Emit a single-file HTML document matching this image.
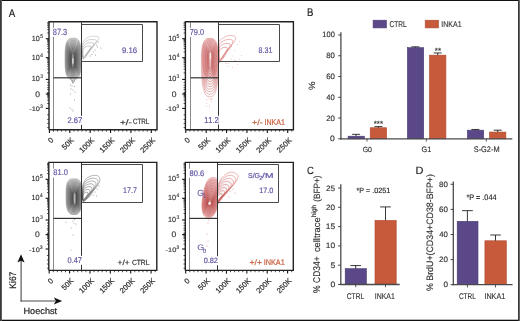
<!DOCTYPE html>
<html><head><meta charset="utf-8"><style>
html,body{margin:0;padding:0;background:#fff;width:520px;height:321px;overflow:hidden}
svg{display:block;will-change:transform}
</style></head><body>
<svg width="520" height="321" viewBox="0 0 520 321" font-family='"Liberation Sans", sans-serif' text-rendering="geometricPrecision" style="font-kerning:none"><defs><clipPath id="cTL"><rect x="49" y="22" width="32.5" height="108"/></clipPath><clipPath id="cTR"><rect x="185.4" y="22" width="32.599999999999994" height="108"/></clipPath><clipPath id="cBL"><rect x="48.8" y="162.5" width="32.60000000000001" height="107.5"/></clipPath><clipPath id="cBR"><rect x="185.3" y="162.5" width="32.69999999999999" height="107.5"/></clipPath><clipPath id="fTL"><rect x="81.5" y="22" width="75.5" height="108"/></clipPath><clipPath id="fTR"><rect x="218" y="22" width="76" height="108"/></clipPath><clipPath id="fBL"><rect x="81.4" y="162.5" width="75.6" height="107.5"/></clipPath><clipPath id="fBR"><rect x="218" y="162.5" width="76" height="107.5"/></clipPath></defs><rect x="0.00" y="0.00" width="520.00" height="321.00" fill="#fff" stroke="none" stroke-width="0"/><line x1="47.20" y1="32.98" x2="49.00" y2="32.98" stroke="#222" stroke-width="0.8"/><line x1="47.20" y1="29.63" x2="49.00" y2="29.63" stroke="#222" stroke-width="0.8"/><line x1="47.20" y1="27.26" x2="49.00" y2="27.26" stroke="#222" stroke-width="0.8"/><line x1="47.20" y1="25.42" x2="49.00" y2="25.42" stroke="#222" stroke-width="0.8"/><line x1="47.20" y1="23.92" x2="49.00" y2="23.92" stroke="#222" stroke-width="0.8"/><line x1="47.20" y1="22.64" x2="49.00" y2="22.64" stroke="#222" stroke-width="0.8"/><line x1="47.20" y1="51.98" x2="49.00" y2="51.98" stroke="#222" stroke-width="0.8"/><line x1="47.20" y1="48.63" x2="49.00" y2="48.63" stroke="#222" stroke-width="0.8"/><line x1="47.20" y1="46.26" x2="49.00" y2="46.26" stroke="#222" stroke-width="0.8"/><line x1="47.20" y1="44.42" x2="49.00" y2="44.42" stroke="#222" stroke-width="0.8"/><line x1="47.20" y1="42.92" x2="49.00" y2="42.92" stroke="#222" stroke-width="0.8"/><line x1="47.20" y1="41.64" x2="49.00" y2="41.64" stroke="#222" stroke-width="0.8"/><line x1="47.20" y1="40.54" x2="49.00" y2="40.54" stroke="#222" stroke-width="0.8"/><line x1="47.20" y1="39.57" x2="49.00" y2="39.57" stroke="#222" stroke-width="0.8"/><line x1="47.20" y1="72.87" x2="49.00" y2="72.87" stroke="#222" stroke-width="0.8"/><line x1="47.20" y1="69.05" x2="49.00" y2="69.05" stroke="#222" stroke-width="0.8"/><line x1="47.20" y1="66.34" x2="49.00" y2="66.34" stroke="#222" stroke-width="0.8"/><line x1="47.20" y1="64.23" x2="49.00" y2="64.23" stroke="#222" stroke-width="0.8"/><line x1="47.20" y1="62.51" x2="49.00" y2="62.51" stroke="#222" stroke-width="0.8"/><line x1="47.20" y1="61.06" x2="49.00" y2="61.06" stroke="#222" stroke-width="0.8"/><line x1="47.20" y1="59.80" x2="49.00" y2="59.80" stroke="#222" stroke-width="0.8"/><line x1="47.20" y1="58.69" x2="49.00" y2="58.69" stroke="#222" stroke-width="0.8"/><line x1="47.20" y1="82.40" x2="49.00" y2="82.40" stroke="#222" stroke-width="0.8"/><line x1="47.20" y1="85.20" x2="49.00" y2="85.20" stroke="#222" stroke-width="0.8"/><line x1="47.20" y1="87.70" x2="49.00" y2="87.70" stroke="#222" stroke-width="0.8"/><line x1="47.20" y1="89.60" x2="49.00" y2="89.60" stroke="#222" stroke-width="0.8"/><line x1="47.20" y1="92.50" x2="49.00" y2="92.50" stroke="#222" stroke-width="0.8"/><line x1="47.20" y1="93.50" x2="49.00" y2="93.50" stroke="#222" stroke-width="0.8"/><line x1="47.20" y1="94.50" x2="49.00" y2="94.50" stroke="#222" stroke-width="0.8"/><line x1="47.20" y1="95.50" x2="49.00" y2="95.50" stroke="#222" stroke-width="0.8"/><line x1="47.20" y1="96.60" x2="49.00" y2="96.60" stroke="#222" stroke-width="0.8"/><line x1="47.20" y1="98.00" x2="49.00" y2="98.00" stroke="#222" stroke-width="0.8"/><line x1="47.20" y1="100.20" x2="49.00" y2="100.20" stroke="#222" stroke-width="0.8"/><line x1="47.20" y1="103.50" x2="49.00" y2="103.50" stroke="#222" stroke-width="0.8"/><line x1="47.20" y1="114.90" x2="49.00" y2="114.90" stroke="#222" stroke-width="0.8"/><line x1="47.20" y1="119.40" x2="49.00" y2="119.40" stroke="#222" stroke-width="0.8"/><line x1="47.20" y1="123.40" x2="49.00" y2="123.40" stroke="#222" stroke-width="0.8"/><line x1="47.20" y1="127.60" x2="49.00" y2="127.60" stroke="#222" stroke-width="0.8"/><line x1="45.80" y1="38.70" x2="49.00" y2="38.70" stroke="#111" stroke-width="1.1"/><line x1="45.80" y1="57.70" x2="49.00" y2="57.70" stroke="#111" stroke-width="1.1"/><line x1="45.80" y1="79.40" x2="49.00" y2="79.40" stroke="#111" stroke-width="1.1"/><line x1="45.80" y1="94.00" x2="49.00" y2="94.00" stroke="#111" stroke-width="1.1"/><line x1="45.80" y1="108.40" x2="49.00" y2="108.40" stroke="#111" stroke-width="1.1"/><line x1="53.48" y1="129.80" x2="53.48" y2="131.60" stroke="#222" stroke-width="0.8"/><line x1="57.55" y1="129.80" x2="57.55" y2="131.60" stroke="#222" stroke-width="0.8"/><line x1="61.63" y1="129.80" x2="61.63" y2="131.60" stroke="#222" stroke-width="0.8"/><line x1="65.70" y1="129.80" x2="65.70" y2="131.60" stroke="#222" stroke-width="0.8"/><line x1="73.86" y1="129.80" x2="73.86" y2="131.60" stroke="#222" stroke-width="0.8"/><line x1="77.93" y1="129.80" x2="77.93" y2="131.60" stroke="#222" stroke-width="0.8"/><line x1="82.01" y1="129.80" x2="82.01" y2="131.60" stroke="#222" stroke-width="0.8"/><line x1="86.08" y1="129.80" x2="86.08" y2="131.60" stroke="#222" stroke-width="0.8"/><line x1="94.24" y1="129.80" x2="94.24" y2="131.60" stroke="#222" stroke-width="0.8"/><line x1="98.31" y1="129.80" x2="98.31" y2="131.60" stroke="#222" stroke-width="0.8"/><line x1="102.39" y1="129.80" x2="102.39" y2="131.60" stroke="#222" stroke-width="0.8"/><line x1="106.46" y1="129.80" x2="106.46" y2="131.60" stroke="#222" stroke-width="0.8"/><line x1="114.62" y1="129.80" x2="114.62" y2="131.60" stroke="#222" stroke-width="0.8"/><line x1="118.69" y1="129.80" x2="118.69" y2="131.60" stroke="#222" stroke-width="0.8"/><line x1="122.77" y1="129.80" x2="122.77" y2="131.60" stroke="#222" stroke-width="0.8"/><line x1="126.84" y1="129.80" x2="126.84" y2="131.60" stroke="#222" stroke-width="0.8"/><line x1="135.00" y1="129.80" x2="135.00" y2="131.60" stroke="#222" stroke-width="0.8"/><line x1="139.07" y1="129.80" x2="139.07" y2="131.60" stroke="#222" stroke-width="0.8"/><line x1="143.15" y1="129.80" x2="143.15" y2="131.60" stroke="#222" stroke-width="0.8"/><line x1="147.22" y1="129.80" x2="147.22" y2="131.60" stroke="#222" stroke-width="0.8"/><line x1="155.38" y1="129.80" x2="155.38" y2="131.60" stroke="#222" stroke-width="0.8"/><line x1="49.40" y1="129.80" x2="49.40" y2="133.00" stroke="#111" stroke-width="1.1"/><line x1="69.78" y1="129.80" x2="69.78" y2="133.00" stroke="#111" stroke-width="1.1"/><line x1="90.16" y1="129.80" x2="90.16" y2="133.00" stroke="#111" stroke-width="1.1"/><line x1="110.54" y1="129.80" x2="110.54" y2="133.00" stroke="#111" stroke-width="1.1"/><line x1="130.92" y1="129.80" x2="130.92" y2="133.00" stroke="#111" stroke-width="1.1"/><line x1="151.30" y1="129.80" x2="151.30" y2="133.00" stroke="#111" stroke-width="1.1"/><path d="M81.10,58.80 C81.10,60.71 81.09,63.05 81.06,64.51 C81.03,65.97 80.99,66.65 80.93,67.57 C80.87,68.48 80.80,69.25 80.71,69.99 C80.63,70.74 80.53,71.40 80.41,72.03 C80.30,72.66 80.17,73.23 80.02,73.76 C79.88,74.29 79.72,74.78 79.54,75.23 C79.37,75.68 79.18,76.08 78.97,76.45 C78.76,76.82 78.53,77.15 78.29,77.45 C78.04,77.74 77.78,78.00 77.49,78.22 C77.20,78.43 76.90,78.62 76.54,78.76 C76.18,78.91 75.91,79.02 75.34,79.09 C74.77,79.16 73.85,79.20 73.10,79.20 C72.35,79.20 71.43,79.16 70.86,79.09 C70.29,79.02 70.02,78.91 69.66,78.76 C69.30,78.62 69.00,78.43 68.71,78.22 C68.42,78.00 68.16,77.74 67.91,77.45 C67.67,77.15 67.44,76.82 67.23,76.45 C67.02,76.08 66.83,75.68 66.66,75.23 C66.48,74.78 66.32,74.29 66.18,73.76 C66.03,73.23 65.90,72.66 65.79,72.03 C65.67,71.40 65.57,70.74 65.49,69.99 C65.40,69.25 65.33,68.48 65.27,67.57 C65.21,66.65 65.17,65.97 65.14,64.51 C65.11,63.05 65.10,60.71 65.10,58.80 C65.10,56.89 65.11,54.51 65.14,53.03 C65.17,51.55 65.21,50.87 65.27,49.95 C65.33,49.03 65.40,48.25 65.49,47.50 C65.57,46.75 65.67,46.08 65.79,45.44 C65.90,44.81 66.03,44.23 66.18,43.69 C66.32,43.16 66.48,42.67 66.66,42.21 C66.83,41.76 67.02,41.35 67.23,40.97 C67.44,40.60 67.67,40.27 67.91,39.97 C68.16,39.67 68.42,39.42 68.71,39.19 C69.00,38.97 69.30,38.79 69.66,38.64 C70.02,38.49 70.29,38.38 70.86,38.31 C71.43,38.24 72.35,38.20 73.10,38.20 C73.85,38.20 74.77,38.24 75.34,38.31 C75.91,38.38 76.18,38.49 76.54,38.64 C76.90,38.79 77.20,38.97 77.49,39.19 C77.78,39.42 78.04,39.67 78.29,39.97 C78.53,40.27 78.76,40.60 78.97,40.97 C79.18,41.35 79.37,41.76 79.54,42.21 C79.72,42.67 79.88,43.16 80.02,43.69 C80.17,44.23 80.30,44.81 80.41,45.44 C80.53,46.08 80.63,46.75 80.71,47.50 C80.80,48.25 80.87,49.03 80.93,49.95 C80.99,50.87 81.03,51.55 81.06,53.03 C81.09,54.51 81.10,56.89 81.10,58.80Z" fill="#5e5e5e" fill-opacity="0.055" stroke="#5e5e5e" stroke-width="0.45" stroke-opacity="0.9" clip-path="url(#cTL)"/><path d="M80.58,58.91 C80.58,60.73 80.56,62.95 80.54,64.34 C80.51,65.73 80.47,66.37 80.42,67.24 C80.36,68.10 80.30,68.84 80.22,69.54 C80.14,70.25 80.04,70.88 79.93,71.48 C79.83,72.07 79.70,72.61 79.57,73.12 C79.43,73.63 79.28,74.09 79.12,74.52 C78.95,74.94 78.77,75.33 78.58,75.68 C78.38,76.03 78.17,76.34 77.94,76.62 C77.71,76.90 77.47,77.15 77.19,77.35 C76.92,77.56 76.64,77.74 76.30,77.87 C75.97,78.01 75.72,78.12 75.18,78.19 C74.64,78.26 73.78,78.29 73.08,78.29 C72.38,78.29 71.52,78.26 70.98,78.19 C70.44,78.12 70.20,78.01 69.86,77.87 C69.52,77.74 69.24,77.56 68.97,77.35 C68.69,77.15 68.45,76.90 68.22,76.62 C67.99,76.34 67.78,76.03 67.58,75.68 C67.39,75.33 67.21,74.94 67.04,74.52 C66.88,74.09 66.73,73.63 66.59,73.12 C66.46,72.61 66.34,72.07 66.23,71.48 C66.12,70.88 66.03,70.25 65.95,69.54 C65.87,68.84 65.80,68.10 65.74,67.24 C65.69,66.37 65.65,65.73 65.62,64.34 C65.60,62.95 65.58,60.73 65.58,58.91 C65.58,57.09 65.60,54.83 65.62,53.43 C65.65,52.03 65.69,51.38 65.74,50.50 C65.80,49.63 65.87,48.89 65.95,48.17 C66.03,47.46 66.12,46.82 66.23,46.22 C66.34,45.62 66.46,45.07 66.59,44.56 C66.73,44.05 66.88,43.58 67.04,43.15 C67.21,42.72 67.39,42.33 67.58,41.98 C67.78,41.62 67.99,41.30 68.22,41.02 C68.45,40.74 68.69,40.50 68.97,40.28 C69.24,40.07 69.52,39.90 69.86,39.76 C70.20,39.62 70.44,39.51 70.98,39.44 C71.52,39.37 72.38,39.34 73.08,39.34 C73.78,39.34 74.64,39.37 75.18,39.44 C75.72,39.51 75.97,39.62 76.30,39.76 C76.64,39.90 76.92,40.07 77.19,40.28 C77.47,40.50 77.71,40.74 77.94,41.02 C78.17,41.30 78.38,41.62 78.58,41.98 C78.77,42.33 78.95,42.72 79.12,43.15 C79.28,43.58 79.43,44.05 79.57,44.56 C79.70,45.07 79.83,45.62 79.93,46.22 C80.04,46.82 80.14,47.46 80.22,48.17 C80.30,48.89 80.36,49.63 80.42,50.50 C80.47,51.38 80.51,52.03 80.54,53.43 C80.56,54.83 80.58,57.09 80.58,58.91Z" fill="#595959" fill-opacity="0.055" stroke="#595959" stroke-width="0.45" stroke-opacity="0.9" clip-path="url(#cTL)"/><path d="M80.06,59.02 C80.06,60.74 80.04,62.85 80.02,64.16 C79.99,65.48 79.96,66.09 79.91,66.91 C79.86,67.73 79.79,68.42 79.72,69.09 C79.64,69.76 79.56,70.36 79.46,70.92 C79.35,71.49 79.24,72.00 79.11,72.48 C78.99,72.96 78.85,73.40 78.69,73.80 C78.54,74.21 78.37,74.57 78.19,74.91 C78.01,75.24 77.81,75.54 77.60,75.80 C77.38,76.07 77.15,76.30 76.90,76.49 C76.64,76.69 76.38,76.86 76.07,76.99 C75.75,77.12 75.52,77.22 75.02,77.28 C74.52,77.35 73.72,77.38 73.06,77.38 C72.41,77.38 71.60,77.35 71.10,77.28 C70.60,77.22 70.37,77.12 70.06,76.99 C69.74,76.86 69.48,76.69 69.23,76.49 C68.97,76.30 68.74,76.07 68.53,75.80 C68.31,75.54 68.12,75.24 67.93,74.91 C67.75,74.57 67.58,74.21 67.43,73.80 C67.28,73.40 67.14,72.96 67.01,72.48 C66.88,72.00 66.77,71.49 66.67,70.92 C66.57,70.36 66.48,69.76 66.41,69.09 C66.33,68.42 66.27,67.73 66.22,66.91 C66.17,66.09 66.13,65.48 66.11,64.16 C66.08,62.85 66.07,60.74 66.07,59.02 C66.07,57.30 66.08,55.15 66.11,53.83 C66.13,52.50 66.17,51.88 66.22,51.05 C66.27,50.22 66.33,49.52 66.41,48.85 C66.48,48.17 66.57,47.57 66.67,47.00 C66.77,46.43 66.88,45.91 67.01,45.42 C67.14,44.94 67.28,44.50 67.43,44.09 C67.58,43.68 67.75,43.31 67.93,42.98 C68.12,42.64 68.31,42.34 68.53,42.07 C68.74,41.81 68.97,41.57 69.23,41.38 C69.48,41.18 69.74,41.01 70.06,40.88 C70.37,40.74 70.60,40.65 71.10,40.58 C71.60,40.51 72.41,40.48 73.06,40.48 C73.72,40.48 74.52,40.51 75.02,40.58 C75.52,40.65 75.75,40.74 76.07,40.88 C76.38,41.01 76.64,41.18 76.90,41.38 C77.15,41.57 77.38,41.81 77.60,42.07 C77.81,42.34 78.01,42.64 78.19,42.98 C78.37,43.31 78.54,43.68 78.69,44.09 C78.85,44.50 78.99,44.94 79.11,45.42 C79.24,45.91 79.35,46.43 79.46,47.00 C79.56,47.57 79.64,48.17 79.72,48.85 C79.79,49.52 79.86,50.22 79.91,51.05 C79.96,51.88 79.99,52.50 80.02,53.83 C80.04,55.15 80.06,57.30 80.06,59.02Z" fill="#545454" fill-opacity="0.055" stroke="#545454" stroke-width="0.45" stroke-opacity="0.9" clip-path="url(#cTL)"/><path d="M79.53,59.13 C79.53,60.76 79.52,62.75 79.50,63.99 C79.48,65.23 79.44,65.80 79.40,66.58 C79.35,67.36 79.29,68.01 79.22,68.64 C79.15,69.28 79.07,69.84 78.98,70.37 C78.88,70.91 78.78,71.39 78.66,71.85 C78.54,72.30 78.41,72.71 78.27,73.09 C78.13,73.47 77.97,73.82 77.80,74.13 C77.63,74.45 77.45,74.73 77.25,74.98 C77.05,75.23 76.84,75.45 76.60,75.63 C76.37,75.82 76.12,75.97 75.83,76.10 C75.54,76.22 75.33,76.32 74.86,76.38 C74.40,76.44 73.65,76.47 73.04,76.47 C72.44,76.47 71.69,76.44 71.23,76.38 C70.76,76.32 70.54,76.22 70.25,76.10 C69.96,75.97 69.72,75.82 69.48,75.63 C69.25,75.45 69.03,75.23 68.83,74.98 C68.63,74.73 68.45,74.45 68.28,74.13 C68.11,73.82 67.96,73.47 67.82,73.09 C67.67,72.71 67.54,72.30 67.43,71.85 C67.31,71.39 67.20,70.91 67.11,70.37 C67.02,69.84 66.94,69.28 66.87,68.64 C66.80,68.01 66.74,67.36 66.69,66.58 C66.64,65.80 66.61,65.23 66.59,63.99 C66.56,62.75 66.55,60.76 66.55,59.13 C66.55,57.50 66.56,55.48 66.59,54.23 C66.61,52.97 66.64,52.39 66.69,51.61 C66.74,50.82 66.80,50.16 66.87,49.52 C66.94,48.89 67.02,48.32 67.11,47.78 C67.20,47.24 67.31,46.75 67.43,46.29 C67.54,45.83 67.67,45.42 67.82,45.03 C67.96,44.64 68.11,44.30 68.28,43.98 C68.45,43.66 68.63,43.38 68.83,43.13 C69.03,42.87 69.25,42.65 69.48,42.47 C69.72,42.28 69.96,42.12 70.25,42.00 C70.54,41.87 70.76,41.78 71.23,41.71 C71.69,41.65 72.44,41.62 73.04,41.62 C73.65,41.62 74.40,41.65 74.86,41.71 C75.33,41.78 75.54,41.87 75.83,42.00 C76.12,42.12 76.37,42.28 76.60,42.47 C76.84,42.65 77.05,42.87 77.25,43.13 C77.45,43.38 77.63,43.66 77.80,43.98 C77.97,44.30 78.13,44.64 78.27,45.03 C78.41,45.42 78.54,45.83 78.66,46.29 C78.78,46.75 78.88,47.24 78.98,47.78 C79.07,48.32 79.15,48.89 79.22,49.52 C79.29,50.16 79.35,50.82 79.40,51.61 C79.44,52.39 79.48,52.97 79.50,54.23 C79.52,55.48 79.53,57.50 79.53,59.13Z" fill="#4f4f4f" fill-opacity="0.055" stroke="#4f4f4f" stroke-width="0.45" stroke-opacity="0.9" clip-path="url(#cTL)"/><path d="M79.01,59.24 C79.01,60.77 79.00,62.64 78.98,63.81 C78.96,64.98 78.93,65.52 78.88,66.25 C78.84,66.98 78.79,67.60 78.72,68.19 C78.66,68.79 78.58,69.32 78.50,69.82 C78.41,70.32 78.32,70.78 78.21,71.21 C78.10,71.63 77.98,72.02 77.85,72.38 C77.72,72.74 77.57,73.07 77.42,73.36 C77.26,73.66 77.09,73.92 76.91,74.16 C76.72,74.39 76.53,74.60 76.31,74.77 C76.09,74.95 75.87,75.09 75.60,75.21 C75.33,75.33 75.13,75.41 74.70,75.47 C74.27,75.53 73.58,75.56 73.02,75.56 C72.47,75.56 71.78,75.53 71.35,75.47 C70.92,75.41 70.72,75.33 70.45,75.21 C70.18,75.09 69.96,74.95 69.74,74.77 C69.52,74.60 69.33,74.39 69.14,74.16 C68.96,73.92 68.79,73.66 68.63,73.36 C68.48,73.07 68.33,72.74 68.20,72.38 C68.07,72.02 67.95,71.63 67.84,71.21 C67.73,70.78 67.64,70.32 67.55,69.82 C67.46,69.32 67.39,68.79 67.33,68.19 C67.26,67.60 67.21,66.98 67.16,66.25 C67.12,65.52 67.09,64.98 67.07,63.81 C67.05,62.64 67.04,60.77 67.04,59.24 C67.04,57.71 67.05,55.80 67.07,54.62 C67.09,53.44 67.12,52.90 67.16,52.16 C67.21,51.42 67.26,50.80 67.33,50.20 C67.39,49.60 67.46,49.06 67.55,48.55 C67.64,48.05 67.73,47.59 67.84,47.16 C67.95,46.72 68.07,46.33 68.20,45.97 C68.33,45.61 68.48,45.28 68.63,44.98 C68.79,44.68 68.96,44.41 69.14,44.18 C69.33,43.94 69.52,43.73 69.74,43.56 C69.96,43.38 70.18,43.23 70.45,43.11 C70.72,43.00 70.92,42.91 71.35,42.85 C71.78,42.79 72.47,42.76 73.02,42.76 C73.58,42.76 74.27,42.79 74.70,42.85 C75.13,42.91 75.33,43.00 75.60,43.11 C75.87,43.23 76.09,43.38 76.31,43.56 C76.53,43.73 76.72,43.94 76.91,44.18 C77.09,44.41 77.26,44.68 77.42,44.98 C77.57,45.28 77.72,45.61 77.85,45.97 C77.98,46.33 78.10,46.72 78.21,47.16 C78.32,47.59 78.41,48.05 78.50,48.55 C78.58,49.06 78.66,49.60 78.72,50.20 C78.79,50.80 78.84,51.42 78.88,52.16 C78.93,52.90 78.96,53.44 78.98,54.62 C79.00,55.80 79.01,57.71 79.01,59.24Z" fill="#4a4a4a" fill-opacity="0.055" stroke="#4a4a4a" stroke-width="0.45" stroke-opacity="0.9" clip-path="url(#cTL)"/><path d="M78.49,59.35 C78.49,60.79 78.48,62.54 78.46,63.64 C78.44,64.73 78.41,65.24 78.37,65.92 C78.33,66.61 78.29,67.19 78.23,67.74 C78.17,68.30 78.10,68.80 78.02,69.27 C77.94,69.74 77.85,70.17 77.75,70.57 C77.65,70.97 77.54,71.33 77.42,71.67 C77.30,72.01 77.17,72.31 77.03,72.59 C76.88,72.87 76.73,73.11 76.56,73.33 C76.39,73.55 76.22,73.75 76.02,73.91 C75.82,74.08 75.61,74.21 75.36,74.32 C75.12,74.43 74.94,74.51 74.54,74.57 C74.15,74.62 73.52,74.65 73.01,74.65 C72.49,74.65 71.86,74.62 71.47,74.57 C71.08,74.51 70.89,74.43 70.65,74.32 C70.40,74.21 70.20,74.08 70.00,73.91 C69.80,73.75 69.62,73.55 69.45,73.33 C69.28,73.11 69.13,72.87 68.98,72.59 C68.84,72.31 68.71,72.01 68.59,71.67 C68.47,71.33 68.36,70.97 68.26,70.57 C68.16,70.17 68.07,69.74 67.99,69.27 C67.91,68.80 67.84,68.30 67.78,67.74 C67.73,67.19 67.68,66.61 67.64,65.92 C67.60,65.24 67.57,64.73 67.55,63.64 C67.53,62.54 67.52,60.79 67.52,59.35 C67.52,57.91 67.53,56.13 67.55,55.02 C67.57,53.92 67.60,53.40 67.64,52.71 C67.68,52.02 67.73,51.44 67.78,50.87 C67.84,50.31 67.91,49.81 67.99,49.33 C68.07,48.86 68.16,48.42 68.26,48.02 C68.36,47.62 68.47,47.25 68.59,46.91 C68.71,46.57 68.84,46.26 68.98,45.98 C69.13,45.70 69.28,45.45 69.45,45.23 C69.62,45.01 69.80,44.81 70.00,44.65 C70.20,44.48 70.40,44.34 70.65,44.23 C70.89,44.12 71.08,44.04 71.47,43.98 C71.86,43.93 72.49,43.90 73.01,43.90 C73.52,43.90 74.15,43.93 74.54,43.98 C74.94,44.04 75.12,44.12 75.36,44.23 C75.61,44.34 75.82,44.48 76.02,44.65 C76.22,44.81 76.39,45.01 76.56,45.23 C76.73,45.45 76.88,45.70 77.03,45.98 C77.17,46.26 77.30,46.57 77.42,46.91 C77.54,47.25 77.65,47.62 77.75,48.02 C77.85,48.42 77.94,48.86 78.02,49.33 C78.10,49.81 78.17,50.31 78.23,50.87 C78.29,51.44 78.33,52.02 78.37,52.71 C78.41,53.40 78.44,53.92 78.46,55.02 C78.48,56.13 78.49,57.91 78.49,59.35Z" fill="#454545" fill-opacity="0.055" stroke="#454545" stroke-width="0.45" stroke-opacity="0.9" clip-path="url(#cTL)"/><path d="M77.97,59.46 C77.97,60.80 77.96,62.44 77.94,63.46 C77.93,64.48 77.90,64.96 77.86,65.60 C77.83,66.23 77.78,66.77 77.73,67.29 C77.68,67.82 77.61,68.28 77.54,68.72 C77.47,69.16 77.39,69.56 77.30,69.93 C77.21,70.30 77.11,70.64 77.00,70.96 C76.89,71.27 76.77,71.56 76.64,71.82 C76.51,72.08 76.37,72.31 76.22,72.51 C76.06,72.72 75.90,72.90 75.72,73.05 C75.54,73.20 75.35,73.33 75.13,73.43 C74.90,73.54 74.74,73.61 74.38,73.66 C74.03,73.71 73.45,73.74 72.99,73.74 C72.52,73.74 71.95,73.71 71.59,73.66 C71.23,73.61 71.07,73.54 70.85,73.43 C70.62,73.33 70.43,73.20 70.25,73.05 C70.07,72.90 69.91,72.72 69.76,72.51 C69.60,72.31 69.46,72.08 69.33,71.82 C69.20,71.56 69.08,71.27 68.97,70.96 C68.86,70.64 68.77,70.30 68.68,69.93 C68.58,69.56 68.50,69.16 68.43,68.72 C68.36,68.28 68.30,67.82 68.24,67.29 C68.19,66.77 68.15,66.23 68.11,65.60 C68.08,64.96 68.05,64.48 68.03,63.46 C68.01,62.44 68.00,60.80 68.00,59.46 C68.00,58.12 68.01,56.45 68.03,55.42 C68.05,54.39 68.08,53.91 68.11,53.26 C68.15,52.62 68.19,52.07 68.24,51.55 C68.30,51.02 68.36,50.55 68.43,50.11 C68.50,49.67 68.58,49.26 68.68,48.89 C68.77,48.51 68.86,48.17 68.97,47.85 C69.08,47.53 69.20,47.24 69.33,46.98 C69.46,46.72 69.60,46.49 69.76,46.28 C69.91,46.07 70.07,45.89 70.25,45.74 C70.43,45.58 70.62,45.45 70.85,45.35 C71.07,45.25 71.23,45.17 71.59,45.12 C71.95,45.07 72.52,45.04 72.99,45.04 C73.45,45.04 74.03,45.07 74.38,45.12 C74.74,45.17 74.90,45.25 75.13,45.35 C75.35,45.45 75.54,45.58 75.72,45.74 C75.90,45.89 76.06,46.07 76.22,46.28 C76.37,46.49 76.51,46.72 76.64,46.98 C76.77,47.24 76.89,47.53 77.00,47.85 C77.11,48.17 77.21,48.51 77.30,48.89 C77.39,49.26 77.47,49.67 77.54,50.11 C77.61,50.55 77.68,51.02 77.73,51.55 C77.78,52.07 77.83,52.62 77.86,53.26 C77.90,53.91 77.93,54.39 77.94,55.42 C77.96,56.45 77.97,58.12 77.97,59.46Z" fill="#404040" fill-opacity="0.055" stroke="#404040" stroke-width="0.45" stroke-opacity="0.9" clip-path="url(#cTL)"/><path d="M77.45,59.57 C77.45,60.81 77.44,62.33 77.42,63.28 C77.41,64.23 77.38,64.67 77.35,65.27 C77.32,65.86 77.28,66.36 77.23,66.84 C77.18,67.33 77.13,67.76 77.06,68.17 C77.00,68.58 76.93,68.95 76.84,69.29 C76.76,69.64 76.67,69.96 76.58,70.25 C76.48,70.54 76.37,70.80 76.25,71.04 C76.14,71.28 76.01,71.50 75.87,71.69 C75.74,71.88 75.59,72.05 75.43,72.19 C75.26,72.33 75.09,72.45 74.89,72.55 C74.69,72.64 74.54,72.71 74.22,72.76 C73.90,72.81 73.39,72.83 72.97,72.83 C72.55,72.83 72.03,72.81 71.71,72.76 C71.39,72.71 71.24,72.64 71.04,72.55 C70.84,72.45 70.67,72.33 70.51,72.19 C70.35,72.05 70.20,71.88 70.06,71.69 C69.93,71.50 69.80,71.28 69.68,71.04 C69.57,70.80 69.46,70.54 69.36,70.25 C69.26,69.96 69.17,69.64 69.09,69.29 C69.01,68.95 68.94,68.58 68.87,68.17 C68.81,67.76 68.75,67.33 68.70,66.84 C68.66,66.36 68.62,65.86 68.58,65.27 C68.55,64.67 68.53,64.23 68.51,63.28 C68.50,62.33 68.49,60.81 68.49,59.57 C68.49,58.33 68.50,56.78 68.51,55.82 C68.53,54.86 68.55,54.42 68.58,53.82 C68.62,53.22 68.66,52.71 68.70,52.22 C68.75,51.74 68.81,51.30 68.87,50.89 C68.94,50.48 69.01,50.10 69.09,49.75 C69.17,49.40 69.26,49.08 69.36,48.79 C69.46,48.49 69.57,48.23 69.68,47.98 C69.80,47.74 69.93,47.52 70.06,47.33 C70.20,47.14 70.35,46.97 70.51,46.83 C70.67,46.68 70.84,46.56 71.04,46.47 C71.24,46.37 71.39,46.30 71.71,46.25 C72.03,46.20 72.55,46.18 72.97,46.18 C73.39,46.18 73.90,46.20 74.22,46.25 C74.54,46.30 74.69,46.37 74.89,46.47 C75.09,46.56 75.26,46.68 75.43,46.83 C75.59,46.97 75.74,47.14 75.87,47.33 C76.01,47.52 76.14,47.74 76.25,47.98 C76.37,48.23 76.48,48.49 76.58,48.79 C76.67,49.08 76.76,49.40 76.84,49.75 C76.93,50.10 77.00,50.48 77.06,50.89 C77.13,51.30 77.18,51.74 77.23,52.22 C77.28,52.71 77.32,53.22 77.35,53.82 C77.38,54.42 77.41,54.86 77.42,55.82 C77.44,56.78 77.45,58.33 77.45,59.57Z" fill="#3b3b3b" fill-opacity="0.055" stroke="#3b3b3b" stroke-width="0.45" stroke-opacity="0.9" clip-path="url(#cTL)"/><path d="M76.93,59.68 C76.93,60.83 76.92,62.23 76.90,63.11 C76.89,63.98 76.87,64.39 76.84,64.94 C76.81,65.49 76.78,65.95 76.73,66.40 C76.69,66.84 76.64,67.24 76.58,67.62 C76.53,67.99 76.46,68.34 76.39,68.66 C76.32,68.98 76.24,69.27 76.15,69.54 C76.06,69.81 75.97,70.05 75.87,70.27 C75.76,70.49 75.65,70.69 75.53,70.87 C75.41,71.04 75.28,71.20 75.13,71.33 C74.99,71.46 74.84,71.57 74.66,71.66 C74.48,71.75 74.35,71.81 74.06,71.85 C73.78,71.90 73.32,71.92 72.95,71.92 C72.58,71.92 72.12,71.90 71.84,71.85 C71.55,71.81 71.42,71.75 71.24,71.66 C71.06,71.57 70.91,71.46 70.77,71.33 C70.62,71.20 70.49,71.04 70.37,70.87 C70.25,70.69 70.14,70.49 70.03,70.27 C69.93,70.05 69.83,69.81 69.75,69.54 C69.66,69.27 69.58,68.98 69.51,68.66 C69.44,68.34 69.37,67.99 69.31,67.62 C69.26,67.24 69.21,66.84 69.16,66.40 C69.12,65.95 69.09,65.49 69.06,64.94 C69.03,64.39 69.01,63.98 68.99,63.11 C68.98,62.23 68.97,60.83 68.97,59.68 C68.97,58.53 68.98,57.10 68.99,56.22 C69.01,55.33 69.03,54.92 69.06,54.37 C69.09,53.82 69.12,53.35 69.16,52.90 C69.21,52.45 69.26,52.05 69.31,51.67 C69.37,51.29 69.44,50.94 69.51,50.62 C69.58,50.29 69.66,50.00 69.75,49.73 C69.83,49.46 69.93,49.21 70.03,48.98 C70.14,48.76 70.25,48.56 70.37,48.38 C70.49,48.20 70.62,48.05 70.77,47.92 C70.91,47.78 71.06,47.67 71.24,47.58 C71.42,47.50 71.55,47.43 71.84,47.39 C72.12,47.34 72.58,47.32 72.95,47.32 C73.32,47.32 73.78,47.34 74.06,47.39 C74.35,47.43 74.48,47.50 74.66,47.58 C74.84,47.67 74.99,47.78 75.13,47.92 C75.28,48.05 75.41,48.20 75.53,48.38 C75.65,48.56 75.76,48.76 75.87,48.98 C75.97,49.21 76.06,49.46 76.15,49.73 C76.24,50.00 76.32,50.29 76.39,50.62 C76.46,50.94 76.53,51.29 76.58,51.67 C76.64,52.05 76.69,52.45 76.73,52.90 C76.78,53.35 76.81,53.82 76.84,54.37 C76.87,54.92 76.89,55.33 76.90,56.22 C76.92,57.10 76.93,58.53 76.93,59.68Z" fill="#363636" fill-opacity="0.055" stroke="#363636" stroke-width="0.45" stroke-opacity="0.9" clip-path="url(#cTL)"/><path d="M76.40,59.79 C76.40,60.84 76.40,62.13 76.39,62.93 C76.37,63.74 76.35,64.11 76.33,64.61 C76.31,65.11 76.27,65.54 76.24,65.95 C76.20,66.35 76.16,66.72 76.11,67.07 C76.06,67.41 76.00,67.72 75.94,68.02 C75.87,68.31 75.80,68.58 75.73,68.82 C75.65,69.07 75.57,69.30 75.48,69.50 C75.39,69.70 75.29,69.88 75.18,70.05 C75.08,70.21 74.96,70.35 74.84,70.47 C74.71,70.59 74.58,70.69 74.42,70.77 C74.27,70.85 74.15,70.91 73.90,70.95 C73.65,70.99 73.25,71.01 72.93,71.01 C72.61,71.01 72.21,70.99 71.96,70.95 C71.71,70.91 71.59,70.85 71.44,70.77 C71.28,70.69 71.15,70.59 71.02,70.47 C70.90,70.35 70.78,70.21 70.68,70.05 C70.57,69.88 70.47,69.70 70.38,69.50 C70.29,69.30 70.21,69.07 70.13,68.82 C70.06,68.58 69.99,68.31 69.92,68.02 C69.86,67.72 69.80,67.41 69.75,67.07 C69.70,66.72 69.66,66.35 69.62,65.95 C69.59,65.54 69.56,65.11 69.53,64.61 C69.51,64.11 69.49,63.74 69.47,62.93 C69.46,62.13 69.46,60.84 69.46,59.79 C69.46,58.74 69.46,57.43 69.47,56.62 C69.49,55.81 69.51,55.43 69.53,54.92 C69.56,54.41 69.59,53.99 69.62,53.57 C69.66,53.16 69.70,52.79 69.75,52.44 C69.80,52.09 69.86,51.78 69.92,51.48 C69.99,51.19 70.06,50.92 70.13,50.67 C70.21,50.42 70.29,50.19 70.38,49.99 C70.47,49.78 70.57,49.60 70.68,49.43 C70.78,49.27 70.90,49.13 71.02,49.01 C71.15,48.89 71.28,48.78 71.44,48.70 C71.59,48.62 71.71,48.56 71.96,48.52 C72.21,48.48 72.61,48.46 72.93,48.46 C73.25,48.46 73.65,48.48 73.90,48.52 C74.15,48.56 74.27,48.62 74.42,48.70 C74.58,48.78 74.71,48.89 74.84,49.01 C74.96,49.13 75.08,49.27 75.18,49.43 C75.29,49.60 75.39,49.78 75.48,49.99 C75.57,50.19 75.65,50.42 75.73,50.67 C75.80,50.92 75.87,51.19 75.94,51.48 C76.00,51.78 76.06,52.09 76.11,52.44 C76.16,52.79 76.20,53.16 76.24,53.57 C76.27,53.99 76.31,54.41 76.33,54.92 C76.35,55.43 76.37,55.81 76.39,56.62 C76.40,57.43 76.40,58.74 76.40,59.79Z" fill="#313131" fill-opacity="0.055" stroke="#313131" stroke-width="0.45" stroke-opacity="0.9" clip-path="url(#cTL)"/><path d="M75.88,59.90 C75.88,60.86 75.88,62.03 75.87,62.76 C75.86,63.49 75.84,63.83 75.82,64.28 C75.80,64.74 75.77,65.12 75.74,65.50 C75.71,65.87 75.67,66.20 75.63,66.51 C75.58,66.83 75.54,67.11 75.48,67.38 C75.43,67.65 75.37,67.89 75.30,68.11 C75.24,68.34 75.17,68.54 75.09,68.73 C75.01,68.91 74.93,69.08 74.84,69.22 C74.75,69.37 74.65,69.50 74.54,69.61 C74.43,69.72 74.32,69.81 74.19,69.88 C74.06,69.95 73.96,70.01 73.74,70.05 C73.53,70.08 73.19,70.10 72.91,70.10 C72.63,70.10 72.29,70.08 72.08,70.05 C71.87,70.01 71.77,69.95 71.63,69.88 C71.50,69.81 71.39,69.72 71.28,69.61 C71.17,69.50 71.08,69.37 70.98,69.22 C70.89,69.08 70.81,68.91 70.73,68.73 C70.65,68.54 70.58,68.34 70.52,68.11 C70.45,67.89 70.39,67.65 70.34,67.38 C70.29,67.11 70.24,66.83 70.20,66.51 C70.15,66.20 70.12,65.87 70.08,65.50 C70.05,65.12 70.02,64.74 70.00,64.28 C69.98,63.83 69.97,63.49 69.96,62.76 C69.95,62.03 69.94,60.86 69.94,59.90 C69.94,58.94 69.95,57.75 69.96,57.01 C69.97,56.28 69.98,55.94 70.00,55.47 C70.02,55.01 70.05,54.62 70.08,54.25 C70.12,53.87 70.15,53.54 70.20,53.22 C70.24,52.90 70.29,52.62 70.34,52.35 C70.39,52.08 70.45,51.83 70.52,51.61 C70.58,51.38 70.65,51.17 70.73,50.99 C70.81,50.80 70.89,50.63 70.98,50.49 C71.08,50.34 71.17,50.21 71.28,50.10 C71.39,49.99 71.50,49.89 71.63,49.82 C71.77,49.75 71.87,49.69 72.08,49.66 C72.29,49.62 72.63,49.60 72.91,49.60 C73.19,49.60 73.53,49.62 73.74,49.66 C73.96,49.69 74.06,49.75 74.19,49.82 C74.32,49.89 74.43,49.99 74.54,50.10 C74.65,50.21 74.75,50.34 74.84,50.49 C74.93,50.63 75.01,50.80 75.09,50.99 C75.17,51.17 75.24,51.38 75.30,51.61 C75.37,51.83 75.43,52.08 75.48,52.35 C75.54,52.62 75.58,52.90 75.63,53.22 C75.67,53.54 75.71,53.87 75.74,54.25 C75.77,54.62 75.80,55.01 75.82,55.47 C75.84,55.94 75.86,56.28 75.87,57.01 C75.88,57.75 75.88,58.94 75.88,59.90Z" fill="#2c2c2c" fill-opacity="0.055" stroke="#2c2c2c" stroke-width="0.45" stroke-opacity="0.9" clip-path="url(#cTL)"/><path d="M75.36,60.01 C75.36,60.87 75.36,61.92 75.35,62.58 C75.34,63.24 75.33,63.54 75.31,63.95 C75.29,64.37 75.27,64.71 75.24,65.05 C75.22,65.38 75.18,65.68 75.15,65.96 C75.11,66.25 75.07,66.50 75.03,66.74 C74.98,66.98 74.93,67.20 74.88,67.40 C74.83,67.60 74.77,67.79 74.70,67.95 C74.64,68.12 74.57,68.27 74.49,68.40 C74.42,68.53 74.34,68.65 74.25,68.75 C74.16,68.85 74.06,68.93 73.95,68.99 C73.84,69.06 73.76,69.11 73.58,69.14 C73.41,69.17 73.12,69.19 72.89,69.19 C72.66,69.19 72.38,69.17 72.20,69.14 C72.02,69.11 71.94,69.06 71.83,68.99 C71.72,68.93 71.63,68.85 71.54,68.75 C71.45,68.65 71.37,68.53 71.29,68.40 C71.22,68.27 71.15,68.12 71.08,67.95 C71.02,67.79 70.96,67.60 70.90,67.40 C70.85,67.20 70.80,66.98 70.76,66.74 C70.71,66.50 70.67,66.25 70.64,65.96 C70.60,65.68 70.57,65.38 70.54,65.05 C70.52,64.71 70.49,64.37 70.48,63.95 C70.46,63.54 70.45,63.24 70.44,62.58 C70.43,61.92 70.42,60.87 70.42,60.01 C70.42,59.15 70.43,58.08 70.44,57.41 C70.45,56.75 70.46,56.44 70.48,56.03 C70.49,55.61 70.52,55.26 70.54,54.92 C70.57,54.59 70.60,54.28 70.64,54.00 C70.67,53.71 70.71,53.45 70.76,53.21 C70.80,52.97 70.85,52.75 70.90,52.55 C70.96,52.34 71.02,52.16 71.08,51.99 C71.15,51.82 71.22,51.67 71.29,51.54 C71.37,51.40 71.45,51.29 71.54,51.19 C71.63,51.09 71.72,51.01 71.83,50.94 C71.94,50.87 72.02,50.82 72.20,50.79 C72.38,50.76 72.66,50.74 72.89,50.74 C73.12,50.74 73.41,50.76 73.58,50.79 C73.76,50.82 73.84,50.87 73.95,50.94 C74.06,51.01 74.16,51.09 74.25,51.19 C74.34,51.29 74.42,51.40 74.49,51.54 C74.57,51.67 74.64,51.82 74.70,51.99 C74.77,52.16 74.83,52.34 74.88,52.55 C74.93,52.75 74.98,52.97 75.03,53.21 C75.07,53.45 75.11,53.71 75.15,54.00 C75.18,54.28 75.22,54.59 75.24,54.92 C75.27,55.26 75.29,55.61 75.31,56.03 C75.33,56.44 75.34,56.75 75.35,57.41 C75.36,58.08 75.36,59.15 75.36,60.01Z" fill="#272727" fill-opacity="0.055" stroke="#272727" stroke-width="0.45" stroke-opacity="0.9" clip-path="url(#cTL)"/><path d="M74.84,60.12 C74.84,60.89 74.84,61.82 74.83,62.41 C74.82,62.99 74.81,63.26 74.80,63.63 C74.78,63.99 74.77,64.30 74.74,64.60 C74.72,64.89 74.70,65.16 74.67,65.41 C74.64,65.66 74.61,65.89 74.57,66.10 C74.54,66.32 74.50,66.51 74.46,66.69 C74.41,66.87 74.37,67.03 74.32,67.18 C74.26,67.33 74.21,67.46 74.15,67.58 C74.09,67.70 74.02,67.80 73.95,67.89 C73.88,67.97 73.81,68.05 73.72,68.11 C73.63,68.16 73.57,68.21 73.42,68.24 C73.28,68.27 73.06,68.28 72.87,68.28 C72.69,68.28 72.46,68.27 72.32,68.24 C72.18,68.21 72.12,68.16 72.03,68.11 C71.94,68.05 71.87,67.97 71.80,67.89 C71.72,67.80 71.66,67.70 71.60,67.58 C71.54,67.46 71.48,67.33 71.43,67.18 C71.38,67.03 71.33,66.87 71.29,66.69 C71.25,66.51 71.21,66.32 71.17,66.10 C71.14,65.89 71.11,65.66 71.08,65.41 C71.05,65.16 71.02,64.89 71.00,64.60 C70.98,64.30 70.96,63.99 70.95,63.63 C70.94,63.26 70.93,62.99 70.92,62.41 C70.91,61.82 70.91,60.89 70.91,60.12 C70.91,59.35 70.91,58.40 70.92,57.81 C70.93,57.22 70.94,56.95 70.95,56.58 C70.96,56.21 70.98,55.90 71.00,55.60 C71.02,55.30 71.05,55.03 71.08,54.78 C71.11,54.52 71.14,54.29 71.17,54.08 C71.21,53.86 71.25,53.67 71.29,53.48 C71.33,53.30 71.38,53.14 71.43,52.99 C71.48,52.84 71.54,52.71 71.60,52.59 C71.66,52.47 71.72,52.37 71.80,52.28 C71.87,52.19 71.94,52.12 72.03,52.06 C72.12,52.00 72.18,51.95 72.32,51.92 C72.46,51.89 72.69,51.88 72.87,51.88 C73.06,51.88 73.28,51.89 73.42,51.92 C73.57,51.95 73.63,52.00 73.72,52.06 C73.81,52.12 73.88,52.19 73.95,52.28 C74.02,52.37 74.09,52.47 74.15,52.59 C74.21,52.71 74.26,52.84 74.32,52.99 C74.37,53.14 74.41,53.30 74.46,53.48 C74.50,53.67 74.54,53.86 74.57,54.08 C74.61,54.29 74.64,54.52 74.67,54.78 C74.70,55.03 74.72,55.30 74.74,55.60 C74.77,55.90 74.78,56.21 74.80,56.58 C74.81,56.95 74.82,57.22 74.83,57.81 C74.84,58.40 74.84,59.35 74.84,60.12Z" fill="#222222" fill-opacity="0.055" stroke="#222222" stroke-width="0.45" stroke-opacity="0.9" clip-path="url(#cTL)"/><path d="M74.32,60.23 C74.32,60.90 74.32,61.72 74.31,62.23 C74.30,62.74 74.30,62.98 74.29,63.30 C74.28,63.62 74.26,63.89 74.25,64.15 C74.23,64.41 74.21,64.64 74.19,64.86 C74.17,65.08 74.15,65.28 74.12,65.47 C74.09,65.65 74.06,65.82 74.03,65.98 C74.00,66.14 73.97,66.28 73.93,66.41 C73.89,66.54 73.85,66.65 73.80,66.76 C73.76,66.86 73.71,66.95 73.66,67.03 C73.60,67.10 73.55,67.17 73.48,67.22 C73.42,67.27 73.37,67.31 73.26,67.33 C73.16,67.36 72.99,67.37 72.85,67.37 C72.72,67.37 72.55,67.36 72.45,67.33 C72.34,67.31 72.29,67.27 72.23,67.22 C72.16,67.17 72.11,67.10 72.05,67.03 C72.00,66.95 71.95,66.86 71.91,66.76 C71.86,66.65 71.82,66.54 71.78,66.41 C71.74,66.28 71.71,66.14 71.68,65.98 C71.64,65.82 71.62,65.65 71.59,65.47 C71.56,65.28 71.54,65.08 71.52,64.86 C71.50,64.64 71.48,64.41 71.46,64.15 C71.45,63.89 71.43,63.62 71.42,63.30 C71.41,62.98 71.41,62.74 71.40,62.23 C71.39,61.72 71.39,60.90 71.39,60.23 C71.39,59.56 71.39,58.73 71.40,58.21 C71.41,57.69 71.41,57.45 71.42,57.13 C71.43,56.81 71.45,56.54 71.46,56.27 C71.48,56.01 71.50,55.78 71.52,55.55 C71.54,55.33 71.56,55.13 71.59,54.94 C71.62,54.75 71.64,54.58 71.68,54.42 C71.71,54.27 71.74,54.12 71.78,53.99 C71.82,53.86 71.86,53.74 71.91,53.64 C71.95,53.54 72.00,53.45 72.05,53.37 C72.11,53.29 72.16,53.23 72.23,53.17 C72.29,53.12 72.34,53.08 72.45,53.06 C72.55,53.03 72.72,53.02 72.85,53.02 C72.99,53.02 73.16,53.03 73.26,53.06 C73.37,53.08 73.42,53.12 73.48,53.17 C73.55,53.23 73.60,53.29 73.66,53.37 C73.71,53.45 73.76,53.54 73.80,53.64 C73.85,53.74 73.89,53.86 73.93,53.99 C73.97,54.12 74.00,54.27 74.03,54.42 C74.06,54.58 74.09,54.75 74.12,54.94 C74.15,55.13 74.17,55.33 74.19,55.55 C74.21,55.78 74.23,56.01 74.25,56.27 C74.26,56.54 74.28,56.81 74.29,57.13 C74.30,57.45 74.30,57.69 74.31,58.21 C74.32,58.73 74.32,59.56 74.32,60.23Z" fill="#1e1e1e" fill-opacity="0.055" stroke="#1e1e1e" stroke-width="0.45" stroke-opacity="0.9" clip-path="url(#cTL)"/><ellipse cx="72.9" cy="61" rx="0.8" ry="3.2" fill="#fff" opacity="0.7"/><path d="M70.5,79 L73,83.5 L75.5,79 M71.5,79.5 L73,82 L74.5,79.5" fill="none" stroke="#777" stroke-width="0.45"/><path d="M82.30,58.50 C81.68,56.42 81.35,47.53 82.30,44.00 C83.25,40.47 85.80,38.58 88.00,37.30 C90.20,36.02 93.67,36.10 95.50,36.30 C97.33,36.50 99.58,36.55 99.00,38.50 C98.42,40.45 94.17,45.00 92.00,48.00 C89.83,51.00 87.62,54.75 86.00,56.50 C84.38,58.25 82.92,60.58 82.30,58.50Z" fill="#9a9a9a" fill-opacity="0.0" stroke="#9a9a9a" stroke-width="0.42" stroke-opacity="0.95" clip-path="url(#fTL)"/><path d="M82.60,57.89 C82.09,56.17 81.81,48.84 82.60,45.92 C83.38,43.01 85.48,41.46 87.30,40.40 C89.11,39.34 91.97,39.41 93.49,39.57 C95.00,39.74 96.86,39.78 96.38,41.39 C95.89,43.00 92.39,46.75 90.60,49.23 C88.81,51.70 86.98,54.79 85.65,56.24 C84.32,57.68 83.11,59.61 82.60,57.89Z" fill="#8f8f8f" fill-opacity="0.0" stroke="#8f8f8f" stroke-width="0.42" stroke-opacity="0.95" clip-path="url(#fTL)"/><path d="M82.89,57.27 C82.49,55.92 82.28,50.15 82.89,47.85 C83.51,45.55 85.17,44.33 86.60,43.49 C88.03,42.66 90.28,42.71 91.47,42.84 C92.67,42.98 94.13,43.01 93.75,44.28 C93.37,45.54 90.61,48.50 89.20,50.45 C87.79,52.40 86.35,54.84 85.30,55.98 C84.25,57.11 83.30,58.63 82.89,57.27Z" fill="#848484" fill-opacity="0.0" stroke="#848484" stroke-width="0.42" stroke-opacity="0.95" clip-path="url(#fTL)"/><path d="M83.19,56.66 C82.90,55.67 82.74,51.45 83.19,49.77 C83.64,48.10 84.86,47.20 85.90,46.59 C86.95,45.98 88.59,46.02 89.46,46.12 C90.33,46.21 91.40,46.24 91.12,47.16 C90.85,48.09 88.83,50.25 87.80,51.67 C86.77,53.10 85.72,54.88 84.95,55.71 C84.18,56.54 83.49,57.65 83.19,56.66Z" fill="#7a7a7a" fill-opacity="0.0" stroke="#7a7a7a" stroke-width="0.42" stroke-opacity="0.95" clip-path="url(#fTL)"/><circle cx="72.50" cy="80.50" r="0.5" fill="#888" opacity="1"/><circle cx="74.00" cy="81.00" r="0.5" fill="#888" opacity="1"/><circle cx="73.00" cy="82.50" r="0.5" fill="#888" opacity="1"/><circle cx="70.50" cy="85.00" r="0.5" fill="#888" opacity="1"/><circle cx="72.00" cy="86.00" r="0.5" fill="#888" opacity="1"/><circle cx="74.50" cy="86.50" r="0.5" fill="#888" opacity="1"/><circle cx="71.00" cy="89.00" r="0.5" fill="#888" opacity="1"/><circle cx="73.00" cy="90.00" r="0.5" fill="#888" opacity="1"/><circle cx="75.00" cy="92.00" r="0.5" fill="#888" opacity="1"/><circle cx="70.50" cy="94.00" r="0.5" fill="#888" opacity="1"/><circle cx="74.50" cy="100.00" r="0.5" fill="#888" opacity="1"/><circle cx="70.00" cy="108.00" r="0.5" fill="#888" opacity="1"/><circle cx="72.00" cy="109.50" r="0.5" fill="#888" opacity="1"/><circle cx="73.00" cy="111.00" r="0.5" fill="#888" opacity="1"/><circle cx="96.50" cy="45.00" r="0.5" fill="#888" opacity="1"/><circle cx="97.50" cy="47.00" r="0.5" fill="#888" opacity="1"/><circle cx="95.00" cy="50.00" r="0.5" fill="#888" opacity="1"/><circle cx="93.50" cy="52.00" r="0.5" fill="#888" opacity="1"/><circle cx="92.00" cy="54.50" r="0.5" fill="#888" opacity="1"/><circle cx="90.00" cy="56.00" r="0.5" fill="#888" opacity="1"/><circle cx="98.00" cy="42.00" r="0.5" fill="#888" opacity="1"/><circle cx="95.50" cy="55.00" r="0.5" fill="#888" opacity="1"/><circle cx="101.00" cy="48.00" r="0.5" fill="#888" opacity="1"/><line x1="53.50" y1="22.40" x2="53.50" y2="129.80" stroke="#8a8a8a" stroke-width="1.0"/><line x1="81.50" y1="22.40" x2="81.50" y2="129.80" stroke="#333" stroke-width="1.0"/><line x1="53.50" y1="77.80" x2="81.50" y2="77.80" stroke="#333" stroke-width="1.2"/><path d="M81.50,24.50 H142.50 V61.50 H81.50" fill="none" stroke="#4a4a4a" stroke-width="1.0"/><path d="M49.00,129.80 V21.80 H157.00 V129.80 H49.00" fill="none" stroke="#222" stroke-width="1.4"/><rect x="52.50" y="27.80" width="15.50" height="9.00" fill="#fff" stroke="none" stroke-width="0"/><rect x="66.80" y="115.80" width="15.80" height="9.00" fill="#fff" stroke="none" stroke-width="0"/><text x="31.75" y="40.53" font-size="7.45" fill="#333" stroke="#333" stroke-width="0.15" textLength="8.03" lengthAdjust="spacingAndGlyphs" >10</text><text x="40.20" y="37.55" font-size="5.52" fill="#333" stroke="#333" stroke-width="0.15" textLength="2.82" lengthAdjust="spacingAndGlyphs" >5</text><text x="31.75" y="59.53" font-size="7.45" fill="#333" stroke="#333" stroke-width="0.15" textLength="8.03" lengthAdjust="spacingAndGlyphs" >10</text><text x="40.29" y="56.60" font-size="5.52" fill="#333" stroke="#333" stroke-width="0.15" textLength="2.65" lengthAdjust="spacingAndGlyphs" >4</text><text x="31.75" y="81.23" font-size="7.45" fill="#333" stroke="#333" stroke-width="0.15" textLength="8.03" lengthAdjust="spacingAndGlyphs" >10</text><text x="40.21" y="78.25" font-size="5.44" fill="#333" stroke="#333" stroke-width="0.15" textLength="2.82" lengthAdjust="spacingAndGlyphs" >3</text><text x="35.26" y="96.72" font-size="8.02" fill="#333" stroke="#333" stroke-width="0.15" textLength="4.77" lengthAdjust="spacingAndGlyphs" >0</text><text x="29.27" y="110.94" font-size="6.59" fill="#333" stroke="#333" stroke-width="0.15" textLength="10.72" lengthAdjust="spacingAndGlyphs" >-10</text><text x="40.22" y="108.25" font-size="4.87" fill="#333" stroke="#333" stroke-width="0.15" textLength="2.58" lengthAdjust="spacingAndGlyphs" >3</text><text x="54.00" y="140.60" font-size="7.6" fill="#2a2a2a" stroke="#2a2a2a" stroke-width="0.18" text-anchor="end" transform="rotate(-45 54.00 140.60)">0</text><text x="74.38" y="140.60" font-size="7.6" fill="#2a2a2a" stroke="#2a2a2a" stroke-width="0.18" text-anchor="end" transform="rotate(-45 74.38 140.60)">50K</text><text x="94.76" y="140.60" font-size="7.6" fill="#2a2a2a" stroke="#2a2a2a" stroke-width="0.18" text-anchor="end" transform="rotate(-45 94.76 140.60)">100K</text><text x="115.14" y="140.60" font-size="7.6" fill="#2a2a2a" stroke="#2a2a2a" stroke-width="0.18" text-anchor="end" transform="rotate(-45 115.14 140.60)">150K</text><text x="135.52" y="140.60" font-size="7.6" fill="#2a2a2a" stroke="#2a2a2a" stroke-width="0.18" text-anchor="end" transform="rotate(-45 135.52 140.60)">200K</text><text x="155.90" y="140.60" font-size="7.6" fill="#2a2a2a" stroke="#2a2a2a" stroke-width="0.18" text-anchor="end" transform="rotate(-45 155.90 140.60)">250K</text><text x="52.80" y="35.21" font-size="8.97" fill="#625aa4" stroke="#625aa4" stroke-width="0.2" textLength="14.41" lengthAdjust="spacingAndGlyphs" >87.3</text><text x="121.95" y="52.72" font-size="7.96" fill="#625aa4" stroke="#625aa4" stroke-width="0.2" textLength="15.17" lengthAdjust="spacingAndGlyphs" >9.16</text><text x="67.49" y="122.72" font-size="8.25" fill="#625aa4" stroke="#625aa4" stroke-width="0.2" textLength="14.77" lengthAdjust="spacingAndGlyphs" >2.67</text><text x="120.04" y="124.62" font-size="7.81" fill="#333" stroke="#333" stroke-width="0.2" textLength="11.78" lengthAdjust="spacingAndGlyphs" >+/-</text><text x="132.90" y="124.33" font-size="7.68" fill="#333" stroke="#333" stroke-width="0.2" textLength="16.39" lengthAdjust="spacingAndGlyphs" >CTRL</text><line x1="183.60" y1="32.98" x2="185.40" y2="32.98" stroke="#222" stroke-width="0.8"/><line x1="183.60" y1="29.63" x2="185.40" y2="29.63" stroke="#222" stroke-width="0.8"/><line x1="183.60" y1="27.26" x2="185.40" y2="27.26" stroke="#222" stroke-width="0.8"/><line x1="183.60" y1="25.42" x2="185.40" y2="25.42" stroke="#222" stroke-width="0.8"/><line x1="183.60" y1="23.92" x2="185.40" y2="23.92" stroke="#222" stroke-width="0.8"/><line x1="183.60" y1="22.64" x2="185.40" y2="22.64" stroke="#222" stroke-width="0.8"/><line x1="183.60" y1="51.98" x2="185.40" y2="51.98" stroke="#222" stroke-width="0.8"/><line x1="183.60" y1="48.63" x2="185.40" y2="48.63" stroke="#222" stroke-width="0.8"/><line x1="183.60" y1="46.26" x2="185.40" y2="46.26" stroke="#222" stroke-width="0.8"/><line x1="183.60" y1="44.42" x2="185.40" y2="44.42" stroke="#222" stroke-width="0.8"/><line x1="183.60" y1="42.92" x2="185.40" y2="42.92" stroke="#222" stroke-width="0.8"/><line x1="183.60" y1="41.64" x2="185.40" y2="41.64" stroke="#222" stroke-width="0.8"/><line x1="183.60" y1="40.54" x2="185.40" y2="40.54" stroke="#222" stroke-width="0.8"/><line x1="183.60" y1="39.57" x2="185.40" y2="39.57" stroke="#222" stroke-width="0.8"/><line x1="183.60" y1="72.87" x2="185.40" y2="72.87" stroke="#222" stroke-width="0.8"/><line x1="183.60" y1="69.05" x2="185.40" y2="69.05" stroke="#222" stroke-width="0.8"/><line x1="183.60" y1="66.34" x2="185.40" y2="66.34" stroke="#222" stroke-width="0.8"/><line x1="183.60" y1="64.23" x2="185.40" y2="64.23" stroke="#222" stroke-width="0.8"/><line x1="183.60" y1="62.51" x2="185.40" y2="62.51" stroke="#222" stroke-width="0.8"/><line x1="183.60" y1="61.06" x2="185.40" y2="61.06" stroke="#222" stroke-width="0.8"/><line x1="183.60" y1="59.80" x2="185.40" y2="59.80" stroke="#222" stroke-width="0.8"/><line x1="183.60" y1="58.69" x2="185.40" y2="58.69" stroke="#222" stroke-width="0.8"/><line x1="183.60" y1="82.40" x2="185.40" y2="82.40" stroke="#222" stroke-width="0.8"/><line x1="183.60" y1="85.20" x2="185.40" y2="85.20" stroke="#222" stroke-width="0.8"/><line x1="183.60" y1="87.70" x2="185.40" y2="87.70" stroke="#222" stroke-width="0.8"/><line x1="183.60" y1="89.60" x2="185.40" y2="89.60" stroke="#222" stroke-width="0.8"/><line x1="183.60" y1="92.50" x2="185.40" y2="92.50" stroke="#222" stroke-width="0.8"/><line x1="183.60" y1="93.50" x2="185.40" y2="93.50" stroke="#222" stroke-width="0.8"/><line x1="183.60" y1="94.50" x2="185.40" y2="94.50" stroke="#222" stroke-width="0.8"/><line x1="183.60" y1="95.50" x2="185.40" y2="95.50" stroke="#222" stroke-width="0.8"/><line x1="183.60" y1="96.60" x2="185.40" y2="96.60" stroke="#222" stroke-width="0.8"/><line x1="183.60" y1="98.00" x2="185.40" y2="98.00" stroke="#222" stroke-width="0.8"/><line x1="183.60" y1="100.20" x2="185.40" y2="100.20" stroke="#222" stroke-width="0.8"/><line x1="183.60" y1="103.50" x2="185.40" y2="103.50" stroke="#222" stroke-width="0.8"/><line x1="183.60" y1="114.90" x2="185.40" y2="114.90" stroke="#222" stroke-width="0.8"/><line x1="183.60" y1="119.40" x2="185.40" y2="119.40" stroke="#222" stroke-width="0.8"/><line x1="183.60" y1="123.40" x2="185.40" y2="123.40" stroke="#222" stroke-width="0.8"/><line x1="183.60" y1="127.60" x2="185.40" y2="127.60" stroke="#222" stroke-width="0.8"/><line x1="182.20" y1="38.70" x2="185.40" y2="38.70" stroke="#111" stroke-width="1.1"/><line x1="182.20" y1="57.70" x2="185.40" y2="57.70" stroke="#111" stroke-width="1.1"/><line x1="182.20" y1="79.40" x2="185.40" y2="79.40" stroke="#111" stroke-width="1.1"/><line x1="182.20" y1="94.00" x2="185.40" y2="94.00" stroke="#111" stroke-width="1.1"/><line x1="182.20" y1="108.40" x2="185.40" y2="108.40" stroke="#111" stroke-width="1.1"/><line x1="189.88" y1="129.80" x2="189.88" y2="131.60" stroke="#222" stroke-width="0.8"/><line x1="193.95" y1="129.80" x2="193.95" y2="131.60" stroke="#222" stroke-width="0.8"/><line x1="198.03" y1="129.80" x2="198.03" y2="131.60" stroke="#222" stroke-width="0.8"/><line x1="202.10" y1="129.80" x2="202.10" y2="131.60" stroke="#222" stroke-width="0.8"/><line x1="210.26" y1="129.80" x2="210.26" y2="131.60" stroke="#222" stroke-width="0.8"/><line x1="214.33" y1="129.80" x2="214.33" y2="131.60" stroke="#222" stroke-width="0.8"/><line x1="218.41" y1="129.80" x2="218.41" y2="131.60" stroke="#222" stroke-width="0.8"/><line x1="222.48" y1="129.80" x2="222.48" y2="131.60" stroke="#222" stroke-width="0.8"/><line x1="230.64" y1="129.80" x2="230.64" y2="131.60" stroke="#222" stroke-width="0.8"/><line x1="234.71" y1="129.80" x2="234.71" y2="131.60" stroke="#222" stroke-width="0.8"/><line x1="238.79" y1="129.80" x2="238.79" y2="131.60" stroke="#222" stroke-width="0.8"/><line x1="242.86" y1="129.80" x2="242.86" y2="131.60" stroke="#222" stroke-width="0.8"/><line x1="251.02" y1="129.80" x2="251.02" y2="131.60" stroke="#222" stroke-width="0.8"/><line x1="255.09" y1="129.80" x2="255.09" y2="131.60" stroke="#222" stroke-width="0.8"/><line x1="259.17" y1="129.80" x2="259.17" y2="131.60" stroke="#222" stroke-width="0.8"/><line x1="263.24" y1="129.80" x2="263.24" y2="131.60" stroke="#222" stroke-width="0.8"/><line x1="271.40" y1="129.80" x2="271.40" y2="131.60" stroke="#222" stroke-width="0.8"/><line x1="275.47" y1="129.80" x2="275.47" y2="131.60" stroke="#222" stroke-width="0.8"/><line x1="279.55" y1="129.80" x2="279.55" y2="131.60" stroke="#222" stroke-width="0.8"/><line x1="283.62" y1="129.80" x2="283.62" y2="131.60" stroke="#222" stroke-width="0.8"/><line x1="291.78" y1="129.80" x2="291.78" y2="131.60" stroke="#222" stroke-width="0.8"/><line x1="185.80" y1="129.80" x2="185.80" y2="133.00" stroke="#111" stroke-width="1.1"/><line x1="206.18" y1="129.80" x2="206.18" y2="133.00" stroke="#111" stroke-width="1.1"/><line x1="226.56" y1="129.80" x2="226.56" y2="133.00" stroke="#111" stroke-width="1.1"/><line x1="246.94" y1="129.80" x2="246.94" y2="133.00" stroke="#111" stroke-width="1.1"/><line x1="267.32" y1="129.80" x2="267.32" y2="133.00" stroke="#111" stroke-width="1.1"/><line x1="287.70" y1="129.80" x2="287.70" y2="133.00" stroke="#111" stroke-width="1.1"/><path d="M218.20,58.00 C218.20,59.45 218.18,60.92 218.15,62.07 C218.11,63.22 218.06,64.02 217.98,64.89 C217.91,65.77 217.82,66.56 217.72,67.31 C217.61,68.07 217.48,68.78 217.34,69.44 C217.20,70.11 217.04,70.73 216.86,71.31 C216.69,71.89 216.49,72.44 216.28,72.94 C216.07,73.44 215.84,73.90 215.60,74.32 C215.35,74.74 215.09,75.12 214.81,75.46 C214.53,75.80 214.24,76.09 213.92,76.35 C213.60,76.60 213.27,76.82 212.90,76.99 C212.53,77.16 212.20,77.29 211.71,77.37 C211.23,77.46 210.57,77.50 210.00,77.50 C209.43,77.50 208.77,77.46 208.29,77.37 C207.80,77.29 207.47,77.16 207.10,76.99 C206.73,76.82 206.40,76.60 206.08,76.35 C205.76,76.09 205.47,75.80 205.19,75.46 C204.91,75.12 204.65,74.74 204.40,74.32 C204.16,73.90 203.93,73.44 203.72,72.94 C203.51,72.44 203.31,71.89 203.14,71.31 C202.96,70.73 202.80,70.11 202.66,69.44 C202.52,68.78 202.39,68.07 202.28,67.31 C202.18,66.56 202.09,65.77 202.02,64.89 C201.94,64.02 201.89,63.22 201.85,62.07 C201.82,60.92 201.80,59.45 201.80,58.00 C201.80,56.55 201.82,54.63 201.85,53.38 C201.88,52.12 201.93,51.35 202.00,50.46 C202.07,49.57 202.15,48.78 202.25,48.03 C202.35,47.28 202.47,46.59 202.60,45.93 C202.73,45.28 202.88,44.68 203.05,44.11 C203.22,43.55 203.40,43.02 203.60,42.54 C203.80,42.06 204.01,41.62 204.25,41.22 C204.48,40.82 204.73,40.45 205.00,40.13 C205.27,39.81 205.56,39.53 205.87,39.29 C206.18,39.05 206.51,38.85 206.88,38.68 C207.25,38.52 207.56,38.40 208.08,38.32 C208.61,38.24 209.36,38.20 210.00,38.20 C210.64,38.20 211.39,38.24 211.92,38.32 C212.44,38.40 212.75,38.52 213.12,38.68 C213.49,38.85 213.82,39.05 214.13,39.29 C214.44,39.53 214.73,39.81 215.00,40.13 C215.27,40.45 215.52,40.82 215.75,41.22 C215.99,41.62 216.20,42.06 216.40,42.54 C216.60,43.02 216.78,43.55 216.95,44.11 C217.12,44.68 217.27,45.28 217.40,45.93 C217.53,46.59 217.65,47.28 217.75,48.03 C217.85,48.78 217.93,49.57 218.00,50.46 C218.07,51.35 218.12,52.12 218.15,53.38 C218.18,54.63 218.20,56.55 218.20,58.00Z" fill="#e49393" opacity="0.4" clip-path="url(#cTR)"/><path d="M218.40,58.50 C218.40,60.74 218.38,65.01 218.35,67.44 C218.31,69.88 218.26,71.36 218.19,73.09 C218.12,74.81 218.04,76.33 217.93,77.79 C217.83,79.25 217.71,80.58 217.57,81.84 C217.43,83.11 217.28,84.27 217.10,85.37 C216.93,86.46 216.74,87.47 216.54,88.40 C216.33,89.33 216.11,90.19 215.86,90.96 C215.62,91.74 215.36,92.44 215.08,93.06 C214.80,93.68 214.50,94.23 214.18,94.69 C213.86,95.16 213.52,95.55 213.14,95.86 C212.75,96.18 212.42,96.41 211.89,96.57 C211.35,96.72 210.56,96.80 209.90,96.80 C209.24,96.80 208.45,96.72 207.91,96.57 C207.38,96.41 207.05,96.18 206.66,95.86 C206.28,95.55 205.94,95.16 205.62,94.69 C205.30,94.23 205.00,93.68 204.72,93.06 C204.44,92.44 204.18,91.74 203.94,90.96 C203.69,90.19 203.47,89.33 203.26,88.40 C203.06,87.47 202.87,86.46 202.70,85.37 C202.52,84.27 202.37,83.11 202.23,81.84 C202.09,80.58 201.97,79.25 201.87,77.79 C201.76,76.33 201.68,74.81 201.61,73.09 C201.54,71.36 201.49,69.88 201.45,67.44 C201.42,65.01 201.40,60.74 201.40,58.50 C201.40,56.26 201.42,55.27 201.45,54.03 C201.49,52.79 201.54,51.99 201.62,51.08 C201.69,50.17 201.78,49.36 201.88,48.58 C201.99,47.81 202.12,47.09 202.26,46.41 C202.40,45.73 202.56,45.10 202.74,44.51 C202.92,43.92 203.11,43.38 203.32,42.87 C203.54,42.37 203.77,41.91 204.01,41.48 C204.26,41.06 204.53,40.68 204.81,40.34 C205.10,40.00 205.40,39.71 205.73,39.45 C206.05,39.20 206.39,38.98 206.78,38.81 C207.16,38.64 207.50,38.51 208.02,38.43 C208.54,38.34 209.27,38.30 209.90,38.30 C210.53,38.30 211.26,38.34 211.78,38.43 C212.30,38.51 212.64,38.64 213.02,38.81 C213.41,38.98 213.75,39.20 214.07,39.45 C214.40,39.71 214.70,40.00 214.99,40.34 C215.27,40.68 215.54,41.06 215.79,41.48 C216.03,41.91 216.26,42.37 216.48,42.87 C216.69,43.38 216.88,43.92 217.06,44.51 C217.24,45.10 217.40,45.73 217.54,46.41 C217.68,47.09 217.81,47.81 217.92,48.58 C218.02,49.36 218.11,50.17 218.18,51.08 C218.26,51.99 218.31,52.79 218.35,54.03 C218.38,55.27 218.40,56.26 218.40,58.50Z" fill="#d46c6c" fill-opacity="0.012" stroke="#d46c6c" stroke-width="0.45" stroke-opacity="0.95" clip-path="url(#cTR)"/><path d="M217.79,58.37 C217.79,60.47 217.78,64.47 217.74,66.75 C217.71,69.03 217.66,70.42 217.60,72.03 C217.54,73.65 217.46,75.07 217.36,76.44 C217.26,77.80 217.15,79.06 217.02,80.24 C216.90,81.42 216.75,82.52 216.59,83.54 C216.43,84.56 216.26,85.51 216.07,86.38 C215.88,87.25 215.67,88.05 215.45,88.78 C215.22,89.51 214.98,90.16 214.72,90.74 C214.46,91.33 214.19,91.84 213.89,92.28 C213.59,92.71 213.28,93.08 212.92,93.37 C212.57,93.66 212.27,93.88 211.77,94.03 C211.27,94.17 210.54,94.25 209.93,94.25 C209.32,94.25 208.59,94.17 208.09,94.03 C207.59,93.88 207.29,93.66 206.94,93.37 C206.58,93.08 206.27,92.71 205.97,92.28 C205.67,91.84 205.40,91.33 205.14,90.74 C204.88,90.16 204.64,89.51 204.41,88.78 C204.19,88.05 203.98,87.25 203.79,86.38 C203.60,85.51 203.43,84.56 203.27,83.54 C203.11,82.52 202.96,81.42 202.84,80.24 C202.71,79.06 202.60,77.80 202.50,76.44 C202.40,75.07 202.32,73.65 202.26,72.03 C202.20,70.42 202.15,69.03 202.12,66.75 C202.08,64.47 202.07,60.47 202.07,58.37 C202.07,56.28 202.08,55.35 202.12,54.19 C202.15,53.03 202.20,52.27 202.27,51.42 C202.33,50.57 202.42,49.81 202.52,49.09 C202.61,48.36 202.73,47.69 202.86,47.05 C202.99,46.42 203.14,45.83 203.31,45.27 C203.47,44.72 203.65,44.21 203.85,43.74 C204.04,43.26 204.26,42.83 204.49,42.43 C204.72,42.04 204.96,41.68 205.22,41.36 C205.49,41.05 205.77,40.77 206.07,40.53 C206.37,40.29 206.69,40.09 207.04,39.93 C207.39,39.77 207.71,39.65 208.19,39.57 C208.67,39.49 209.35,39.45 209.93,39.45 C210.51,39.45 211.19,39.49 211.67,39.57 C212.15,39.65 212.47,39.77 212.82,39.93 C213.17,40.09 213.49,40.29 213.79,40.53 C214.09,40.77 214.37,41.05 214.64,41.36 C214.90,41.68 215.14,42.04 215.37,42.43 C215.60,42.83 215.82,43.26 216.01,43.74 C216.21,44.21 216.39,44.72 216.55,45.27 C216.72,45.83 216.87,46.42 217.00,47.05 C217.13,47.69 217.25,48.36 217.34,49.09 C217.44,49.81 217.53,50.57 217.59,51.42 C217.66,52.27 217.71,53.03 217.74,54.19 C217.78,55.35 217.79,56.28 217.79,58.37Z" fill="#d06565" fill-opacity="0.012" stroke="#d06565" stroke-width="0.45" stroke-opacity="0.95" clip-path="url(#cTR)"/><path d="M217.19,58.25 C217.19,60.20 217.17,63.94 217.14,66.06 C217.11,68.18 217.07,69.48 217.01,70.98 C216.95,72.49 216.88,73.81 216.79,75.09 C216.70,76.36 216.60,77.53 216.48,78.63 C216.36,79.74 216.23,80.76 216.08,81.71 C215.94,82.67 215.78,83.55 215.60,84.36 C215.42,85.17 215.23,85.92 215.03,86.60 C214.82,87.28 214.60,87.89 214.36,88.43 C214.13,88.97 213.87,89.45 213.60,89.86 C213.32,90.26 213.04,90.60 212.71,90.88 C212.39,91.15 212.11,91.35 211.65,91.49 C211.19,91.63 210.52,91.70 209.96,91.70 C209.40,91.70 208.73,91.63 208.27,91.49 C207.81,91.35 207.53,91.15 207.21,90.88 C206.88,90.60 206.60,90.26 206.32,89.86 C206.05,89.45 205.79,88.97 205.56,88.43 C205.32,87.89 205.10,87.28 204.89,86.60 C204.69,85.92 204.50,85.17 204.32,84.36 C204.14,83.55 203.98,82.67 203.84,81.71 C203.69,80.76 203.56,79.74 203.44,78.63 C203.32,77.53 203.22,76.36 203.13,75.09 C203.04,73.81 202.97,72.49 202.91,70.98 C202.85,69.48 202.81,68.18 202.78,66.06 C202.75,63.94 202.73,60.20 202.74,58.25 C202.74,56.29 202.75,55.42 202.78,54.34 C202.81,53.26 202.86,52.56 202.92,51.76 C202.98,50.97 203.06,50.27 203.15,49.59 C203.24,48.91 203.34,48.28 203.47,47.69 C203.59,47.10 203.72,46.55 203.87,46.03 C204.02,45.52 204.19,45.04 204.37,44.60 C204.55,44.16 204.75,43.75 204.96,43.39 C205.17,43.02 205.39,42.68 205.64,42.39 C205.88,42.09 206.14,41.83 206.41,41.61 C206.69,41.39 206.98,41.20 207.31,41.05 C207.63,40.90 207.92,40.79 208.36,40.72 C208.80,40.64 209.43,40.61 209.96,40.61 C210.49,40.61 211.12,40.64 211.56,40.72 C212.00,40.79 212.29,40.90 212.61,41.05 C212.94,41.20 213.23,41.39 213.51,41.61 C213.78,41.83 214.04,42.09 214.28,42.39 C214.53,42.68 214.75,43.02 214.96,43.39 C215.17,43.75 215.37,44.16 215.55,44.60 C215.73,45.04 215.90,45.52 216.05,46.03 C216.20,46.55 216.33,47.10 216.45,47.69 C216.58,48.28 216.68,48.91 216.77,49.59 C216.86,50.27 216.94,50.97 217.00,51.76 C217.06,52.56 217.11,53.26 217.14,54.34 C217.17,55.42 217.18,56.29 217.19,58.25Z" fill="#cc5f5f" fill-opacity="0.012" stroke="#cc5f5f" stroke-width="0.45" stroke-opacity="0.95" clip-path="url(#cTR)"/><path d="M216.58,58.12 C216.58,59.93 216.56,63.40 216.54,65.37 C216.51,67.33 216.47,68.54 216.42,69.93 C216.36,71.33 216.30,72.56 216.22,73.74 C216.13,74.92 216.04,76.01 215.93,77.03 C215.83,78.05 215.71,79.00 215.57,79.88 C215.44,80.77 215.29,81.58 215.13,82.34 C214.97,83.10 214.80,83.79 214.61,84.42 C214.42,85.04 214.22,85.61 214.01,86.11 C213.79,86.62 213.56,87.06 213.31,87.44 C213.06,87.82 212.80,88.13 212.50,88.38 C212.20,88.64 211.95,88.83 211.53,88.95 C211.11,89.08 210.50,89.14 209.99,89.14 C209.48,89.14 208.87,89.08 208.45,88.95 C208.03,88.83 207.78,88.64 207.48,88.38 C207.18,88.13 206.92,87.82 206.67,87.44 C206.42,87.06 206.19,86.62 205.97,86.11 C205.76,85.61 205.56,85.04 205.37,84.42 C205.18,83.79 205.01,83.10 204.85,82.34 C204.69,81.58 204.54,80.77 204.41,79.88 C204.27,79.00 204.15,78.05 204.05,77.03 C203.94,76.01 203.85,74.92 203.76,73.74 C203.68,72.56 203.62,71.33 203.56,69.93 C203.51,68.54 203.47,67.33 203.44,65.37 C203.42,63.40 203.40,59.93 203.40,58.12 C203.40,56.31 203.42,55.50 203.44,54.50 C203.47,53.50 203.51,52.84 203.57,52.11 C203.63,51.37 203.69,50.72 203.78,50.09 C203.86,49.46 203.96,48.88 204.07,48.33 C204.18,47.78 204.30,47.27 204.44,46.79 C204.58,46.31 204.73,45.87 204.89,45.46 C205.06,45.05 205.24,44.68 205.43,44.34 C205.62,43.99 205.83,43.69 206.05,43.41 C206.27,43.14 206.50,42.90 206.76,42.69 C207.01,42.48 207.27,42.31 207.57,42.17 C207.87,42.03 208.13,41.93 208.53,41.86 C208.94,41.79 209.50,41.76 209.99,41.76 C210.48,41.76 211.04,41.79 211.45,41.86 C211.85,41.93 212.11,42.03 212.41,42.17 C212.71,42.31 212.97,42.48 213.22,42.69 C213.48,42.90 213.71,43.14 213.93,43.41 C214.15,43.69 214.36,43.99 214.55,44.34 C214.74,44.68 214.92,45.05 215.09,45.46 C215.25,45.87 215.40,46.31 215.54,46.79 C215.68,47.27 215.80,47.78 215.91,48.33 C216.02,48.88 216.12,49.46 216.20,50.09 C216.29,50.72 216.35,51.37 216.41,52.11 C216.47,52.84 216.51,53.50 216.54,54.50 C216.56,55.50 216.58,56.31 216.58,58.12Z" fill="#c85858" fill-opacity="0.012" stroke="#c85858" stroke-width="0.45" stroke-opacity="0.95" clip-path="url(#cTR)"/><path d="M215.97,57.99 C215.97,59.66 215.96,62.86 215.93,64.67 C215.91,66.49 215.87,67.60 215.82,68.88 C215.78,70.17 215.72,71.30 215.64,72.39 C215.57,73.48 215.49,74.48 215.39,75.42 C215.29,76.37 215.18,77.24 215.06,78.05 C214.94,78.87 214.81,79.62 214.67,80.32 C214.52,81.02 214.36,81.65 214.19,82.23 C214.02,82.81 213.84,83.33 213.65,83.80 C213.45,84.26 213.24,84.67 213.02,85.02 C212.79,85.37 212.55,85.66 212.29,85.89 C212.02,86.12 211.79,86.30 211.41,86.42 C211.03,86.53 210.48,86.59 210.02,86.59 C209.56,86.59 209.01,86.53 208.63,86.42 C208.25,86.30 208.02,86.12 207.75,85.89 C207.49,85.66 207.25,85.37 207.02,85.02 C206.80,84.67 206.59,84.26 206.39,83.80 C206.20,83.33 206.02,82.81 205.85,82.23 C205.68,81.65 205.52,81.02 205.37,80.32 C205.23,79.62 205.10,78.87 204.98,78.05 C204.86,77.24 204.75,76.37 204.65,75.42 C204.55,74.48 204.47,73.48 204.40,72.39 C204.32,71.30 204.26,70.17 204.22,68.88 C204.17,67.60 204.13,66.49 204.11,64.67 C204.08,62.86 204.07,59.66 204.07,57.99 C204.07,56.32 204.08,55.58 204.11,54.66 C204.13,53.73 204.17,53.13 204.22,52.45 C204.27,51.77 204.33,51.17 204.41,50.59 C204.48,50.01 204.57,49.47 204.67,48.97 C204.77,48.46 204.88,47.99 205.01,47.55 C205.13,47.11 205.27,46.70 205.42,46.33 C205.57,45.95 205.73,45.60 205.90,45.29 C206.07,44.97 206.26,44.69 206.46,44.44 C206.66,44.18 206.87,43.96 207.10,43.77 C207.33,43.58 207.57,43.42 207.83,43.29 C208.10,43.17 208.34,43.07 208.70,43.01 C209.07,42.94 209.58,42.91 210.02,42.91 C210.46,42.91 210.97,42.94 211.34,43.01 C211.70,43.07 211.94,43.17 212.21,43.29 C212.47,43.42 212.71,43.58 212.94,43.77 C213.17,43.96 213.38,44.18 213.58,44.44 C213.78,44.69 213.97,44.97 214.14,45.29 C214.31,45.60 214.47,45.95 214.62,46.33 C214.77,46.70 214.91,47.11 215.03,47.55 C215.16,47.99 215.27,48.46 215.37,48.97 C215.47,49.47 215.56,50.01 215.63,50.59 C215.71,51.17 215.77,51.77 215.82,52.45 C215.87,53.13 215.91,53.73 215.93,54.66 C215.96,55.58 215.97,56.32 215.97,57.99Z" fill="#c45252" fill-opacity="0.012" stroke="#c45252" stroke-width="0.45" stroke-opacity="0.95" clip-path="url(#cTR)"/><path d="M215.36,57.87 C215.36,59.39 215.35,62.32 215.33,63.98 C215.31,65.64 215.28,66.66 215.23,67.83 C215.19,69.01 215.14,70.05 215.07,71.04 C215.01,72.04 214.93,72.95 214.84,73.82 C214.76,74.68 214.66,75.48 214.55,76.23 C214.45,76.97 214.33,77.66 214.20,78.30 C214.07,78.94 213.93,79.52 213.78,80.05 C213.63,80.58 213.46,81.06 213.29,81.48 C213.11,81.91 212.93,82.28 212.73,82.60 C212.52,82.92 212.31,83.19 212.07,83.40 C211.83,83.61 211.63,83.77 211.29,83.88 C210.95,83.98 210.46,84.04 210.05,84.04 C209.64,84.04 209.15,83.98 208.81,83.88 C208.47,83.77 208.27,83.61 208.03,83.40 C207.79,83.19 207.58,82.92 207.37,82.60 C207.17,82.28 206.99,81.91 206.81,81.48 C206.64,81.06 206.47,80.58 206.32,80.05 C206.17,79.52 206.03,78.94 205.90,78.30 C205.77,77.66 205.65,76.97 205.55,76.23 C205.44,75.48 205.34,74.68 205.26,73.82 C205.17,72.95 205.09,72.04 205.03,71.04 C204.96,70.05 204.91,69.01 204.87,67.83 C204.82,66.66 204.79,65.64 204.77,63.98 C204.75,62.32 204.74,59.39 204.74,57.87 C204.74,56.34 204.75,55.66 204.77,54.81 C204.79,53.97 204.83,53.42 204.87,52.79 C204.92,52.17 204.97,51.62 205.04,51.09 C205.11,50.56 205.19,50.07 205.27,49.61 C205.36,49.14 205.46,48.71 205.57,48.31 C205.69,47.91 205.81,47.53 205.94,47.19 C206.07,46.84 206.22,46.53 206.37,46.24 C206.53,45.95 206.69,45.69 206.87,45.46 C207.05,45.23 207.24,45.02 207.44,44.85 C207.65,44.68 207.86,44.53 208.10,44.41 C208.34,44.30 208.55,44.21 208.87,44.15 C209.20,44.09 209.66,44.06 210.05,44.06 C210.44,44.06 210.90,44.09 211.23,44.15 C211.55,44.21 211.76,44.30 212.00,44.41 C212.24,44.53 212.45,44.68 212.66,44.85 C212.86,45.02 213.05,45.23 213.23,45.46 C213.41,45.69 213.57,45.95 213.73,46.24 C213.88,46.53 214.03,46.84 214.16,47.19 C214.29,47.53 214.41,47.91 214.53,48.31 C214.64,48.71 214.74,49.14 214.83,49.61 C214.91,50.07 214.99,50.56 215.06,51.09 C215.13,51.62 215.18,52.17 215.23,52.79 C215.27,53.42 215.31,53.97 215.33,54.81 C215.35,55.66 215.36,56.34 215.36,57.87Z" fill="#c04c4c" fill-opacity="0.012" stroke="#c04c4c" stroke-width="0.45" stroke-opacity="0.95" clip-path="url(#cTR)"/><path d="M214.75,57.74 C214.76,59.13 214.75,61.78 214.73,63.29 C214.71,64.79 214.68,65.71 214.64,66.78 C214.60,67.85 214.55,68.79 214.50,69.70 C214.44,70.60 214.37,71.43 214.30,72.21 C214.22,73.00 214.14,73.72 214.04,74.40 C213.95,75.08 213.84,75.70 213.73,76.28 C213.62,76.86 213.49,77.39 213.36,77.87 C213.23,78.35 213.08,78.78 212.93,79.17 C212.78,79.55 212.61,79.89 212.43,80.18 C212.26,80.47 212.07,80.71 211.86,80.91 C211.65,81.10 211.47,81.24 211.17,81.34 C210.88,81.44 210.44,81.49 210.08,81.49 C209.72,81.49 209.28,81.44 208.99,81.34 C208.69,81.24 208.51,81.10 208.30,80.91 C208.09,80.71 207.90,80.47 207.73,80.18 C207.55,79.89 207.38,79.55 207.23,79.17 C207.08,78.78 206.93,78.35 206.80,77.87 C206.67,77.39 206.54,76.86 206.43,76.28 C206.32,75.70 206.21,75.08 206.12,74.40 C206.02,73.72 205.94,73.00 205.86,72.21 C205.79,71.43 205.72,70.60 205.66,69.70 C205.61,68.79 205.56,67.85 205.52,66.78 C205.48,65.71 205.45,64.79 205.43,63.29 C205.41,61.78 205.40,59.13 205.41,57.74 C205.41,56.35 205.41,55.74 205.43,54.97 C205.45,54.20 205.48,53.70 205.52,53.14 C205.56,52.58 205.61,52.07 205.67,51.59 C205.73,51.11 205.80,50.67 205.88,50.25 C205.96,49.82 206.04,49.43 206.14,49.07 C206.24,48.70 206.35,48.36 206.46,48.05 C206.58,47.74 206.71,47.45 206.84,47.19 C206.98,46.93 207.13,46.69 207.28,46.48 C207.44,46.27 207.61,46.09 207.79,45.93 C207.97,45.77 208.15,45.64 208.36,45.53 C208.57,45.43 208.76,45.35 209.05,45.30 C209.33,45.24 209.74,45.22 210.08,45.22 C210.42,45.22 210.83,45.24 211.11,45.30 C211.40,45.35 211.59,45.43 211.80,45.53 C212.01,45.64 212.19,45.77 212.37,45.93 C212.55,46.09 212.72,46.27 212.88,46.48 C213.03,46.69 213.18,46.93 213.32,47.19 C213.45,47.45 213.58,47.74 213.70,48.05 C213.81,48.36 213.92,48.70 214.02,49.07 C214.12,49.43 214.20,49.82 214.28,50.25 C214.36,50.67 214.43,51.11 214.49,51.59 C214.55,52.07 214.60,52.58 214.64,53.14 C214.68,53.70 214.71,54.20 214.73,54.97 C214.75,55.74 214.75,56.35 214.75,57.74Z" fill="#bc4545" fill-opacity="0.012" stroke="#bc4545" stroke-width="0.45" stroke-opacity="0.95" clip-path="url(#cTR)"/><path d="M214.15,57.61 C214.15,58.86 214.14,61.24 214.12,62.59 C214.11,63.95 214.08,64.77 214.05,65.73 C214.02,66.69 213.97,67.54 213.93,68.35 C213.88,69.16 213.82,69.90 213.75,70.61 C213.69,71.31 213.61,71.96 213.53,72.57 C213.45,73.18 213.36,73.74 213.26,74.26 C213.16,74.78 213.06,75.25 212.94,75.68 C212.83,76.12 212.70,76.51 212.57,76.85 C212.44,77.20 212.30,77.50 212.14,77.76 C211.99,78.02 211.83,78.24 211.65,78.41 C211.47,78.59 211.31,78.72 211.05,78.80 C210.80,78.89 210.42,78.93 210.11,78.93 C209.80,78.93 209.42,78.89 209.17,78.80 C208.91,78.72 208.75,78.59 208.57,78.41 C208.39,78.24 208.23,78.02 208.08,77.76 C207.92,77.50 207.78,77.20 207.65,76.85 C207.52,76.51 207.39,76.12 207.28,75.68 C207.16,75.25 207.06,74.78 206.96,74.26 C206.86,73.74 206.77,73.18 206.69,72.57 C206.61,71.96 206.53,71.31 206.47,70.61 C206.40,69.90 206.34,69.16 206.29,68.35 C206.25,67.54 206.20,66.69 206.17,65.73 C206.14,64.77 206.11,63.95 206.10,62.59 C206.08,61.24 206.07,58.86 206.07,57.61 C206.07,56.37 206.08,55.81 206.10,55.13 C206.12,54.44 206.14,53.99 206.17,53.48 C206.21,52.98 206.25,52.53 206.30,52.09 C206.35,51.66 206.41,51.26 206.48,50.88 C206.55,50.51 206.62,50.16 206.71,49.83 C206.79,49.50 206.89,49.20 206.99,48.91 C207.09,48.63 207.20,48.38 207.31,48.14 C207.43,47.91 207.56,47.69 207.69,47.51 C207.83,47.32 207.97,47.15 208.13,47.01 C208.28,46.87 208.45,46.75 208.63,46.65 C208.81,46.56 208.97,46.49 209.22,46.44 C209.46,46.39 209.81,46.37 210.11,46.37 C210.41,46.37 210.76,46.39 211.00,46.44 C211.25,46.49 211.41,46.56 211.59,46.65 C211.77,46.75 211.94,46.87 212.09,47.01 C212.25,47.15 212.39,47.32 212.53,47.51 C212.66,47.69 212.79,47.91 212.91,48.14 C213.02,48.38 213.13,48.63 213.23,48.91 C213.33,49.20 213.43,49.50 213.51,49.83 C213.60,50.16 213.67,50.51 213.74,50.88 C213.81,51.26 213.87,51.66 213.92,52.09 C213.97,52.53 214.01,52.98 214.05,53.48 C214.08,53.99 214.10,54.44 214.12,55.13 C214.14,55.81 214.15,56.37 214.15,57.61Z" fill="#b83f3f" fill-opacity="0.012" stroke="#b83f3f" stroke-width="0.45" stroke-opacity="0.95" clip-path="url(#cTR)"/><path d="M213.54,57.49 C213.54,58.59 213.53,60.70 213.52,61.90 C213.51,63.10 213.48,63.83 213.46,64.68 C213.43,65.53 213.39,66.28 213.35,67.00 C213.31,67.72 213.26,68.38 213.21,69.00 C213.15,69.63 213.09,70.20 213.02,70.74 C212.95,71.28 212.88,71.78 212.79,72.24 C212.71,72.70 212.62,73.12 212.53,73.50 C212.43,73.88 212.32,74.23 212.21,74.54 C212.10,74.84 211.98,75.11 211.85,75.34 C211.72,75.57 211.59,75.77 211.43,75.92 C211.28,76.07 211.15,76.19 210.93,76.27 C210.72,76.34 210.40,76.38 210.14,76.38 C209.88,76.38 209.56,76.34 209.35,76.27 C209.13,76.19 209.00,76.07 208.85,75.92 C208.69,75.77 208.56,75.57 208.43,75.34 C208.30,75.11 208.18,74.84 208.07,74.54 C207.96,74.23 207.85,73.88 207.75,73.50 C207.66,73.12 207.57,72.70 207.49,72.24 C207.40,71.78 207.33,71.28 207.26,70.74 C207.19,70.20 207.13,69.63 207.07,69.00 C207.02,68.38 206.97,67.72 206.93,67.00 C206.89,66.28 206.85,65.53 206.82,64.68 C206.80,63.83 206.77,63.10 206.76,61.90 C206.75,60.70 206.74,58.59 206.74,57.49 C206.74,56.38 206.75,55.89 206.76,55.28 C206.78,54.67 206.80,54.27 206.83,53.83 C206.85,53.38 206.89,52.98 206.93,52.59 C206.98,52.21 207.03,51.86 207.08,51.52 C207.14,51.19 207.20,50.88 207.28,50.59 C207.35,50.30 207.42,50.03 207.51,49.78 C207.59,49.53 207.69,49.30 207.79,49.09 C207.89,48.88 207.99,48.70 208.11,48.53 C208.22,48.36 208.34,48.21 208.47,48.09 C208.60,47.96 208.74,47.86 208.89,47.77 C209.04,47.69 209.18,47.63 209.39,47.58 C209.60,47.54 209.89,47.52 210.14,47.52 C210.39,47.52 210.68,47.54 210.89,47.58 C211.10,47.63 211.24,47.69 211.39,47.77 C211.54,47.86 211.68,47.96 211.81,48.09 C211.94,48.21 212.06,48.36 212.17,48.53 C212.29,48.70 212.39,48.88 212.49,49.09 C212.59,49.30 212.69,49.53 212.77,49.78 C212.86,50.03 212.93,50.30 213.00,50.59 C213.08,50.88 213.14,51.19 213.20,51.52 C213.25,51.86 213.30,52.21 213.35,52.59 C213.39,52.98 213.43,53.38 213.45,53.83 C213.48,54.27 213.50,54.67 213.52,55.28 C213.53,55.89 213.54,56.38 213.54,57.49Z" fill="#b43939" fill-opacity="0.012" stroke="#b43939" stroke-width="0.45" stroke-opacity="0.95" clip-path="url(#cTR)"/><path d="M212.93,57.36 C212.93,58.32 212.93,60.16 212.92,61.21 C212.90,62.25 212.89,62.89 212.86,63.63 C212.84,64.37 212.81,65.02 212.78,65.65 C212.75,66.28 212.71,66.85 212.66,67.40 C212.62,67.94 212.57,68.44 212.51,68.91 C212.46,69.38 212.39,69.82 212.33,70.22 C212.26,70.62 212.19,70.99 212.11,71.32 C212.03,71.65 211.94,71.95 211.85,72.22 C211.76,72.49 211.67,72.72 211.56,72.92 C211.46,73.12 211.35,73.29 211.22,73.43 C211.10,73.56 210.99,73.66 210.82,73.73 C210.64,73.80 210.39,73.83 210.17,73.83 C209.95,73.83 209.70,73.80 209.52,73.73 C209.35,73.66 209.24,73.56 209.12,73.43 C208.99,73.29 208.88,73.12 208.78,72.92 C208.67,72.72 208.58,72.49 208.49,72.22 C208.40,71.95 208.31,71.65 208.23,71.32 C208.15,70.99 208.08,70.62 208.01,70.22 C207.95,69.82 207.88,69.38 207.83,68.91 C207.77,68.44 207.72,67.94 207.68,67.40 C207.63,66.85 207.59,66.28 207.56,65.65 C207.53,65.02 207.50,64.37 207.48,63.63 C207.45,62.89 207.44,62.25 207.42,61.21 C207.41,60.16 207.41,58.32 207.41,57.36 C207.41,56.40 207.41,55.97 207.43,55.44 C207.44,54.91 207.45,54.56 207.48,54.17 C207.50,53.78 207.53,53.43 207.56,53.10 C207.60,52.76 207.64,52.45 207.69,52.16 C207.73,51.87 207.79,51.60 207.84,51.35 C207.90,51.09 207.96,50.86 208.03,50.64 C208.10,50.42 208.18,50.22 208.26,50.04 C208.34,49.86 208.42,49.70 208.52,49.55 C208.61,49.41 208.71,49.28 208.81,49.17 C208.92,49.06 209.03,48.97 209.15,48.89 C209.28,48.82 209.39,48.77 209.56,48.73 C209.73,48.69 209.97,48.67 210.17,48.67 C210.37,48.67 210.61,48.69 210.78,48.73 C210.95,48.77 211.06,48.82 211.19,48.89 C211.31,48.97 211.42,49.06 211.53,49.17 C211.63,49.28 211.73,49.41 211.82,49.55 C211.92,49.70 212.00,49.86 212.08,50.04 C212.16,50.22 212.24,50.42 212.31,50.64 C212.38,50.86 212.44,51.09 212.50,51.35 C212.55,51.60 212.61,51.87 212.65,52.16 C212.70,52.45 212.74,52.76 212.78,53.10 C212.81,53.43 212.84,53.78 212.86,54.17 C212.89,54.56 212.90,54.91 212.91,55.44 C212.93,55.97 212.93,56.40 212.93,57.36Z" fill="#b03232" fill-opacity="0.012" stroke="#b03232" stroke-width="0.45" stroke-opacity="0.95" clip-path="url(#cTR)"/><path d="M212.33,57.23 C212.33,58.05 212.32,59.62 212.31,60.51 C212.30,61.40 212.29,61.95 212.27,62.58 C212.26,63.21 212.23,63.77 212.21,64.30 C212.18,64.84 212.15,65.33 212.12,65.79 C212.08,66.26 212.04,66.68 212.00,67.08 C211.96,67.49 211.91,67.86 211.86,68.20 C211.81,68.54 211.75,68.85 211.69,69.14 C211.63,69.42 211.57,69.68 211.50,69.91 C211.43,70.13 211.35,70.33 211.27,70.50 C211.19,70.68 211.10,70.82 211.01,70.93 C210.91,71.05 210.83,71.13 210.70,71.19 C210.56,71.25 210.37,71.28 210.20,71.28 C210.03,71.28 209.84,71.25 209.70,71.19 C209.57,71.13 209.49,71.05 209.39,70.93 C209.30,70.82 209.21,70.68 209.13,70.50 C209.05,70.33 208.97,70.13 208.90,69.91 C208.83,69.68 208.77,69.42 208.71,69.14 C208.65,68.85 208.59,68.54 208.54,68.20 C208.49,67.86 208.44,67.49 208.40,67.08 C208.36,66.68 208.32,66.26 208.28,65.79 C208.25,65.33 208.22,64.84 208.19,64.30 C208.17,63.77 208.14,63.21 208.13,62.58 C208.11,61.95 208.10,61.40 208.09,60.51 C208.08,59.62 208.07,58.05 208.08,57.23 C208.08,56.41 208.08,56.05 208.09,55.59 C208.10,55.14 208.11,54.84 208.13,54.51 C208.15,54.18 208.17,53.88 208.20,53.60 C208.22,53.31 208.25,53.05 208.29,52.80 C208.33,52.55 208.37,52.32 208.41,52.11 C208.45,51.89 208.50,51.69 208.56,51.50 C208.61,51.32 208.67,51.15 208.73,50.99 C208.79,50.84 208.86,50.70 208.93,50.58 C209.00,50.45 209.08,50.34 209.16,50.25 C209.24,50.16 209.32,50.08 209.42,50.01 C209.51,49.95 209.60,49.90 209.73,49.87 C209.86,49.84 210.04,49.83 210.20,49.83 C210.36,49.83 210.54,49.84 210.67,49.87 C210.80,49.90 210.89,49.95 210.98,50.01 C211.08,50.08 211.16,50.16 211.24,50.25 C211.32,50.34 211.40,50.45 211.47,50.58 C211.54,50.70 211.61,50.84 211.67,50.99 C211.73,51.15 211.79,51.32 211.84,51.50 C211.90,51.69 211.95,51.89 211.99,52.11 C212.03,52.32 212.07,52.55 212.11,52.80 C212.15,53.05 212.18,53.31 212.20,53.60 C212.23,53.88 212.25,54.18 212.27,54.51 C212.29,54.84 212.30,55.14 212.31,55.59 C212.32,56.05 212.32,56.41 212.33,57.23Z" fill="#ac2c2c" fill-opacity="0.012" stroke="#ac2c2c" stroke-width="0.45" stroke-opacity="0.95" clip-path="url(#cTR)"/><path d="M211.72,57.11 C211.72,57.78 211.71,59.08 211.71,59.82 C211.70,60.56 211.69,61.01 211.68,61.53 C211.67,62.05 211.65,62.51 211.64,62.96 C211.62,63.40 211.60,63.80 211.57,64.19 C211.55,64.57 211.52,64.93 211.49,65.26 C211.46,65.59 211.43,65.89 211.39,66.18 C211.36,66.46 211.32,66.72 211.27,66.95 C211.23,67.19 211.19,67.40 211.14,67.59 C211.09,67.78 211.04,67.94 210.98,68.09 C210.92,68.23 210.86,68.35 210.80,68.44 C210.73,68.53 210.67,68.61 210.58,68.65 C210.48,68.70 210.35,68.72 210.23,68.72 C210.11,68.72 209.98,68.70 209.88,68.65 C209.79,68.61 209.73,68.53 209.66,68.44 C209.60,68.35 209.54,68.23 209.48,68.09 C209.42,67.94 209.37,67.78 209.32,67.59 C209.27,67.40 209.23,67.19 209.19,66.95 C209.14,66.72 209.10,66.46 209.07,66.18 C209.03,65.89 209.00,65.59 208.97,65.26 C208.94,64.93 208.91,64.57 208.89,64.19 C208.86,63.80 208.84,63.40 208.82,62.96 C208.81,62.51 208.79,62.05 208.78,61.53 C208.77,61.01 208.76,60.56 208.75,59.82 C208.75,59.08 208.74,57.78 208.74,57.11 C208.74,56.43 208.75,56.13 208.75,55.75 C208.76,55.38 208.77,55.13 208.78,54.86 C208.79,54.58 208.81,54.33 208.83,54.10 C208.85,53.86 208.87,53.65 208.89,53.44 C208.92,53.23 208.95,53.04 208.98,52.86 C209.01,52.69 209.04,52.52 209.08,52.37 C209.12,52.21 209.16,52.07 209.20,51.94 C209.24,51.82 209.29,51.70 209.34,51.60 C209.39,51.50 209.44,51.41 209.50,51.33 C209.56,51.25 209.62,51.19 209.68,51.13 C209.75,51.08 209.81,51.04 209.90,51.02 C209.99,50.99 210.12,50.98 210.23,50.98 C210.34,50.98 210.47,50.99 210.56,51.02 C210.65,51.04 210.71,51.08 210.78,51.13 C210.84,51.19 210.90,51.25 210.96,51.33 C211.02,51.41 211.07,51.50 211.12,51.60 C211.17,51.70 211.22,51.82 211.26,51.94 C211.30,52.07 211.34,52.21 211.38,52.37 C211.42,52.52 211.45,52.69 211.48,52.86 C211.51,53.04 211.54,53.23 211.57,53.44 C211.59,53.65 211.61,53.86 211.63,54.10 C211.65,54.33 211.67,54.58 211.68,54.86 C211.69,55.13 211.70,55.38 211.71,55.75 C211.71,56.13 211.72,56.43 211.72,57.11Z" fill="#a82626" fill-opacity="0.012" stroke="#a82626" stroke-width="0.45" stroke-opacity="0.95" clip-path="url(#cTR)"/><ellipse cx="210.4" cy="56" rx="0.7" ry="3.5" fill="#fff" opacity="0.75"/><path d="M218.80,61.50 C218.27,58.75 217.93,47.00 218.80,43.00 C219.67,39.00 222.03,38.77 224.00,37.50 C225.97,36.23 228.63,35.28 230.60,35.40 C232.57,35.52 236.07,35.93 235.80,38.20 C235.53,40.47 231.30,45.45 229.00,49.00 C226.70,52.55 223.70,57.42 222.00,59.50 C220.30,61.58 219.33,64.25 218.80,61.50Z" fill="#d87070" fill-opacity="0.0" stroke="#d87070" stroke-width="0.5" stroke-opacity="0.95" clip-path="url(#fTR)"/><path d="M219.01,60.89 C218.57,58.62 218.30,48.92 219.01,45.62 C219.73,42.33 221.68,42.13 223.30,41.09 C224.92,40.04 227.12,39.26 228.75,39.36 C230.37,39.45 233.25,39.80 233.03,41.67 C232.81,43.54 229.32,47.65 227.43,50.58 C225.53,53.50 223.05,57.52 221.65,59.24 C220.25,60.96 219.45,63.16 219.01,60.89Z" fill="#d26565" fill-opacity="0.0" stroke="#d26565" stroke-width="0.5" stroke-opacity="0.95" clip-path="url(#fTR)"/><path d="M219.22,60.27 C218.87,58.49 218.66,50.85 219.22,48.25 C219.78,45.65 221.32,45.50 222.60,44.68 C223.88,43.85 225.61,43.23 226.89,43.31 C228.17,43.39 230.44,43.66 230.27,45.13 C230.10,46.60 227.34,49.84 225.85,52.15 C224.35,54.46 222.41,57.62 221.30,58.98 C220.20,60.33 219.57,62.06 219.22,60.27Z" fill="#cd5a5a" fill-opacity="0.0" stroke="#cd5a5a" stroke-width="0.5" stroke-opacity="0.95" clip-path="url(#fTR)"/><path d="M219.43,59.66 C219.18,58.36 219.02,52.77 219.43,50.88 C219.84,48.98 220.97,48.86 221.90,48.26 C222.83,47.66 224.10,47.21 225.03,47.27 C225.97,47.32 227.63,47.52 227.50,48.59 C227.38,49.67 225.37,52.04 224.28,53.73 C223.18,55.41 221.76,57.72 220.95,58.71 C220.14,59.70 219.68,60.97 219.43,59.66Z" fill="#c85050" fill-opacity="0.0" stroke="#c85050" stroke-width="0.5" stroke-opacity="0.95" clip-path="url(#fTR)"/><circle cx="209.49" cy="107.11" r="0.4" fill="#d87070" opacity="1"/><circle cx="211.02" cy="99.01" r="0.4" fill="#d87070" opacity="1"/><circle cx="208.14" cy="98.81" r="0.4" fill="#d87070" opacity="1"/><circle cx="209.57" cy="105.10" r="0.4" fill="#d87070" opacity="1"/><circle cx="212.07" cy="98.98" r="0.4" fill="#d87070" opacity="1"/><circle cx="210.50" cy="99.27" r="0.4" fill="#d87070" opacity="1"/><circle cx="206.67" cy="99.73" r="0.4" fill="#d87070" opacity="1"/><circle cx="211.71" cy="101.13" r="0.4" fill="#d87070" opacity="1"/><circle cx="206.62" cy="106.08" r="0.4" fill="#d87070" opacity="1"/><circle cx="206.51" cy="103.55" r="0.4" fill="#d87070" opacity="1"/><circle cx="241.53" cy="55.65" r="0.4" fill="#d87070" opacity="1"/><circle cx="239.17" cy="59.05" r="0.4" fill="#d87070" opacity="1"/><circle cx="224.89" cy="56.65" r="0.4" fill="#d87070" opacity="1"/><circle cx="228.17" cy="66.43" r="0.4" fill="#d87070" opacity="1"/><circle cx="225.61" cy="63.14" r="0.4" fill="#d87070" opacity="1"/><circle cx="234.78" cy="60.21" r="0.4" fill="#d87070" opacity="1"/><circle cx="232.95" cy="55.88" r="0.4" fill="#d87070" opacity="1"/><circle cx="223.19" cy="57.88" r="0.4" fill="#d87070" opacity="1"/><circle cx="235.61" cy="60.99" r="0.4" fill="#d87070" opacity="1"/><circle cx="228.28" cy="63.20" r="0.4" fill="#d87070" opacity="1"/><circle cx="231.06" cy="59.20" r="0.4" fill="#d87070" opacity="1"/><circle cx="237.89" cy="64.79" r="0.4" fill="#d87070" opacity="1"/><circle cx="226.88" cy="63.04" r="0.4" fill="#d87070" opacity="1"/><circle cx="232.50" cy="67.25" r="0.4" fill="#d87070" opacity="1"/><circle cx="237.29" cy="44.03" r="0.4" fill="#d87070" opacity="1"/><circle cx="239.80" cy="41.65" r="0.4" fill="#d87070" opacity="1"/><circle cx="234.18" cy="50.60" r="0.4" fill="#d87070" opacity="1"/><circle cx="231.52" cy="46.85" r="0.4" fill="#d87070" opacity="1"/><circle cx="230.39" cy="49.36" r="0.4" fill="#d87070" opacity="1"/><line x1="190.50" y1="22.40" x2="190.50" y2="129.80" stroke="#8a8a8a" stroke-width="1.0"/><line x1="218.50" y1="22.40" x2="218.50" y2="129.80" stroke="#333" stroke-width="1.0"/><line x1="190.50" y1="77.80" x2="218.50" y2="77.80" stroke="#333" stroke-width="1.2"/><path d="M218.50,24.50 H279.50 V61.50 H218.50" fill="none" stroke="#4a4a4a" stroke-width="1.0"/><path d="M185.40,129.80 V21.80 H293.40 V129.80 H185.40" fill="none" stroke="#222" stroke-width="1.4"/><rect x="189.50" y="27.80" width="15.50" height="9.00" fill="#fff" stroke="none" stroke-width="0"/><rect x="203.60" y="115.60" width="15.20" height="9.00" fill="#fff" stroke="none" stroke-width="0"/><text x="168.15" y="40.53" font-size="7.45" fill="#333" stroke="#333" stroke-width="0.15" textLength="8.03" lengthAdjust="spacingAndGlyphs" >10</text><text x="176.60" y="37.55" font-size="5.52" fill="#333" stroke="#333" stroke-width="0.15" textLength="2.82" lengthAdjust="spacingAndGlyphs" >5</text><text x="168.15" y="59.53" font-size="7.45" fill="#333" stroke="#333" stroke-width="0.15" textLength="8.03" lengthAdjust="spacingAndGlyphs" >10</text><text x="176.69" y="56.60" font-size="5.52" fill="#333" stroke="#333" stroke-width="0.15" textLength="2.65" lengthAdjust="spacingAndGlyphs" >4</text><text x="168.15" y="81.23" font-size="7.45" fill="#333" stroke="#333" stroke-width="0.15" textLength="8.03" lengthAdjust="spacingAndGlyphs" >10</text><text x="176.61" y="78.25" font-size="5.44" fill="#333" stroke="#333" stroke-width="0.15" textLength="2.82" lengthAdjust="spacingAndGlyphs" >3</text><text x="171.66" y="96.72" font-size="8.02" fill="#333" stroke="#333" stroke-width="0.15" textLength="4.77" lengthAdjust="spacingAndGlyphs" >0</text><text x="165.67" y="110.94" font-size="6.59" fill="#333" stroke="#333" stroke-width="0.15" textLength="10.72" lengthAdjust="spacingAndGlyphs" >-10</text><text x="176.62" y="108.25" font-size="4.87" fill="#333" stroke="#333" stroke-width="0.15" textLength="2.58" lengthAdjust="spacingAndGlyphs" >3</text><text x="190.40" y="140.60" font-size="7.6" fill="#2a2a2a" stroke="#2a2a2a" stroke-width="0.18" text-anchor="end" transform="rotate(-45 190.40 140.60)">0</text><text x="210.78" y="140.60" font-size="7.6" fill="#2a2a2a" stroke="#2a2a2a" stroke-width="0.18" text-anchor="end" transform="rotate(-45 210.78 140.60)">50K</text><text x="231.16" y="140.60" font-size="7.6" fill="#2a2a2a" stroke="#2a2a2a" stroke-width="0.18" text-anchor="end" transform="rotate(-45 231.16 140.60)">100K</text><text x="251.54" y="140.60" font-size="7.6" fill="#2a2a2a" stroke="#2a2a2a" stroke-width="0.18" text-anchor="end" transform="rotate(-45 251.54 140.60)">150K</text><text x="271.92" y="140.60" font-size="7.6" fill="#2a2a2a" stroke="#2a2a2a" stroke-width="0.18" text-anchor="end" transform="rotate(-45 271.92 140.60)">200K</text><text x="292.30" y="140.60" font-size="7.6" fill="#2a2a2a" stroke="#2a2a2a" stroke-width="0.18" text-anchor="end" transform="rotate(-45 292.30 140.60)">250K</text><text x="189.74" y="35.22" font-size="8.61" fill="#625aa4" stroke="#625aa4" stroke-width="0.2" textLength="14.43" lengthAdjust="spacingAndGlyphs" >79.0</text><text x="258.51" y="52.52" font-size="8.25" fill="#625aa4" stroke="#625aa4" stroke-width="0.2" textLength="13.92" lengthAdjust="spacingAndGlyphs" >8.31</text><text x="204.31" y="122.80" font-size="8.61" fill="#625aa4" stroke="#625aa4" stroke-width="0.2" textLength="14.18" lengthAdjust="spacingAndGlyphs" >11.2</text><text x="252.08" y="124.72" font-size="7.95" fill="#c95f3e" stroke="#c95f3e" stroke-width="0.2" textLength="10.69" lengthAdjust="spacingAndGlyphs" >+/-</text><text x="264.47" y="124.70" font-size="8.23" fill="#c95f3e" stroke="#c95f3e" stroke-width="0.2" textLength="20.51" lengthAdjust="spacingAndGlyphs" >INKA1</text><line x1="47.00" y1="173.58" x2="48.80" y2="173.58" stroke="#222" stroke-width="0.8"/><line x1="47.00" y1="170.23" x2="48.80" y2="170.23" stroke="#222" stroke-width="0.8"/><line x1="47.00" y1="167.86" x2="48.80" y2="167.86" stroke="#222" stroke-width="0.8"/><line x1="47.00" y1="166.02" x2="48.80" y2="166.02" stroke="#222" stroke-width="0.8"/><line x1="47.00" y1="164.52" x2="48.80" y2="164.52" stroke="#222" stroke-width="0.8"/><line x1="47.00" y1="163.24" x2="48.80" y2="163.24" stroke="#222" stroke-width="0.8"/><line x1="47.00" y1="192.58" x2="48.80" y2="192.58" stroke="#222" stroke-width="0.8"/><line x1="47.00" y1="189.23" x2="48.80" y2="189.23" stroke="#222" stroke-width="0.8"/><line x1="47.00" y1="186.86" x2="48.80" y2="186.86" stroke="#222" stroke-width="0.8"/><line x1="47.00" y1="185.02" x2="48.80" y2="185.02" stroke="#222" stroke-width="0.8"/><line x1="47.00" y1="183.52" x2="48.80" y2="183.52" stroke="#222" stroke-width="0.8"/><line x1="47.00" y1="182.24" x2="48.80" y2="182.24" stroke="#222" stroke-width="0.8"/><line x1="47.00" y1="181.14" x2="48.80" y2="181.14" stroke="#222" stroke-width="0.8"/><line x1="47.00" y1="180.17" x2="48.80" y2="180.17" stroke="#222" stroke-width="0.8"/><line x1="47.00" y1="213.47" x2="48.80" y2="213.47" stroke="#222" stroke-width="0.8"/><line x1="47.00" y1="209.65" x2="48.80" y2="209.65" stroke="#222" stroke-width="0.8"/><line x1="47.00" y1="206.94" x2="48.80" y2="206.94" stroke="#222" stroke-width="0.8"/><line x1="47.00" y1="204.83" x2="48.80" y2="204.83" stroke="#222" stroke-width="0.8"/><line x1="47.00" y1="203.11" x2="48.80" y2="203.11" stroke="#222" stroke-width="0.8"/><line x1="47.00" y1="201.66" x2="48.80" y2="201.66" stroke="#222" stroke-width="0.8"/><line x1="47.00" y1="200.40" x2="48.80" y2="200.40" stroke="#222" stroke-width="0.8"/><line x1="47.00" y1="199.29" x2="48.80" y2="199.29" stroke="#222" stroke-width="0.8"/><line x1="47.00" y1="223.00" x2="48.80" y2="223.00" stroke="#222" stroke-width="0.8"/><line x1="47.00" y1="225.80" x2="48.80" y2="225.80" stroke="#222" stroke-width="0.8"/><line x1="47.00" y1="228.30" x2="48.80" y2="228.30" stroke="#222" stroke-width="0.8"/><line x1="47.00" y1="230.20" x2="48.80" y2="230.20" stroke="#222" stroke-width="0.8"/><line x1="47.00" y1="233.10" x2="48.80" y2="233.10" stroke="#222" stroke-width="0.8"/><line x1="47.00" y1="234.10" x2="48.80" y2="234.10" stroke="#222" stroke-width="0.8"/><line x1="47.00" y1="235.10" x2="48.80" y2="235.10" stroke="#222" stroke-width="0.8"/><line x1="47.00" y1="236.10" x2="48.80" y2="236.10" stroke="#222" stroke-width="0.8"/><line x1="47.00" y1="237.20" x2="48.80" y2="237.20" stroke="#222" stroke-width="0.8"/><line x1="47.00" y1="238.60" x2="48.80" y2="238.60" stroke="#222" stroke-width="0.8"/><line x1="47.00" y1="240.80" x2="48.80" y2="240.80" stroke="#222" stroke-width="0.8"/><line x1="47.00" y1="244.10" x2="48.80" y2="244.10" stroke="#222" stroke-width="0.8"/><line x1="47.00" y1="255.50" x2="48.80" y2="255.50" stroke="#222" stroke-width="0.8"/><line x1="47.00" y1="260.00" x2="48.80" y2="260.00" stroke="#222" stroke-width="0.8"/><line x1="47.00" y1="264.00" x2="48.80" y2="264.00" stroke="#222" stroke-width="0.8"/><line x1="47.00" y1="268.20" x2="48.80" y2="268.20" stroke="#222" stroke-width="0.8"/><line x1="45.60" y1="179.30" x2="48.80" y2="179.30" stroke="#111" stroke-width="1.1"/><line x1="45.60" y1="198.30" x2="48.80" y2="198.30" stroke="#111" stroke-width="1.1"/><line x1="45.60" y1="220.00" x2="48.80" y2="220.00" stroke="#111" stroke-width="1.1"/><line x1="45.60" y1="234.60" x2="48.80" y2="234.60" stroke="#111" stroke-width="1.1"/><line x1="45.60" y1="249.00" x2="48.80" y2="249.00" stroke="#111" stroke-width="1.1"/><line x1="53.28" y1="270.40" x2="53.28" y2="272.20" stroke="#222" stroke-width="0.8"/><line x1="57.35" y1="270.40" x2="57.35" y2="272.20" stroke="#222" stroke-width="0.8"/><line x1="61.43" y1="270.40" x2="61.43" y2="272.20" stroke="#222" stroke-width="0.8"/><line x1="65.50" y1="270.40" x2="65.50" y2="272.20" stroke="#222" stroke-width="0.8"/><line x1="73.66" y1="270.40" x2="73.66" y2="272.20" stroke="#222" stroke-width="0.8"/><line x1="77.73" y1="270.40" x2="77.73" y2="272.20" stroke="#222" stroke-width="0.8"/><line x1="81.81" y1="270.40" x2="81.81" y2="272.20" stroke="#222" stroke-width="0.8"/><line x1="85.88" y1="270.40" x2="85.88" y2="272.20" stroke="#222" stroke-width="0.8"/><line x1="94.04" y1="270.40" x2="94.04" y2="272.20" stroke="#222" stroke-width="0.8"/><line x1="98.11" y1="270.40" x2="98.11" y2="272.20" stroke="#222" stroke-width="0.8"/><line x1="102.19" y1="270.40" x2="102.19" y2="272.20" stroke="#222" stroke-width="0.8"/><line x1="106.26" y1="270.40" x2="106.26" y2="272.20" stroke="#222" stroke-width="0.8"/><line x1="114.42" y1="270.40" x2="114.42" y2="272.20" stroke="#222" stroke-width="0.8"/><line x1="118.49" y1="270.40" x2="118.49" y2="272.20" stroke="#222" stroke-width="0.8"/><line x1="122.57" y1="270.40" x2="122.57" y2="272.20" stroke="#222" stroke-width="0.8"/><line x1="126.64" y1="270.40" x2="126.64" y2="272.20" stroke="#222" stroke-width="0.8"/><line x1="134.80" y1="270.40" x2="134.80" y2="272.20" stroke="#222" stroke-width="0.8"/><line x1="138.87" y1="270.40" x2="138.87" y2="272.20" stroke="#222" stroke-width="0.8"/><line x1="142.95" y1="270.40" x2="142.95" y2="272.20" stroke="#222" stroke-width="0.8"/><line x1="147.02" y1="270.40" x2="147.02" y2="272.20" stroke="#222" stroke-width="0.8"/><line x1="155.18" y1="270.40" x2="155.18" y2="272.20" stroke="#222" stroke-width="0.8"/><line x1="49.20" y1="270.40" x2="49.20" y2="273.60" stroke="#111" stroke-width="1.1"/><line x1="69.58" y1="270.40" x2="69.58" y2="273.60" stroke="#111" stroke-width="1.1"/><line x1="89.96" y1="270.40" x2="89.96" y2="273.60" stroke="#111" stroke-width="1.1"/><line x1="110.34" y1="270.40" x2="110.34" y2="273.60" stroke="#111" stroke-width="1.1"/><line x1="130.72" y1="270.40" x2="130.72" y2="273.60" stroke="#111" stroke-width="1.1"/><line x1="151.10" y1="270.40" x2="151.10" y2="273.60" stroke="#111" stroke-width="1.1"/><path d="M81.90,196.80 C81.90,198.39 81.88,199.83 81.85,200.96 C81.82,202.09 81.77,202.78 81.71,203.58 C81.64,204.38 81.56,205.08 81.47,205.76 C81.37,206.44 81.26,207.06 81.13,207.65 C81.00,208.24 80.86,208.78 80.70,209.29 C80.54,209.79 80.36,210.26 80.17,210.70 C79.98,211.13 79.77,211.53 79.54,211.89 C79.32,212.25 79.08,212.57 78.82,212.86 C78.55,213.15 78.28,213.40 77.98,213.62 C77.68,213.84 77.36,214.02 77.01,214.16 C76.65,214.31 76.35,214.42 75.84,214.49 C75.34,214.56 74.61,214.60 74.00,214.60 C73.39,214.60 72.66,214.56 72.16,214.49 C71.65,214.42 71.35,214.31 70.99,214.16 C70.64,214.02 70.32,213.84 70.02,213.62 C69.72,213.40 69.45,213.15 69.18,212.86 C68.92,212.57 68.68,212.25 68.46,211.89 C68.23,211.53 68.02,211.13 67.83,210.70 C67.64,210.26 67.46,209.79 67.30,209.29 C67.14,208.78 67.00,208.24 66.87,207.65 C66.74,207.06 66.63,206.44 66.53,205.76 C66.44,205.08 66.36,204.38 66.29,203.58 C66.23,202.78 66.18,202.09 66.15,200.96 C66.12,199.83 66.10,198.39 66.10,196.80 C66.10,195.21 66.11,192.74 66.14,191.40 C66.17,190.05 66.21,189.51 66.26,188.72 C66.31,187.92 66.38,187.26 66.46,186.63 C66.54,185.99 66.63,185.43 66.74,184.89 C66.85,184.36 66.97,183.88 67.11,183.43 C67.24,182.98 67.39,182.58 67.56,182.20 C67.72,181.83 67.90,181.49 68.10,181.18 C68.30,180.87 68.51,180.60 68.75,180.35 C68.98,180.11 69.23,179.90 69.51,179.71 C69.79,179.53 70.08,179.38 70.43,179.26 C70.78,179.14 71.02,179.05 71.62,178.99 C72.21,178.93 73.21,178.90 74.00,178.90 C74.79,178.90 75.79,178.93 76.38,178.99 C76.98,179.05 77.22,179.14 77.57,179.26 C77.92,179.38 78.21,179.53 78.49,179.71 C78.77,179.90 79.02,180.11 79.25,180.35 C79.49,180.60 79.70,180.87 79.90,181.18 C80.10,181.49 80.28,181.83 80.44,182.20 C80.61,182.58 80.76,182.98 80.89,183.43 C81.03,183.88 81.15,184.36 81.26,184.89 C81.37,185.43 81.46,185.99 81.54,186.63 C81.62,187.26 81.69,187.92 81.74,188.72 C81.79,189.51 81.83,190.05 81.86,191.40 C81.89,192.74 81.90,195.21 81.90,196.80Z" fill="#5a5a5a" fill-opacity="0.055" stroke="#5a5a5a" stroke-width="0.45" stroke-opacity="0.9" clip-path="url(#cBL)"/><path d="M81.44,196.91 C81.44,198.42 81.43,199.79 81.40,200.86 C81.37,201.93 81.32,202.59 81.26,203.35 C81.20,204.11 81.12,204.78 81.03,205.42 C80.94,206.07 80.84,206.66 80.72,207.22 C80.60,207.77 80.46,208.29 80.31,208.77 C80.16,209.26 80.00,209.70 79.82,210.11 C79.64,210.52 79.44,210.90 79.23,211.24 C79.02,211.59 78.79,211.89 78.55,212.17 C78.31,212.44 78.05,212.68 77.77,212.89 C77.48,213.10 77.19,213.27 76.86,213.41 C76.52,213.54 76.24,213.65 75.77,213.72 C75.30,213.79 74.61,213.82 74.04,213.82 C73.46,213.82 72.78,213.79 72.31,213.72 C71.84,213.65 71.55,213.54 71.22,213.41 C70.89,213.27 70.59,213.10 70.31,212.89 C70.03,212.68 69.77,212.44 69.53,212.17 C69.28,211.89 69.06,211.59 68.84,211.24 C68.63,210.90 68.44,210.52 68.26,210.11 C68.08,209.70 67.91,209.26 67.76,208.77 C67.61,208.29 67.48,207.77 67.36,207.22 C67.24,206.66 67.13,206.07 67.04,205.42 C66.95,204.78 66.88,204.11 66.82,203.35 C66.76,202.59 66.71,201.93 66.68,200.86 C66.65,199.79 66.64,198.42 66.63,196.91 C66.63,195.40 66.65,193.06 66.67,191.78 C66.70,190.50 66.73,189.99 66.78,189.23 C66.83,188.48 66.90,187.85 66.97,187.25 C67.05,186.64 67.13,186.10 67.23,185.60 C67.34,185.09 67.45,184.64 67.58,184.21 C67.70,183.78 67.84,183.40 68.00,183.04 C68.16,182.68 68.32,182.36 68.51,182.07 C68.69,181.78 68.89,181.52 69.11,181.28 C69.33,181.05 69.57,180.85 69.83,180.68 C70.09,180.51 70.37,180.36 70.69,180.25 C71.02,180.13 71.25,180.05 71.80,179.99 C72.36,179.93 73.29,179.91 74.04,179.91 C74.78,179.91 75.72,179.93 76.27,179.99 C76.83,180.05 77.05,180.13 77.38,180.25 C77.71,180.36 77.98,180.51 78.25,180.68 C78.51,180.85 78.74,181.05 78.96,181.28 C79.18,181.52 79.38,181.78 79.57,182.07 C79.75,182.36 79.92,182.68 80.08,183.04 C80.23,183.40 80.37,183.78 80.50,184.21 C80.63,184.64 80.74,185.09 80.84,185.60 C80.94,186.10 81.03,186.64 81.10,187.25 C81.18,187.85 81.24,188.48 81.29,189.23 C81.34,189.99 81.38,190.50 81.40,191.78 C81.43,193.06 81.44,195.40 81.44,196.91Z" fill="#555555" fill-opacity="0.055" stroke="#555555" stroke-width="0.45" stroke-opacity="0.9" clip-path="url(#cBL)"/><path d="M80.98,197.02 C80.98,198.45 80.97,199.74 80.94,200.76 C80.91,201.78 80.87,202.40 80.81,203.12 C80.76,203.84 80.69,204.48 80.60,205.09 C80.52,205.70 80.42,206.26 80.31,206.78 C80.20,207.31 80.07,207.80 79.93,208.26 C79.79,208.72 79.64,209.14 79.47,209.53 C79.30,209.92 79.12,210.27 78.92,210.60 C78.72,210.92 78.51,211.22 78.29,211.48 C78.06,211.74 77.82,211.96 77.55,212.16 C77.29,212.35 77.02,212.52 76.71,212.65 C76.39,212.78 76.13,212.88 75.69,212.94 C75.25,213.01 74.61,213.04 74.08,213.04 C73.54,213.04 72.90,213.01 72.46,212.94 C72.02,212.88 71.76,212.78 71.45,212.65 C71.13,212.52 70.86,212.35 70.60,212.16 C70.33,211.96 70.09,211.74 69.87,211.48 C69.64,211.22 69.43,210.92 69.23,210.60 C69.03,210.27 68.85,209.92 68.68,209.53 C68.52,209.14 68.36,208.72 68.22,208.26 C68.08,207.80 67.96,207.31 67.84,206.78 C67.73,206.26 67.63,205.70 67.55,205.09 C67.46,204.48 67.39,203.84 67.34,203.12 C67.28,202.40 67.24,201.78 67.21,200.76 C67.18,199.74 67.17,198.45 67.17,197.02 C67.17,195.59 67.18,193.37 67.20,192.16 C67.23,190.94 67.26,190.46 67.31,189.75 C67.35,189.03 67.41,188.44 67.48,187.86 C67.55,187.29 67.63,186.78 67.73,186.30 C67.82,185.83 67.93,185.39 68.05,184.99 C68.17,184.59 68.30,184.22 68.44,183.88 C68.59,183.54 68.74,183.24 68.92,182.96 C69.09,182.68 69.28,182.44 69.48,182.22 C69.69,182.00 69.90,181.81 70.15,181.64 C70.40,181.48 70.65,181.34 70.96,181.24 C71.26,181.13 71.47,181.05 71.99,180.99 C72.51,180.94 73.38,180.91 74.08,180.91 C74.77,180.91 75.64,180.94 76.16,180.99 C76.68,181.05 76.89,181.13 77.19,181.24 C77.50,181.34 77.76,181.48 78.00,181.64 C78.25,181.81 78.46,182.00 78.67,182.22 C78.87,182.44 79.06,182.68 79.23,182.96 C79.41,183.24 79.56,183.54 79.71,183.88 C79.85,184.22 79.98,184.59 80.10,184.99 C80.22,185.39 80.33,185.83 80.42,186.30 C80.52,186.78 80.60,187.29 80.67,187.86 C80.74,188.44 80.80,189.03 80.84,189.75 C80.89,190.46 80.92,190.94 80.95,192.16 C80.97,193.37 80.98,195.59 80.98,197.02Z" fill="#505050" fill-opacity="0.055" stroke="#505050" stroke-width="0.45" stroke-opacity="0.9" clip-path="url(#cBL)"/><path d="M80.52,197.13 C80.52,198.48 80.51,199.70 80.48,200.66 C80.46,201.62 80.42,202.21 80.37,202.89 C80.31,203.57 80.25,204.17 80.17,204.75 C80.09,205.33 80.00,205.85 79.90,206.35 C79.79,206.85 79.68,207.31 79.55,207.74 C79.42,208.18 79.27,208.57 79.12,208.94 C78.96,209.31 78.79,209.65 78.61,209.95 C78.43,210.26 78.23,210.54 78.02,210.78 C77.81,211.03 77.59,211.24 77.34,211.43 C77.10,211.61 76.84,211.77 76.55,211.89 C76.27,212.01 76.02,212.11 75.61,212.17 C75.20,212.23 74.61,212.26 74.11,212.26 C73.61,212.26 73.02,212.23 72.62,212.17 C72.21,212.11 71.96,212.01 71.67,211.89 C71.38,211.77 71.13,211.61 70.89,211.43 C70.64,211.24 70.42,211.03 70.21,210.78 C69.99,210.54 69.80,210.26 69.62,209.95 C69.43,209.65 69.26,209.31 69.11,208.94 C68.95,208.57 68.81,208.18 68.68,207.74 C68.55,207.31 68.43,206.85 68.33,206.35 C68.22,205.85 68.13,205.33 68.06,204.75 C67.98,204.17 67.91,203.57 67.86,202.89 C67.81,202.21 67.77,201.62 67.74,200.66 C67.72,199.70 67.70,198.48 67.70,197.13 C67.70,195.78 67.71,193.68 67.74,192.54 C67.76,191.39 67.79,190.94 67.83,190.26 C67.88,189.58 67.93,189.02 67.99,188.48 C68.06,187.94 68.14,187.46 68.22,187.01 C68.31,186.56 68.41,186.15 68.52,185.77 C68.63,185.39 68.75,185.04 68.89,184.72 C69.02,184.40 69.17,184.11 69.33,183.85 C69.49,183.59 69.66,183.36 69.85,183.15 C70.04,182.94 70.24,182.76 70.47,182.61 C70.70,182.45 70.93,182.32 71.22,182.22 C71.50,182.12 71.70,182.04 72.18,181.99 C72.66,181.94 73.47,181.92 74.11,181.92 C74.76,181.92 75.57,181.94 76.05,181.99 C76.53,182.04 76.72,182.12 77.01,182.22 C77.29,182.32 77.53,182.45 77.76,182.61 C77.98,182.76 78.19,182.94 78.38,183.15 C78.57,183.36 78.74,183.59 78.90,183.85 C79.06,184.11 79.21,184.40 79.34,184.72 C79.48,185.04 79.60,185.39 79.71,185.77 C79.82,186.15 79.92,186.56 80.00,187.01 C80.09,187.46 80.17,187.94 80.23,188.48 C80.30,189.02 80.35,189.58 80.39,190.26 C80.44,190.94 80.47,191.39 80.49,192.54 C80.51,193.68 80.52,195.78 80.52,197.13Z" fill="#4c4c4c" fill-opacity="0.055" stroke="#4c4c4c" stroke-width="0.45" stroke-opacity="0.9" clip-path="url(#cBL)"/><path d="M80.06,197.24 C80.06,198.51 80.05,199.66 80.03,200.57 C80.00,201.47 79.97,202.02 79.92,202.66 C79.87,203.30 79.81,203.87 79.74,204.41 C79.67,204.95 79.58,205.45 79.49,205.92 C79.39,206.39 79.28,206.82 79.16,207.23 C79.04,207.64 78.91,208.01 78.77,208.36 C78.62,208.70 78.47,209.02 78.30,209.31 C78.13,209.60 77.95,209.86 77.76,210.09 C77.56,210.32 77.35,210.52 77.13,210.70 C76.90,210.87 76.67,211.02 76.40,211.13 C76.14,211.25 75.91,211.33 75.53,211.39 C75.16,211.45 74.61,211.48 74.15,211.48 C73.69,211.48 73.15,211.45 72.77,211.39 C72.39,211.33 72.16,211.25 71.90,211.13 C71.63,211.02 71.40,210.87 71.17,210.70 C70.95,210.52 70.74,210.32 70.55,210.09 C70.35,209.86 70.17,209.60 70.00,209.31 C69.83,209.02 69.68,208.70 69.53,208.36 C69.39,208.01 69.26,207.64 69.14,207.23 C69.02,206.82 68.91,206.39 68.81,205.92 C68.72,205.45 68.63,204.95 68.56,204.41 C68.49,203.87 68.43,203.30 68.38,202.66 C68.33,202.02 68.30,201.47 68.27,200.57 C68.25,199.66 68.24,198.51 68.24,197.24 C68.24,195.97 68.25,193.99 68.27,192.92 C68.29,191.84 68.32,191.41 68.36,190.77 C68.40,190.14 68.45,189.61 68.51,189.10 C68.57,188.59 68.64,188.14 68.72,187.71 C68.80,187.29 68.89,186.90 68.99,186.55 C69.09,186.19 69.20,185.86 69.33,185.56 C69.45,185.26 69.59,184.99 69.73,184.74 C69.88,184.50 70.04,184.28 70.22,184.08 C70.39,183.89 70.58,183.72 70.79,183.57 C71.00,183.43 71.22,183.31 71.48,183.21 C71.74,183.11 71.92,183.04 72.37,182.99 C72.81,182.94 73.56,182.92 74.15,182.92 C74.75,182.92 75.49,182.94 75.94,182.99 C76.38,183.04 76.56,183.11 76.82,183.21 C77.08,183.31 77.30,183.43 77.51,183.57 C77.72,183.72 77.91,183.89 78.08,184.08 C78.26,184.28 78.42,184.50 78.57,184.74 C78.72,184.99 78.85,185.26 78.97,185.56 C79.10,185.86 79.21,186.19 79.31,186.55 C79.41,186.90 79.50,187.29 79.58,187.71 C79.67,188.14 79.74,188.59 79.80,189.10 C79.86,189.61 79.91,190.14 79.95,190.77 C79.99,191.41 80.01,191.84 80.03,192.92 C80.05,193.99 80.07,195.97 80.06,197.24Z" fill="#474747" fill-opacity="0.055" stroke="#474747" stroke-width="0.45" stroke-opacity="0.9" clip-path="url(#cBL)"/><path d="M79.61,197.35 C79.60,198.55 79.59,199.62 79.57,200.47 C79.55,201.32 79.52,201.83 79.47,202.43 C79.43,203.03 79.37,203.56 79.31,204.07 C79.24,204.58 79.16,205.05 79.08,205.49 C78.99,205.93 78.89,206.33 78.78,206.72 C78.67,207.10 78.55,207.45 78.42,207.77 C78.29,208.10 78.14,208.39 77.99,208.67 C77.83,208.94 77.67,209.18 77.49,209.40 C77.31,209.61 77.12,209.80 76.92,209.97 C76.71,210.13 76.50,210.26 76.25,210.37 C76.01,210.48 75.80,210.56 75.45,210.62 C75.11,210.67 74.61,210.70 74.19,210.70 C73.77,210.70 73.27,210.67 72.92,210.62 C72.58,210.56 72.37,210.48 72.13,210.37 C71.88,210.26 71.67,210.13 71.46,209.97 C71.25,209.80 71.07,209.61 70.89,209.40 C70.71,209.18 70.54,208.94 70.39,208.67 C70.23,208.39 70.09,208.10 69.96,207.77 C69.83,207.45 69.71,207.10 69.60,206.72 C69.49,206.33 69.39,205.93 69.30,205.49 C69.21,205.05 69.14,204.58 69.07,204.07 C69.00,203.56 68.95,203.03 68.90,202.43 C68.86,201.83 68.83,201.32 68.80,200.47 C68.78,199.62 68.77,198.55 68.77,197.35 C68.77,196.15 68.78,194.31 68.80,193.30 C68.82,192.29 68.84,191.88 68.88,191.29 C68.92,190.69 68.96,190.20 69.02,189.72 C69.07,189.24 69.14,188.82 69.21,188.42 C69.28,188.02 69.37,187.66 69.46,187.32 C69.55,186.99 69.66,186.68 69.77,186.40 C69.88,186.12 70.01,185.87 70.14,185.63 C70.28,185.40 70.42,185.20 70.59,185.01 C70.75,184.83 70.92,184.67 71.11,184.54 C71.30,184.40 71.50,184.29 71.74,184.20 C71.98,184.11 72.15,184.04 72.55,183.99 C72.96,183.95 73.64,183.93 74.19,183.93 C74.73,183.93 75.42,183.95 75.82,183.99 C76.23,184.04 76.39,184.11 76.63,184.20 C76.88,184.29 77.07,184.40 77.27,184.54 C77.46,184.67 77.63,184.83 77.79,185.01 C77.95,185.20 78.10,185.40 78.23,185.63 C78.37,185.87 78.49,186.12 78.61,186.40 C78.72,186.68 78.82,186.99 78.92,187.32 C79.01,187.66 79.09,188.02 79.17,188.42 C79.24,188.82 79.30,189.24 79.36,189.72 C79.41,190.20 79.46,190.69 79.50,191.29 C79.53,191.88 79.56,192.29 79.58,193.30 C79.60,194.31 79.61,196.15 79.61,197.35Z" fill="#424242" fill-opacity="0.055" stroke="#424242" stroke-width="0.45" stroke-opacity="0.9" clip-path="url(#cBL)"/><path d="M79.15,197.46 C79.15,198.58 79.14,199.58 79.12,200.37 C79.10,201.16 79.07,201.64 79.03,202.20 C78.99,202.77 78.94,203.26 78.88,203.73 C78.82,204.21 78.75,204.64 78.67,205.05 C78.59,205.47 78.50,205.85 78.40,206.20 C78.30,206.56 78.19,206.88 78.07,207.19 C77.95,207.49 77.82,207.77 77.68,208.02 C77.54,208.27 77.39,208.50 77.23,208.70 C77.06,208.91 76.89,209.08 76.70,209.23 C76.52,209.39 76.32,209.51 76.10,209.62 C75.88,209.72 75.69,209.79 75.38,209.84 C75.06,209.89 74.61,209.92 74.23,209.92 C73.84,209.92 73.39,209.89 73.08,209.84 C72.76,209.79 72.57,209.72 72.35,209.62 C72.13,209.51 71.94,209.39 71.75,209.23 C71.56,209.08 71.39,208.91 71.23,208.70 C71.06,208.50 70.91,208.27 70.77,208.02 C70.63,207.77 70.50,207.49 70.38,207.19 C70.26,206.88 70.16,206.56 70.06,206.20 C69.96,205.85 69.87,205.47 69.79,205.05 C69.71,204.64 69.64,204.21 69.58,203.73 C69.52,203.26 69.47,202.77 69.43,202.20 C69.39,201.64 69.36,201.16 69.34,200.37 C69.32,199.58 69.31,198.58 69.31,197.46 C69.30,196.34 69.31,194.62 69.33,193.68 C69.35,192.73 69.37,192.36 69.41,191.80 C69.44,191.25 69.48,190.78 69.53,190.34 C69.58,189.89 69.64,189.50 69.70,189.13 C69.77,188.75 69.85,188.42 69.93,188.10 C70.02,187.79 70.11,187.50 70.21,187.24 C70.32,186.98 70.43,186.74 70.55,186.53 C70.67,186.31 70.81,186.12 70.95,185.95 C71.10,185.78 71.25,185.63 71.43,185.50 C71.60,185.37 71.79,185.27 72.00,185.18 C72.22,185.10 72.37,185.04 72.74,184.99 C73.11,184.95 73.73,184.93 74.23,184.93 C74.72,184.93 75.34,184.95 75.71,184.99 C76.08,185.04 76.23,185.10 76.45,185.18 C76.67,185.27 76.85,185.37 77.02,185.50 C77.20,185.63 77.35,185.78 77.50,185.95 C77.65,186.12 77.78,186.31 77.90,186.53 C78.02,186.74 78.14,186.98 78.24,187.24 C78.34,187.50 78.44,187.79 78.52,188.10 C78.61,188.42 78.68,188.75 78.75,189.13 C78.81,189.50 78.87,189.89 78.92,190.34 C78.97,190.78 79.01,191.25 79.05,191.80 C79.08,192.36 79.11,192.73 79.12,193.68 C79.14,194.62 79.15,196.34 79.15,197.46Z" fill="#3e3e3e" fill-opacity="0.055" stroke="#3e3e3e" stroke-width="0.45" stroke-opacity="0.9" clip-path="url(#cBL)"/><path d="M78.69,197.57 C78.69,198.61 78.68,199.54 78.66,200.27 C78.64,201.01 78.62,201.46 78.58,201.98 C78.54,202.50 78.50,202.95 78.44,203.40 C78.39,203.84 78.33,204.24 78.26,204.62 C78.18,205.00 78.10,205.36 78.01,205.69 C77.92,206.02 77.83,206.32 77.72,206.60 C77.61,206.88 77.49,207.14 77.37,207.38 C77.24,207.61 77.11,207.82 76.96,208.01 C76.81,208.20 76.66,208.36 76.49,208.50 C76.32,208.64 76.15,208.76 75.95,208.86 C75.75,208.95 75.58,209.02 75.30,209.07 C75.02,209.12 74.61,209.14 74.26,209.14 C73.92,209.14 73.51,209.12 73.23,209.07 C72.95,209.02 72.78,208.95 72.58,208.86 C72.38,208.76 72.20,208.64 72.04,208.50 C71.87,208.36 71.71,208.20 71.57,208.01 C71.42,207.82 71.29,207.61 71.16,207.38 C71.03,207.14 70.92,206.88 70.81,206.60 C70.70,206.32 70.60,206.02 70.51,205.69 C70.42,205.36 70.34,205.00 70.27,204.62 C70.20,204.24 70.14,203.84 70.08,203.40 C70.03,202.95 69.98,202.50 69.95,201.98 C69.91,201.46 69.89,201.01 69.87,200.27 C69.85,199.54 69.84,198.61 69.84,197.57 C69.84,196.53 69.85,194.93 69.86,194.06 C69.88,193.18 69.90,192.83 69.93,192.32 C69.96,191.80 70.00,191.37 70.04,190.96 C70.09,190.54 70.14,190.18 70.20,189.83 C70.26,189.48 70.33,189.17 70.40,188.88 C70.48,188.59 70.56,188.32 70.66,188.08 C70.75,187.84 70.85,187.62 70.96,187.42 C71.07,187.22 71.19,187.04 71.32,186.88 C71.45,186.72 71.59,186.58 71.75,186.46 C71.91,186.35 72.07,186.25 72.27,186.17 C72.46,186.09 72.60,186.03 72.93,185.99 C73.26,185.95 73.82,185.94 74.26,185.94 C74.71,185.94 75.27,185.95 75.60,185.99 C75.93,186.03 76.07,186.09 76.26,186.17 C76.46,186.25 76.62,186.35 76.78,186.46 C76.94,186.58 77.08,186.72 77.21,186.88 C77.34,187.04 77.46,187.22 77.57,187.42 C77.68,187.62 77.78,187.84 77.87,188.08 C77.96,188.32 78.05,188.59 78.12,188.88 C78.20,189.17 78.27,189.48 78.33,189.83 C78.39,190.18 78.44,190.54 78.49,190.96 C78.53,191.37 78.57,191.80 78.60,192.32 C78.63,192.83 78.65,193.18 78.67,194.06 C78.68,194.93 78.69,196.53 78.69,197.57Z" fill="#393939" fill-opacity="0.055" stroke="#393939" stroke-width="0.45" stroke-opacity="0.9" clip-path="url(#cBL)"/><path d="M78.23,197.68 C78.23,198.64 78.22,199.50 78.21,200.17 C78.19,200.85 78.17,201.27 78.13,201.75 C78.10,202.23 78.06,202.65 78.01,203.06 C77.97,203.46 77.91,203.84 77.85,204.19 C77.78,204.54 77.71,204.87 77.63,205.17 C77.55,205.48 77.46,205.76 77.37,206.02 C77.27,206.28 77.17,206.52 77.06,206.73 C76.94,206.95 76.83,207.14 76.70,207.32 C76.57,207.49 76.43,207.64 76.28,207.77 C76.13,207.90 75.97,208.01 75.80,208.10 C75.62,208.19 75.47,208.25 75.22,208.29 C74.97,208.34 74.61,208.36 74.30,208.36 C74.00,208.36 73.63,208.34 73.38,208.29 C73.14,208.25 72.98,208.19 72.81,208.10 C72.63,208.01 72.47,207.90 72.32,207.77 C72.17,207.64 72.04,207.49 71.91,207.32 C71.78,207.14 71.66,206.95 71.55,206.73 C71.43,206.52 71.33,206.28 71.24,206.02 C71.14,205.76 71.05,205.48 70.97,205.17 C70.89,204.87 70.82,204.54 70.76,204.19 C70.69,203.84 70.64,203.46 70.59,203.06 C70.54,202.65 70.50,202.23 70.47,201.75 C70.44,201.27 70.41,200.85 70.40,200.17 C70.38,199.50 70.37,198.64 70.37,197.68 C70.37,196.72 70.38,195.25 70.39,194.44 C70.41,193.63 70.43,193.31 70.45,192.83 C70.48,192.35 70.51,191.96 70.55,191.58 C70.59,191.19 70.64,190.86 70.69,190.54 C70.75,190.22 70.81,189.93 70.87,189.66 C70.94,189.39 71.02,189.15 71.10,188.92 C71.18,188.70 71.27,188.49 71.37,188.31 C71.47,188.12 71.57,187.96 71.69,187.81 C71.81,187.66 71.93,187.54 72.07,187.43 C72.21,187.32 72.35,187.23 72.53,187.16 C72.70,187.08 72.82,187.03 73.12,186.99 C73.41,186.96 73.91,186.94 74.30,186.94 C74.70,186.94 75.19,186.96 75.49,186.99 C75.78,187.03 75.90,187.08 76.08,187.16 C76.25,187.23 76.39,187.32 76.53,187.43 C76.67,187.54 76.80,187.66 76.91,187.81 C77.03,187.96 77.14,188.12 77.23,188.31 C77.33,188.49 77.42,188.70 77.50,188.92 C77.59,189.15 77.66,189.39 77.73,189.66 C77.80,189.93 77.86,190.22 77.91,190.54 C77.96,190.86 78.01,191.19 78.05,191.58 C78.09,191.96 78.12,192.35 78.15,192.83 C78.18,193.31 78.20,193.63 78.21,194.44 C78.22,195.25 78.23,196.72 78.23,197.68Z" fill="#353535" fill-opacity="0.055" stroke="#353535" stroke-width="0.45" stroke-opacity="0.9" clip-path="url(#cBL)"/><path d="M77.77,197.79 C77.77,198.67 77.76,199.45 77.75,200.08 C77.74,200.70 77.71,201.08 77.69,201.52 C77.66,201.96 77.62,202.35 77.58,202.72 C77.54,203.09 77.49,203.43 77.44,203.76 C77.38,204.08 77.32,204.38 77.25,204.66 C77.18,204.94 77.10,205.19 77.02,205.43 C76.93,205.67 76.84,205.89 76.75,206.09 C76.65,206.29 76.54,206.47 76.43,206.62 C76.32,206.78 76.20,206.92 76.07,207.04 C75.94,207.16 75.80,207.26 75.65,207.34 C75.49,207.42 75.36,207.48 75.14,207.52 C74.92,207.56 74.61,207.58 74.34,207.58 C74.07,207.58 73.76,207.56 73.54,207.52 C73.32,207.48 73.19,207.42 73.03,207.34 C72.88,207.26 72.74,207.16 72.61,207.04 C72.48,206.92 72.36,206.78 72.25,206.62 C72.14,206.47 72.03,206.29 71.93,206.09 C71.83,205.89 71.74,205.67 71.66,205.43 C71.58,205.19 71.50,204.94 71.43,204.66 C71.36,204.38 71.30,204.08 71.24,203.76 C71.19,203.43 71.14,203.09 71.10,202.72 C71.06,202.35 71.02,201.96 70.99,201.52 C70.96,201.08 70.94,200.70 70.93,200.08 C70.92,199.45 70.91,198.67 70.91,197.79 C70.91,196.91 70.91,195.56 70.93,194.82 C70.94,194.08 70.95,193.78 70.98,193.34 C71.00,192.91 71.03,192.55 71.06,192.19 C71.10,191.84 71.14,191.53 71.19,191.24 C71.23,190.95 71.29,190.68 71.35,190.44 C71.40,190.19 71.47,189.97 71.54,189.76 C71.61,189.55 71.69,189.37 71.78,189.20 C71.86,189.03 71.96,188.88 72.06,188.74 C72.16,188.61 72.27,188.49 72.39,188.39 C72.51,188.29 72.64,188.21 72.79,188.14 C72.94,188.08 73.05,188.03 73.30,187.99 C73.56,187.96 73.99,187.94 74.34,187.94 C74.68,187.94 75.12,187.96 75.38,187.99 C75.63,188.03 75.74,188.08 75.89,188.14 C76.04,188.21 76.17,188.29 76.29,188.39 C76.41,188.49 76.52,188.61 76.62,188.74 C76.72,188.88 76.82,189.03 76.90,189.20 C76.99,189.37 77.07,189.55 77.14,189.76 C77.21,189.97 77.27,190.19 77.33,190.44 C77.39,190.68 77.45,190.95 77.49,191.24 C77.54,191.53 77.58,191.84 77.61,192.19 C77.65,192.55 77.68,192.91 77.70,193.34 C77.72,193.78 77.74,194.08 77.75,194.82 C77.76,195.56 77.77,196.91 77.77,197.79Z" fill="#303030" fill-opacity="0.055" stroke="#303030" stroke-width="0.45" stroke-opacity="0.9" clip-path="url(#cBL)"/><path d="M77.31,197.90 C77.31,198.70 77.31,199.41 77.29,199.98 C77.28,200.54 77.26,200.89 77.24,201.29 C77.22,201.69 77.19,202.04 77.15,202.38 C77.11,202.72 77.07,203.03 77.02,203.32 C76.98,203.62 76.92,203.89 76.86,204.14 C76.80,204.40 76.74,204.63 76.67,204.85 C76.60,205.07 76.52,205.26 76.44,205.44 C76.35,205.62 76.26,205.79 76.17,205.93 C76.07,206.08 75.97,206.20 75.85,206.31 C75.74,206.42 75.63,206.51 75.49,206.58 C75.36,206.65 75.25,206.71 75.06,206.75 C74.88,206.78 74.61,206.80 74.38,206.80 C74.15,206.80 73.88,206.78 73.69,206.75 C73.51,206.71 73.39,206.65 73.26,206.58 C73.13,206.51 73.01,206.42 72.90,206.31 C72.79,206.20 72.69,206.08 72.59,205.93 C72.49,205.79 72.40,205.62 72.32,205.44 C72.23,205.26 72.16,205.07 72.09,204.85 C72.01,204.63 71.95,204.40 71.89,204.14 C71.83,203.89 71.78,203.62 71.73,203.32 C71.68,203.03 71.64,202.72 71.60,202.38 C71.57,202.04 71.54,201.69 71.51,201.29 C71.49,200.89 71.47,200.54 71.46,199.98 C71.45,199.41 71.44,198.70 71.44,197.90 C71.44,197.10 71.45,195.87 71.46,195.20 C71.47,194.52 71.48,194.26 71.50,193.86 C71.52,193.46 71.55,193.13 71.58,192.81 C71.61,192.49 71.64,192.21 71.68,191.95 C71.72,191.68 71.77,191.44 71.82,191.22 C71.87,190.99 71.92,190.79 71.98,190.60 C72.05,190.41 72.11,190.24 72.19,190.09 C72.26,189.94 72.34,189.80 72.43,189.68 C72.51,189.55 72.60,189.45 72.71,189.36 C72.81,189.27 72.92,189.19 73.05,189.13 C73.18,189.07 73.27,189.03 73.49,189.00 C73.71,188.97 74.08,188.95 74.38,188.95 C74.67,188.95 75.04,188.97 75.26,189.00 C75.48,189.03 75.57,189.07 75.70,189.13 C75.83,189.19 75.94,189.27 76.04,189.36 C76.15,189.45 76.24,189.55 76.33,189.68 C76.42,189.80 76.49,189.94 76.57,190.09 C76.64,190.24 76.71,190.41 76.77,190.60 C76.83,190.79 76.89,190.99 76.94,191.22 C76.99,191.44 77.03,191.68 77.07,191.95 C77.11,192.21 77.15,192.49 77.18,192.81 C77.21,193.13 77.23,193.46 77.25,193.86 C77.27,194.26 77.29,194.52 77.30,195.20 C77.31,195.87 77.31,197.10 77.31,197.90Z" fill="#2b2b2b" fill-opacity="0.055" stroke="#2b2b2b" stroke-width="0.45" stroke-opacity="0.9" clip-path="url(#cBL)"/><path d="M76.85,198.01 C76.85,198.73 76.85,199.37 76.84,199.88 C76.83,200.39 76.81,200.70 76.79,201.06 C76.77,201.42 76.75,201.74 76.72,202.04 C76.69,202.35 76.65,202.63 76.61,202.89 C76.57,203.16 76.53,203.40 76.48,203.63 C76.43,203.86 76.38,204.07 76.32,204.26 C76.26,204.46 76.19,204.64 76.12,204.80 C76.06,204.96 75.98,205.11 75.90,205.24 C75.82,205.37 75.74,205.48 75.64,205.58 C75.55,205.68 75.45,205.76 75.34,205.82 C75.23,205.89 75.14,205.94 74.98,205.97 C74.83,206.00 74.60,206.02 74.41,206.02 C74.23,206.02 74.00,206.00 73.85,205.97 C73.69,205.94 73.60,205.89 73.49,205.82 C73.38,205.76 73.28,205.68 73.19,205.58 C73.09,205.48 73.01,205.37 72.93,205.24 C72.85,205.11 72.77,204.96 72.70,204.80 C72.64,204.64 72.57,204.46 72.51,204.26 C72.45,204.07 72.40,203.86 72.35,203.63 C72.30,203.40 72.25,203.16 72.22,202.89 C72.18,202.63 72.14,202.35 72.11,202.04 C72.08,201.74 72.06,201.42 72.04,201.06 C72.02,200.70 72.00,200.39 71.99,199.88 C71.98,199.37 71.98,198.73 71.98,198.01 C71.98,197.29 71.98,196.18 71.99,195.58 C72.00,194.97 72.01,194.73 72.03,194.37 C72.04,194.02 72.06,193.72 72.09,193.43 C72.11,193.15 72.14,192.89 72.17,192.65 C72.21,192.41 72.25,192.20 72.29,191.99 C72.33,191.79 72.38,191.61 72.43,191.44 C72.48,191.27 72.53,191.12 72.59,190.98 C72.66,190.84 72.72,190.72 72.79,190.61 C72.87,190.50 72.94,190.40 73.03,190.32 C73.12,190.24 73.21,190.17 73.31,190.12 C73.42,190.06 73.50,190.02 73.68,190.00 C73.86,189.97 74.17,189.96 74.41,189.96 C74.66,189.96 74.97,189.97 75.15,190.00 C75.33,190.02 75.41,190.06 75.52,190.12 C75.62,190.17 75.71,190.24 75.80,190.32 C75.89,190.40 75.96,190.50 76.04,190.61 C76.11,190.72 76.17,190.84 76.24,190.98 C76.30,191.12 76.35,191.27 76.40,191.44 C76.45,191.61 76.50,191.79 76.54,191.99 C76.58,192.20 76.62,192.41 76.65,192.65 C76.69,192.89 76.72,193.15 76.74,193.43 C76.77,193.72 76.79,194.02 76.80,194.37 C76.82,194.73 76.83,194.97 76.84,195.58 C76.85,196.18 76.85,197.29 76.85,198.01Z" fill="#272727" fill-opacity="0.055" stroke="#272727" stroke-width="0.45" stroke-opacity="0.9" clip-path="url(#cBL)"/><path d="M76.39,198.12 C76.39,198.76 76.39,199.33 76.38,199.78 C76.37,200.23 76.36,200.51 76.35,200.83 C76.33,201.15 76.31,201.43 76.29,201.71 C76.26,201.98 76.24,202.22 76.20,202.46 C76.17,202.69 76.14,202.91 76.10,203.11 C76.06,203.32 76.02,203.51 75.97,203.68 C75.92,203.85 75.87,204.01 75.81,204.15 C75.76,204.30 75.70,204.43 75.64,204.54 C75.57,204.66 75.50,204.76 75.43,204.85 C75.36,204.94 75.28,205.01 75.19,205.07 C75.10,205.12 75.03,205.17 74.91,205.20 C74.78,205.23 74.60,205.24 74.45,205.24 C74.30,205.24 74.12,205.23 74.00,205.20 C73.88,205.17 73.80,205.12 73.71,205.07 C73.63,205.01 73.55,204.94 73.48,204.85 C73.40,204.76 73.33,204.66 73.27,204.54 C73.21,204.43 73.15,204.30 73.09,204.15 C73.04,204.01 72.98,203.85 72.94,203.68 C72.89,203.51 72.85,203.32 72.81,203.11 C72.77,202.91 72.73,202.69 72.70,202.46 C72.67,202.22 72.64,201.98 72.62,201.71 C72.59,201.43 72.57,201.15 72.56,200.83 C72.54,200.51 72.53,200.23 72.52,199.78 C72.52,199.33 72.51,198.76 72.51,198.12 C72.51,197.48 72.51,196.50 72.52,195.96 C72.53,195.42 72.54,195.20 72.55,194.89 C72.56,194.57 72.58,194.31 72.60,194.05 C72.62,193.80 72.64,193.57 72.67,193.36 C72.70,193.14 72.73,192.95 72.76,192.77 C72.79,192.59 72.83,192.43 72.87,192.28 C72.91,192.13 72.95,191.99 73.00,191.87 C73.05,191.75 73.10,191.64 73.16,191.54 C73.22,191.44 73.28,191.36 73.35,191.29 C73.42,191.21 73.49,191.15 73.58,191.10 C73.66,191.06 73.72,191.02 73.87,191.00 C74.01,190.97 74.26,190.96 74.45,190.96 C74.65,190.96 74.89,190.97 75.04,191.00 C75.18,191.02 75.24,191.06 75.33,191.10 C75.42,191.15 75.49,191.21 75.56,191.29 C75.62,191.36 75.69,191.44 75.74,191.54 C75.80,191.64 75.85,191.75 75.90,191.87 C75.95,191.99 75.99,192.13 76.04,192.28 C76.08,192.43 76.11,192.59 76.15,192.77 C76.18,192.95 76.21,193.14 76.24,193.36 C76.26,193.57 76.29,193.80 76.31,194.05 C76.33,194.31 76.34,194.57 76.35,194.89 C76.37,195.20 76.38,195.42 76.38,195.96 C76.39,196.50 76.39,197.48 76.39,198.12Z" fill="#222222" fill-opacity="0.055" stroke="#222222" stroke-width="0.45" stroke-opacity="0.9" clip-path="url(#cBL)"/><path d="M75.93,198.23 C75.93,198.79 75.93,199.29 75.93,199.68 C75.92,200.08 75.91,200.32 75.90,200.60 C75.89,200.88 75.87,201.13 75.86,201.37 C75.84,201.60 75.82,201.82 75.79,202.03 C75.77,202.23 75.74,202.42 75.71,202.60 C75.69,202.78 75.65,202.94 75.62,203.09 C75.58,203.25 75.54,203.38 75.50,203.51 C75.46,203.64 75.42,203.75 75.37,203.85 C75.32,203.95 75.27,204.04 75.22,204.12 C75.16,204.19 75.11,204.26 75.04,204.31 C74.98,204.36 74.92,204.40 74.83,204.42 C74.74,204.45 74.60,204.46 74.49,204.46 C74.38,204.46 74.24,204.45 74.15,204.42 C74.06,204.40 74.01,204.36 73.94,204.31 C73.88,204.26 73.82,204.19 73.76,204.12 C73.71,204.04 73.66,203.95 73.61,203.85 C73.56,203.75 73.52,203.64 73.48,203.51 C73.44,203.38 73.40,203.25 73.36,203.09 C73.33,202.94 73.30,202.78 73.27,202.60 C73.24,202.42 73.21,202.23 73.19,202.03 C73.16,201.82 73.14,201.60 73.13,201.37 C73.11,201.13 73.09,200.88 73.08,200.60 C73.07,200.32 73.06,200.08 73.05,199.68 C73.05,199.29 73.05,198.79 73.05,198.23 C73.05,197.67 73.05,196.81 73.05,196.34 C73.06,195.87 73.07,195.68 73.07,195.40 C73.08,195.12 73.10,194.89 73.11,194.67 C73.13,194.45 73.14,194.25 73.16,194.06 C73.18,193.88 73.20,193.71 73.23,193.55 C73.25,193.39 73.28,193.25 73.31,193.12 C73.34,192.99 73.38,192.87 73.41,192.76 C73.45,192.65 73.49,192.56 73.53,192.47 C73.57,192.39 73.62,192.31 73.67,192.25 C73.72,192.19 73.77,192.13 73.84,192.09 C73.90,192.05 73.95,192.02 74.05,192.00 C74.16,191.98 74.34,191.97 74.49,191.97 C74.64,191.97 74.82,191.98 74.93,192.00 C75.04,192.02 75.08,192.05 75.14,192.09 C75.21,192.13 75.26,192.19 75.31,192.25 C75.36,192.31 75.41,192.39 75.45,192.47 C75.49,192.56 75.53,192.65 75.57,192.76 C75.61,192.87 75.64,192.99 75.67,193.12 C75.70,193.25 75.73,193.39 75.75,193.55 C75.78,193.71 75.80,193.88 75.82,194.06 C75.84,194.25 75.85,194.45 75.87,194.67 C75.88,194.89 75.90,195.12 75.91,195.40 C75.92,195.68 75.92,195.87 75.93,196.34 C75.93,196.81 75.94,197.67 75.93,198.23Z" fill="#1e1e1e" fill-opacity="0.055" stroke="#1e1e1e" stroke-width="0.45" stroke-opacity="0.9" clip-path="url(#cBL)"/><ellipse cx="74.8" cy="199" rx="0.8" ry="6" fill="#fff" opacity="0.35"/><path d="M82.30,201.00 C81.38,199.17 81.97,190.58 82.50,187.00 C83.03,183.42 84.08,181.33 85.50,179.50 C86.92,177.67 89.17,176.67 91.00,176.00 C92.83,175.33 95.03,175.17 96.50,175.50 C97.97,175.83 99.38,176.75 99.80,178.00 C100.22,179.25 99.97,181.00 99.00,183.00 C98.03,185.00 95.83,187.50 94.00,190.00 C92.17,192.50 89.95,196.17 88.00,198.00 C86.05,199.83 83.22,202.83 82.30,201.00Z" fill="#555555" fill-opacity="0.0" stroke="#555555" stroke-width="0.45" stroke-opacity="0.95" clip-path="url(#fBL)"/><path d="M82.45,200.70 C81.64,199.09 82.15,191.54 82.62,188.40 C83.09,185.25 84.01,183.42 85.26,181.81 C86.50,180.20 88.48,179.32 90.09,178.73 C91.70,178.15 93.63,178.00 94.92,178.29 C96.21,178.59 97.45,179.39 97.82,180.49 C98.19,181.59 97.97,183.12 97.12,184.88 C96.27,186.64 94.34,188.84 92.72,191.03 C91.11,193.23 89.17,196.45 87.45,198.06 C85.74,199.67 83.25,202.31 82.45,200.70Z" fill="#4f4f4f" fill-opacity="0.0" stroke="#4f4f4f" stroke-width="0.45" stroke-opacity="0.95" clip-path="url(#fBL)"/><path d="M82.59,200.39 C81.90,199.00 82.34,192.51 82.74,189.79 C83.15,187.08 83.94,185.50 85.01,184.11 C86.09,182.73 87.79,181.97 89.18,181.46 C90.57,180.96 92.23,180.83 93.34,181.09 C94.45,181.34 95.53,182.03 95.84,182.98 C96.16,183.93 95.97,185.25 95.24,186.76 C94.50,188.28 92.84,190.17 91.45,192.06 C90.06,193.96 88.38,196.73 86.91,198.12 C85.43,199.51 83.29,201.78 82.59,200.39Z" fill="#494949" fill-opacity="0.0" stroke="#494949" stroke-width="0.45" stroke-opacity="0.95" clip-path="url(#fBL)"/><path d="M82.74,200.09 C82.15,198.92 82.53,193.47 82.86,191.19 C83.20,188.91 83.87,187.59 84.77,186.42 C85.67,185.26 87.10,184.62 88.27,184.20 C89.43,183.77 90.83,183.67 91.76,183.88 C92.70,184.09 93.60,184.67 93.86,185.47 C94.13,186.26 93.97,187.38 93.35,188.65 C92.74,189.92 91.34,191.51 90.17,193.10 C89.01,194.69 87.60,197.02 86.36,198.18 C85.12,199.35 83.32,201.25 82.74,200.09Z" fill="#444444" fill-opacity="0.0" stroke="#444444" stroke-width="0.45" stroke-opacity="0.95" clip-path="url(#fBL)"/><path d="M82.88,199.79 C82.41,198.84 82.71,194.43 82.99,192.59 C83.26,190.74 83.80,189.67 84.53,188.73 C85.26,187.79 86.41,187.27 87.36,186.93 C88.30,186.59 89.43,186.50 90.19,186.67 C90.94,186.84 91.67,187.31 91.88,187.96 C92.10,188.60 91.97,189.50 91.47,190.53 C90.97,191.56 89.84,192.84 88.90,194.13 C87.96,195.41 86.82,197.30 85.81,198.24 C84.81,199.19 83.35,200.73 82.88,199.79Z" fill="#3e3e3e" fill-opacity="0.0" stroke="#3e3e3e" stroke-width="0.45" stroke-opacity="0.95" clip-path="url(#fBL)"/><path d="M83.03,199.48 C82.67,198.76 82.90,195.39 83.11,193.98 C83.32,192.57 83.73,191.76 84.29,191.04 C84.84,190.32 85.73,189.92 86.45,189.66 C87.17,189.40 88.03,189.33 88.61,189.46 C89.18,189.60 89.74,189.96 89.90,190.45 C90.07,190.94 89.97,191.62 89.59,192.41 C89.21,193.20 88.35,194.18 87.62,195.16 C86.90,196.14 86.03,197.58 85.27,198.30 C84.50,199.02 83.39,200.20 83.03,199.48Z" fill="#383838" fill-opacity="0.0" stroke="#383838" stroke-width="0.45" stroke-opacity="0.95" clip-path="url(#fBL)"/><path d="M83.17,199.18 C82.93,198.68 83.08,196.35 83.23,195.38 C83.37,194.41 83.66,193.84 84.04,193.34 C84.43,192.85 85.04,192.57 85.54,192.39 C86.03,192.21 86.63,192.17 87.03,192.26 C87.43,192.35 87.81,192.60 87.92,192.94 C88.04,193.28 87.97,193.75 87.71,194.29 C87.44,194.84 86.85,195.51 86.35,196.19 C85.85,196.87 85.25,197.87 84.72,198.36 C84.19,198.86 83.42,199.68 83.17,199.18Z" fill="#333333" fill-opacity="0.0" stroke="#333333" stroke-width="0.45" stroke-opacity="0.95" clip-path="url(#fBL)"/><circle cx="66.00" cy="222.00" r="0.5" fill="#888" opacity="1"/><circle cx="73.00" cy="221.00" r="0.5" fill="#888" opacity="1"/><circle cx="74.00" cy="223.00" r="0.5" fill="#888" opacity="1"/><circle cx="76.00" cy="224.00" r="0.5" fill="#888" opacity="1"/><circle cx="71.00" cy="228.00" r="0.5" fill="#888" opacity="1"/><circle cx="73.00" cy="235.00" r="0.5" fill="#888" opacity="1"/><circle cx="71.00" cy="250.00" r="0.5" fill="#888" opacity="1"/><circle cx="74.50" cy="219.50" r="0.5" fill="#888" opacity="1"/><circle cx="95.00" cy="192.00" r="0.5" fill="#888" opacity="1"/><circle cx="97.00" cy="189.00" r="0.5" fill="#888" opacity="1"/><circle cx="93.00" cy="195.00" r="0.5" fill="#888" opacity="1"/><circle cx="99.00" cy="186.00" r="0.5" fill="#888" opacity="1"/><circle cx="96.50" cy="196.00" r="0.5" fill="#888" opacity="1"/><line x1="53.50" y1="163.00" x2="53.50" y2="270.40" stroke="#8a8a8a" stroke-width="1.0"/><line x1="81.50" y1="163.00" x2="81.50" y2="270.40" stroke="#333" stroke-width="1.0"/><line x1="53.50" y1="218.40" x2="81.50" y2="218.40" stroke="#333" stroke-width="1.2"/><path d="M81.50,164.50 H142.50 V202.50 H81.50" fill="none" stroke="#4a4a4a" stroke-width="1.0"/><path d="M48.80,270.40 V162.40 H156.80 V270.40 H48.80" fill="none" stroke="#222" stroke-width="1.4"/><rect x="52.60" y="168.60" width="16.00" height="9.00" fill="#fff" stroke="none" stroke-width="0"/><rect x="66.80" y="255.80" width="15.60" height="9.00" fill="#fff" stroke="none" stroke-width="0"/><text x="31.55" y="181.13" font-size="7.45" fill="#333" stroke="#333" stroke-width="0.15" textLength="8.03" lengthAdjust="spacingAndGlyphs" >10</text><text x="40.00" y="178.15" font-size="5.52" fill="#333" stroke="#333" stroke-width="0.15" textLength="2.82" lengthAdjust="spacingAndGlyphs" >5</text><text x="31.55" y="200.13" font-size="7.45" fill="#333" stroke="#333" stroke-width="0.15" textLength="8.03" lengthAdjust="spacingAndGlyphs" >10</text><text x="40.09" y="197.20" font-size="5.52" fill="#333" stroke="#333" stroke-width="0.15" textLength="2.65" lengthAdjust="spacingAndGlyphs" >4</text><text x="31.55" y="221.83" font-size="7.45" fill="#333" stroke="#333" stroke-width="0.15" textLength="8.03" lengthAdjust="spacingAndGlyphs" >10</text><text x="40.01" y="218.85" font-size="5.44" fill="#333" stroke="#333" stroke-width="0.15" textLength="2.82" lengthAdjust="spacingAndGlyphs" >3</text><text x="35.06" y="237.32" font-size="8.02" fill="#333" stroke="#333" stroke-width="0.15" textLength="4.77" lengthAdjust="spacingAndGlyphs" >0</text><text x="29.07" y="251.54" font-size="6.59" fill="#333" stroke="#333" stroke-width="0.15" textLength="10.72" lengthAdjust="spacingAndGlyphs" >-10</text><text x="40.02" y="248.85" font-size="4.87" fill="#333" stroke="#333" stroke-width="0.15" textLength="2.58" lengthAdjust="spacingAndGlyphs" >3</text><text x="53.80" y="281.20" font-size="7.6" fill="#2a2a2a" stroke="#2a2a2a" stroke-width="0.18" text-anchor="end" transform="rotate(-45 53.80 281.20)">0</text><text x="74.18" y="281.20" font-size="7.6" fill="#2a2a2a" stroke="#2a2a2a" stroke-width="0.18" text-anchor="end" transform="rotate(-45 74.18 281.20)">50K</text><text x="94.56" y="281.20" font-size="7.6" fill="#2a2a2a" stroke="#2a2a2a" stroke-width="0.18" text-anchor="end" transform="rotate(-45 94.56 281.20)">100K</text><text x="114.94" y="281.20" font-size="7.6" fill="#2a2a2a" stroke="#2a2a2a" stroke-width="0.18" text-anchor="end" transform="rotate(-45 114.94 281.20)">150K</text><text x="135.32" y="281.20" font-size="7.6" fill="#2a2a2a" stroke="#2a2a2a" stroke-width="0.18" text-anchor="end" transform="rotate(-45 135.32 281.20)">200K</text><text x="155.70" y="281.20" font-size="7.6" fill="#2a2a2a" stroke="#2a2a2a" stroke-width="0.18" text-anchor="end" transform="rotate(-45 155.70 281.20)">250K</text><text x="53.29" y="175.47" font-size="8.25" fill="#625aa4" stroke="#625aa4" stroke-width="0.2" textLength="14.63" lengthAdjust="spacingAndGlyphs" >81.0</text><text x="123.08" y="192.80" font-size="8.37" fill="#625aa4" stroke="#625aa4" stroke-width="0.2" textLength="13.91" lengthAdjust="spacingAndGlyphs" >17.7</text><text x="67.58" y="262.72" font-size="8.25" fill="#625aa4" stroke="#625aa4" stroke-width="0.2" textLength="14.42" lengthAdjust="spacingAndGlyphs" >0.47</text><text x="117.56" y="264.83" font-size="7.54" fill="#333" stroke="#333" stroke-width="0.2" textLength="12.13" lengthAdjust="spacingAndGlyphs" >+/+</text><text x="131.88" y="264.63" font-size="7.53" fill="#333" stroke="#333" stroke-width="0.2" textLength="17.63" lengthAdjust="spacingAndGlyphs" >CTRL</text><line x1="183.50" y1="173.58" x2="185.30" y2="173.58" stroke="#222" stroke-width="0.8"/><line x1="183.50" y1="170.23" x2="185.30" y2="170.23" stroke="#222" stroke-width="0.8"/><line x1="183.50" y1="167.86" x2="185.30" y2="167.86" stroke="#222" stroke-width="0.8"/><line x1="183.50" y1="166.02" x2="185.30" y2="166.02" stroke="#222" stroke-width="0.8"/><line x1="183.50" y1="164.52" x2="185.30" y2="164.52" stroke="#222" stroke-width="0.8"/><line x1="183.50" y1="163.24" x2="185.30" y2="163.24" stroke="#222" stroke-width="0.8"/><line x1="183.50" y1="192.58" x2="185.30" y2="192.58" stroke="#222" stroke-width="0.8"/><line x1="183.50" y1="189.23" x2="185.30" y2="189.23" stroke="#222" stroke-width="0.8"/><line x1="183.50" y1="186.86" x2="185.30" y2="186.86" stroke="#222" stroke-width="0.8"/><line x1="183.50" y1="185.02" x2="185.30" y2="185.02" stroke="#222" stroke-width="0.8"/><line x1="183.50" y1="183.52" x2="185.30" y2="183.52" stroke="#222" stroke-width="0.8"/><line x1="183.50" y1="182.24" x2="185.30" y2="182.24" stroke="#222" stroke-width="0.8"/><line x1="183.50" y1="181.14" x2="185.30" y2="181.14" stroke="#222" stroke-width="0.8"/><line x1="183.50" y1="180.17" x2="185.30" y2="180.17" stroke="#222" stroke-width="0.8"/><line x1="183.50" y1="213.47" x2="185.30" y2="213.47" stroke="#222" stroke-width="0.8"/><line x1="183.50" y1="209.65" x2="185.30" y2="209.65" stroke="#222" stroke-width="0.8"/><line x1="183.50" y1="206.94" x2="185.30" y2="206.94" stroke="#222" stroke-width="0.8"/><line x1="183.50" y1="204.83" x2="185.30" y2="204.83" stroke="#222" stroke-width="0.8"/><line x1="183.50" y1="203.11" x2="185.30" y2="203.11" stroke="#222" stroke-width="0.8"/><line x1="183.50" y1="201.66" x2="185.30" y2="201.66" stroke="#222" stroke-width="0.8"/><line x1="183.50" y1="200.40" x2="185.30" y2="200.40" stroke="#222" stroke-width="0.8"/><line x1="183.50" y1="199.29" x2="185.30" y2="199.29" stroke="#222" stroke-width="0.8"/><line x1="183.50" y1="223.00" x2="185.30" y2="223.00" stroke="#222" stroke-width="0.8"/><line x1="183.50" y1="225.80" x2="185.30" y2="225.80" stroke="#222" stroke-width="0.8"/><line x1="183.50" y1="228.30" x2="185.30" y2="228.30" stroke="#222" stroke-width="0.8"/><line x1="183.50" y1="230.20" x2="185.30" y2="230.20" stroke="#222" stroke-width="0.8"/><line x1="183.50" y1="233.10" x2="185.30" y2="233.10" stroke="#222" stroke-width="0.8"/><line x1="183.50" y1="234.10" x2="185.30" y2="234.10" stroke="#222" stroke-width="0.8"/><line x1="183.50" y1="235.10" x2="185.30" y2="235.10" stroke="#222" stroke-width="0.8"/><line x1="183.50" y1="236.10" x2="185.30" y2="236.10" stroke="#222" stroke-width="0.8"/><line x1="183.50" y1="237.20" x2="185.30" y2="237.20" stroke="#222" stroke-width="0.8"/><line x1="183.50" y1="238.60" x2="185.30" y2="238.60" stroke="#222" stroke-width="0.8"/><line x1="183.50" y1="240.80" x2="185.30" y2="240.80" stroke="#222" stroke-width="0.8"/><line x1="183.50" y1="244.10" x2="185.30" y2="244.10" stroke="#222" stroke-width="0.8"/><line x1="183.50" y1="255.50" x2="185.30" y2="255.50" stroke="#222" stroke-width="0.8"/><line x1="183.50" y1="260.00" x2="185.30" y2="260.00" stroke="#222" stroke-width="0.8"/><line x1="183.50" y1="264.00" x2="185.30" y2="264.00" stroke="#222" stroke-width="0.8"/><line x1="183.50" y1="268.20" x2="185.30" y2="268.20" stroke="#222" stroke-width="0.8"/><line x1="182.10" y1="179.30" x2="185.30" y2="179.30" stroke="#111" stroke-width="1.1"/><line x1="182.10" y1="198.30" x2="185.30" y2="198.30" stroke="#111" stroke-width="1.1"/><line x1="182.10" y1="220.00" x2="185.30" y2="220.00" stroke="#111" stroke-width="1.1"/><line x1="182.10" y1="234.60" x2="185.30" y2="234.60" stroke="#111" stroke-width="1.1"/><line x1="182.10" y1="249.00" x2="185.30" y2="249.00" stroke="#111" stroke-width="1.1"/><line x1="189.78" y1="270.40" x2="189.78" y2="272.20" stroke="#222" stroke-width="0.8"/><line x1="193.85" y1="270.40" x2="193.85" y2="272.20" stroke="#222" stroke-width="0.8"/><line x1="197.93" y1="270.40" x2="197.93" y2="272.20" stroke="#222" stroke-width="0.8"/><line x1="202.00" y1="270.40" x2="202.00" y2="272.20" stroke="#222" stroke-width="0.8"/><line x1="210.16" y1="270.40" x2="210.16" y2="272.20" stroke="#222" stroke-width="0.8"/><line x1="214.23" y1="270.40" x2="214.23" y2="272.20" stroke="#222" stroke-width="0.8"/><line x1="218.31" y1="270.40" x2="218.31" y2="272.20" stroke="#222" stroke-width="0.8"/><line x1="222.38" y1="270.40" x2="222.38" y2="272.20" stroke="#222" stroke-width="0.8"/><line x1="230.54" y1="270.40" x2="230.54" y2="272.20" stroke="#222" stroke-width="0.8"/><line x1="234.61" y1="270.40" x2="234.61" y2="272.20" stroke="#222" stroke-width="0.8"/><line x1="238.69" y1="270.40" x2="238.69" y2="272.20" stroke="#222" stroke-width="0.8"/><line x1="242.76" y1="270.40" x2="242.76" y2="272.20" stroke="#222" stroke-width="0.8"/><line x1="250.92" y1="270.40" x2="250.92" y2="272.20" stroke="#222" stroke-width="0.8"/><line x1="254.99" y1="270.40" x2="254.99" y2="272.20" stroke="#222" stroke-width="0.8"/><line x1="259.07" y1="270.40" x2="259.07" y2="272.20" stroke="#222" stroke-width="0.8"/><line x1="263.14" y1="270.40" x2="263.14" y2="272.20" stroke="#222" stroke-width="0.8"/><line x1="271.30" y1="270.40" x2="271.30" y2="272.20" stroke="#222" stroke-width="0.8"/><line x1="275.37" y1="270.40" x2="275.37" y2="272.20" stroke="#222" stroke-width="0.8"/><line x1="279.45" y1="270.40" x2="279.45" y2="272.20" stroke="#222" stroke-width="0.8"/><line x1="283.52" y1="270.40" x2="283.52" y2="272.20" stroke="#222" stroke-width="0.8"/><line x1="291.68" y1="270.40" x2="291.68" y2="272.20" stroke="#222" stroke-width="0.8"/><line x1="185.70" y1="270.40" x2="185.70" y2="273.60" stroke="#111" stroke-width="1.1"/><line x1="206.08" y1="270.40" x2="206.08" y2="273.60" stroke="#111" stroke-width="1.1"/><line x1="226.46" y1="270.40" x2="226.46" y2="273.60" stroke="#111" stroke-width="1.1"/><line x1="246.84" y1="270.40" x2="246.84" y2="273.60" stroke="#111" stroke-width="1.1"/><line x1="267.22" y1="270.40" x2="267.22" y2="273.60" stroke="#111" stroke-width="1.1"/><line x1="287.60" y1="270.40" x2="287.60" y2="273.60" stroke="#111" stroke-width="1.1"/><path d="M219.00,198.87 C218.80,200.13 218.58,201.37 218.38,202.41 C218.18,203.45 217.99,204.26 217.78,205.11 C217.57,205.95 217.35,206.73 217.11,207.48 C216.88,208.23 216.63,208.93 216.38,209.59 C216.12,210.25 215.85,210.87 215.57,211.45 C215.29,212.02 215.00,212.56 214.70,213.05 C214.40,213.54 214.08,214.00 213.76,214.40 C213.44,214.81 213.11,215.17 212.77,215.48 C212.43,215.80 212.08,216.07 211.72,216.29 C211.36,216.51 211.00,216.69 210.61,216.82 C210.23,216.95 209.87,217.03 209.42,217.05 C208.98,217.08 208.42,217.04 207.93,216.96 C207.45,216.88 206.91,216.75 206.49,216.59 C206.07,216.43 205.75,216.24 205.43,216.00 C205.10,215.76 204.81,215.48 204.54,215.15 C204.26,214.83 204.02,214.47 203.79,214.06 C203.56,213.66 203.36,213.21 203.18,212.72 C203.00,212.24 202.84,211.71 202.71,211.15 C202.58,210.59 202.46,209.99 202.38,209.36 C202.29,208.72 202.22,208.05 202.18,207.34 C202.14,206.63 202.12,205.89 202.13,205.11 C202.14,204.33 202.17,203.52 202.23,202.65 C202.29,201.78 202.37,200.94 202.49,199.89 C202.62,198.84 202.80,197.60 203.00,196.33 C203.20,195.07 203.48,193.43 203.69,192.30 C203.91,191.16 204.09,190.38 204.29,189.52 C204.50,188.67 204.71,187.90 204.94,187.16 C205.16,186.43 205.39,185.75 205.64,185.11 C205.88,184.47 206.13,183.88 206.40,183.32 C206.66,182.77 206.94,182.27 207.22,181.80 C207.51,181.34 207.80,180.91 208.10,180.53 C208.41,180.15 208.72,179.82 209.05,179.53 C209.38,179.23 209.71,178.98 210.06,178.78 C210.41,178.58 210.77,178.42 211.16,178.30 C211.54,178.19 211.89,178.11 212.38,178.10 C212.86,178.09 213.51,178.15 214.07,178.24 C214.62,178.33 215.26,178.47 215.72,178.63 C216.17,178.79 216.48,178.97 216.81,179.20 C217.15,179.42 217.44,179.69 217.71,179.99 C217.98,180.29 218.22,180.63 218.44,181.01 C218.66,181.39 218.85,181.81 219.03,182.26 C219.20,182.72 219.35,183.21 219.48,183.74 C219.60,184.27 219.71,184.84 219.79,185.45 C219.87,186.05 219.93,186.69 219.96,187.38 C220.00,188.06 220.01,188.78 219.99,189.55 C219.98,190.31 219.94,191.11 219.87,191.99 C219.81,192.87 219.73,193.67 219.59,194.82 C219.44,195.96 219.20,197.60 219.00,198.87Z" fill="#e49393" opacity="0.45" clip-path="url(#cBR)"/><path d="M219.30,198.91 C219.10,200.15 218.89,201.33 218.69,202.37 C218.48,203.41 218.28,204.28 218.06,205.16 C217.83,206.04 217.60,206.86 217.35,207.65 C217.10,208.44 216.83,209.19 216.56,209.90 C216.28,210.60 215.99,211.27 215.69,211.89 C215.39,212.51 215.08,213.09 214.75,213.62 C214.43,214.16 214.10,214.65 213.75,215.09 C213.41,215.53 213.06,215.93 212.70,216.27 C212.34,216.62 211.97,216.92 211.59,217.16 C211.21,217.41 210.83,217.61 210.43,217.75 C210.04,217.89 209.66,217.99 209.21,218.02 C208.77,218.05 208.25,218.02 207.78,217.95 C207.31,217.87 206.80,217.74 206.39,217.57 C205.98,217.40 205.64,217.19 205.31,216.94 C204.98,216.68 204.68,216.37 204.39,216.02 C204.11,215.67 203.85,215.27 203.62,214.84 C203.38,214.40 203.17,213.91 202.98,213.38 C202.79,212.86 202.62,212.29 202.48,211.68 C202.34,211.07 202.22,210.42 202.12,209.74 C202.03,209.06 201.96,208.33 201.92,207.58 C201.87,206.82 201.85,206.03 201.86,205.20 C201.86,204.37 201.90,203.51 201.95,202.61 C202.01,201.70 202.09,200.81 202.22,199.76 C202.34,198.71 202.51,197.52 202.70,196.29 C202.90,195.05 203.17,193.48 203.39,192.34 C203.60,191.21 203.79,190.38 204.01,189.49 C204.23,188.60 204.45,187.79 204.69,187.02 C204.93,186.25 205.18,185.53 205.44,184.86 C205.70,184.18 205.97,183.55 206.25,182.96 C206.53,182.38 206.83,181.83 207.13,181.33 C207.43,180.84 207.75,180.38 208.07,179.97 C208.40,179.57 208.73,179.20 209.08,178.89 C209.42,178.57 209.78,178.30 210.15,178.08 C210.52,177.86 210.89,177.68 211.29,177.56 C211.69,177.43 212.06,177.35 212.54,177.33 C213.03,177.31 213.65,177.37 214.19,177.45 C214.73,177.54 215.34,177.68 215.80,177.85 C216.25,178.01 216.58,178.21 216.92,178.45 C217.26,178.69 217.56,178.97 217.84,179.30 C218.12,179.62 218.38,179.99 218.61,180.40 C218.84,180.80 219.05,181.25 219.23,181.74 C219.41,182.23 219.57,182.76 219.71,183.33 C219.84,183.89 219.95,184.50 220.04,185.15 C220.13,185.79 220.19,186.47 220.23,187.20 C220.27,187.92 220.28,188.68 220.27,189.49 C220.25,190.30 220.22,191.13 220.15,192.04 C220.09,192.96 220.01,193.81 219.87,194.95 C219.72,196.10 219.49,197.68 219.30,198.91Z" fill="#d26868" fill-opacity="0.03" stroke="#d26868" stroke-width="0.45" stroke-opacity="0.95" clip-path="url(#cBR)"/><path d="M218.71,199.18 C218.53,200.34 218.34,201.45 218.14,202.42 C217.95,203.40 217.76,204.22 217.55,205.04 C217.34,205.87 217.12,206.65 216.88,207.39 C216.65,208.13 216.40,208.84 216.14,209.50 C215.88,210.16 215.61,210.79 215.33,211.37 C215.04,211.96 214.75,212.50 214.44,213.01 C214.14,213.51 213.83,213.97 213.50,214.38 C213.18,214.80 212.85,215.17 212.51,215.49 C212.17,215.82 211.83,216.10 211.47,216.33 C211.12,216.56 210.76,216.75 210.38,216.88 C210.01,217.02 209.65,217.10 209.24,217.14 C208.82,217.17 208.33,217.14 207.89,217.07 C207.44,217.00 206.97,216.87 206.58,216.71 C206.20,216.56 205.88,216.36 205.57,216.12 C205.26,215.88 204.97,215.59 204.71,215.26 C204.44,214.93 204.20,214.56 203.97,214.14 C203.75,213.73 203.55,213.27 203.37,212.78 C203.20,212.28 203.04,211.75 202.91,211.18 C202.77,210.61 202.66,210.00 202.57,209.35 C202.48,208.71 202.42,208.03 202.38,207.32 C202.33,206.61 202.32,205.86 202.32,205.08 C202.33,204.31 202.36,203.50 202.41,202.65 C202.47,201.80 202.54,200.96 202.66,199.97 C202.78,198.98 202.93,197.87 203.12,196.71 C203.30,195.54 203.55,194.07 203.76,193.00 C203.96,191.94 204.14,191.15 204.35,190.32 C204.55,189.48 204.76,188.73 204.99,188.00 C205.21,187.27 205.44,186.60 205.69,185.96 C205.93,185.33 206.19,184.73 206.45,184.18 C206.72,183.63 206.99,183.12 207.28,182.65 C207.56,182.18 207.86,181.76 208.17,181.37 C208.47,180.99 208.79,180.65 209.11,180.35 C209.44,180.05 209.77,179.80 210.12,179.59 C210.46,179.38 210.81,179.22 211.19,179.10 C211.56,178.98 211.91,178.91 212.37,178.89 C212.82,178.87 213.41,178.92 213.92,179.00 C214.43,179.08 215.00,179.22 215.42,179.37 C215.85,179.53 216.16,179.71 216.48,179.94 C216.80,180.17 217.08,180.43 217.35,180.74 C217.61,181.04 217.85,181.39 218.07,181.77 C218.29,182.15 218.48,182.58 218.65,183.03 C218.82,183.49 218.97,183.99 219.10,184.52 C219.23,185.06 219.33,185.63 219.41,186.24 C219.49,186.84 219.55,187.48 219.59,188.16 C219.63,188.85 219.64,189.56 219.63,190.32 C219.62,191.08 219.58,191.86 219.52,192.72 C219.46,193.58 219.38,194.38 219.25,195.45 C219.12,196.53 218.90,198.02 218.71,199.18Z" fill="#ce6363" fill-opacity="0.03" stroke="#ce6363" stroke-width="0.45" stroke-opacity="0.95" clip-path="url(#cBR)"/><path d="M218.13,199.44 C217.96,200.53 217.78,201.56 217.60,202.48 C217.41,203.40 217.24,204.16 217.04,204.93 C216.84,205.71 216.64,206.43 216.42,207.13 C216.20,207.82 215.97,208.48 215.72,209.10 C215.48,209.73 215.22,210.31 214.96,210.86 C214.70,211.41 214.42,211.92 214.14,212.39 C213.85,212.86 213.56,213.29 213.26,213.68 C212.95,214.06 212.64,214.41 212.33,214.72 C212.01,215.02 211.68,215.28 211.35,215.50 C211.02,215.72 210.68,215.89 210.33,216.01 C209.99,216.14 209.65,216.22 209.26,216.25 C208.87,216.28 208.41,216.25 208.00,216.19 C207.58,216.12 207.14,216.01 206.77,215.86 C206.41,215.71 206.12,215.53 205.83,215.30 C205.53,215.07 205.27,214.80 205.02,214.50 C204.77,214.19 204.54,213.84 204.33,213.45 C204.13,213.06 203.94,212.64 203.77,212.17 C203.60,211.71 203.46,211.21 203.33,210.67 C203.21,210.14 203.10,209.57 203.02,208.97 C202.94,208.37 202.88,207.73 202.84,207.06 C202.80,206.40 202.78,205.70 202.79,204.97 C202.79,204.24 202.82,203.49 202.87,202.69 C202.93,201.89 202.99,201.11 203.10,200.18 C203.21,199.26 203.36,198.22 203.53,197.13 C203.70,196.04 203.94,194.65 204.13,193.66 C204.32,192.66 204.49,191.93 204.68,191.15 C204.87,190.37 205.07,189.66 205.28,188.98 C205.49,188.30 205.71,187.67 205.94,187.07 C206.17,186.47 206.40,185.92 206.65,185.40 C206.90,184.89 207.16,184.41 207.43,183.97 C207.69,183.53 207.97,183.13 208.26,182.77 C208.54,182.41 208.84,182.09 209.14,181.82 C209.45,181.54 209.76,181.30 210.08,181.11 C210.41,180.91 210.74,180.76 211.09,180.65 C211.44,180.54 211.76,180.46 212.19,180.45 C212.61,180.43 213.16,180.48 213.64,180.55 C214.12,180.63 214.65,180.76 215.05,180.90 C215.45,181.05 215.74,181.22 216.04,181.43 C216.34,181.64 216.61,181.89 216.85,182.18 C217.10,182.46 217.32,182.79 217.53,183.14 C217.73,183.50 217.91,183.90 218.07,184.33 C218.23,184.76 218.37,185.22 218.49,185.72 C218.61,186.22 218.71,186.76 218.79,187.32 C218.86,187.89 218.92,188.49 218.95,189.13 C218.99,189.77 219.00,190.44 218.99,191.15 C218.98,191.86 218.94,192.59 218.89,193.40 C218.83,194.20 218.76,194.95 218.63,195.95 C218.51,196.96 218.31,198.35 218.13,199.44Z" fill="#cb5e5e" fill-opacity="0.03" stroke="#cb5e5e" stroke-width="0.45" stroke-opacity="0.95" clip-path="url(#cBR)"/><path d="M217.55,199.70 C217.39,200.72 217.22,201.68 217.05,202.54 C216.88,203.39 216.72,204.10 216.53,204.82 C216.35,205.54 216.16,206.22 215.95,206.87 C215.75,207.52 215.53,208.13 215.31,208.71 C215.08,209.29 214.84,209.83 214.59,210.34 C214.35,210.85 214.09,211.33 213.83,211.77 C213.56,212.20 213.29,212.61 213.01,212.97 C212.72,213.33 212.44,213.65 212.14,213.94 C211.84,214.22 211.54,214.47 211.23,214.67 C210.92,214.87 210.61,215.03 210.28,215.15 C209.96,215.26 209.65,215.34 209.28,215.37 C208.92,215.40 208.49,215.37 208.11,215.31 C207.72,215.25 207.30,215.14 206.97,215.00 C206.63,214.86 206.36,214.69 206.08,214.48 C205.81,214.27 205.56,214.02 205.33,213.73 C205.10,213.45 204.89,213.12 204.69,212.76 C204.50,212.40 204.32,212.00 204.17,211.57 C204.01,211.14 203.88,210.67 203.76,210.17 C203.64,209.67 203.55,209.14 203.47,208.58 C203.39,208.02 203.33,207.43 203.30,206.81 C203.26,206.19 203.25,205.54 203.25,204.86 C203.26,204.18 203.28,203.47 203.33,202.73 C203.38,201.99 203.44,201.26 203.55,200.40 C203.65,199.53 203.78,198.56 203.94,197.55 C204.10,196.53 204.33,195.24 204.50,194.32 C204.68,193.39 204.84,192.70 205.02,191.97 C205.20,191.25 205.38,190.59 205.58,189.95 C205.77,189.32 205.97,188.73 206.19,188.18 C206.40,187.62 206.62,187.10 206.85,186.62 C207.09,186.14 207.33,185.70 207.58,185.29 C207.82,184.88 208.08,184.51 208.35,184.17 C208.61,183.84 208.89,183.54 209.17,183.28 C209.46,183.02 209.75,182.80 210.05,182.62 C210.35,182.44 210.66,182.29 210.99,182.19 C211.31,182.09 211.62,182.02 212.01,182.01 C212.41,181.99 212.92,182.03 213.36,182.10 C213.81,182.17 214.31,182.29 214.68,182.43 C215.05,182.56 215.32,182.72 215.60,182.92 C215.88,183.12 216.13,183.35 216.36,183.62 C216.59,183.88 216.80,184.18 216.99,184.52 C217.18,184.85 217.35,185.22 217.50,185.62 C217.65,186.02 217.78,186.46 217.89,186.92 C218.00,187.39 218.09,187.88 218.16,188.41 C218.23,188.94 218.28,189.50 218.31,190.10 C218.35,190.69 218.36,191.31 218.35,191.98 C218.34,192.64 218.31,193.32 218.25,194.07 C218.20,194.82 218.13,195.52 218.02,196.46 C217.90,197.39 217.71,198.69 217.55,199.70Z" fill="#c85959" fill-opacity="0.03" stroke="#c85959" stroke-width="0.45" stroke-opacity="0.95" clip-path="url(#cBR)"/><path d="M216.97,199.97 C216.82,200.91 216.66,201.80 216.51,202.59 C216.35,203.38 216.20,204.04 216.03,204.71 C215.86,205.38 215.68,206.01 215.49,206.61 C215.30,207.21 215.10,207.78 214.89,208.31 C214.68,208.85 214.46,209.36 214.23,209.83 C214.00,210.30 213.76,210.74 213.52,211.15 C213.27,211.55 213.02,211.92 212.76,212.26 C212.50,212.60 212.23,212.90 211.95,213.16 C211.68,213.42 211.40,213.65 211.11,213.84 C210.83,214.02 210.54,214.17 210.23,214.28 C209.93,214.39 209.64,214.46 209.31,214.49 C208.97,214.51 208.57,214.49 208.21,214.43 C207.86,214.37 207.47,214.27 207.16,214.15 C206.85,214.02 206.59,213.86 206.34,213.66 C206.09,213.47 205.86,213.24 205.64,212.97 C205.43,212.70 205.23,212.40 205.05,212.07 C204.87,211.73 204.71,211.36 204.57,210.96 C204.42,210.56 204.30,210.13 204.19,209.67 C204.08,209.21 203.99,208.71 203.92,208.19 C203.85,207.67 203.79,207.13 203.76,206.55 C203.73,205.97 203.71,205.37 203.72,204.74 C203.72,204.11 203.74,203.46 203.79,202.77 C203.84,202.08 203.89,201.41 203.99,200.61 C204.08,199.81 204.21,198.91 204.36,197.97 C204.51,197.03 204.71,195.83 204.88,194.97 C205.04,194.11 205.19,193.48 205.35,192.80 C205.52,192.13 205.69,191.52 205.87,190.93 C206.05,190.34 206.24,189.80 206.44,189.28 C206.63,188.77 206.84,188.29 207.06,187.84 C207.27,187.40 207.49,186.98 207.72,186.61 C207.95,186.23 208.19,185.88 208.44,185.57 C208.69,185.26 208.94,184.99 209.20,184.75 C209.47,184.51 209.74,184.30 210.02,184.13 C210.30,183.96 210.58,183.83 210.88,183.74 C211.19,183.64 211.47,183.58 211.84,183.56 C212.20,183.55 212.68,183.59 213.09,183.65 C213.50,183.72 213.96,183.83 214.31,183.96 C214.65,184.08 214.90,184.23 215.16,184.41 C215.42,184.60 215.65,184.81 215.86,185.06 C216.08,185.30 216.27,185.58 216.45,185.89 C216.62,186.20 216.78,186.54 216.92,186.92 C217.06,187.29 217.18,187.69 217.28,188.12 C217.38,188.55 217.47,189.01 217.53,189.50 C217.60,189.99 217.65,190.51 217.68,191.06 C217.71,191.61 217.72,192.19 217.71,192.80 C217.70,193.42 217.67,194.05 217.62,194.75 C217.57,195.44 217.51,196.09 217.40,196.96 C217.29,197.83 217.12,199.03 216.97,199.97Z" fill="#c55454" fill-opacity="0.03" stroke="#c55454" stroke-width="0.45" stroke-opacity="0.95" clip-path="url(#cBR)"/><path d="M216.39,200.23 C216.25,201.09 216.11,201.92 215.96,202.65 C215.82,203.38 215.68,203.98 215.52,204.60 C215.36,205.22 215.20,205.79 215.02,206.35 C214.85,206.90 214.66,207.42 214.47,207.92 C214.28,208.41 214.07,208.88 213.86,209.31 C213.65,209.75 213.43,210.15 213.21,210.53 C212.98,210.90 212.75,211.24 212.51,211.55 C212.27,211.86 212.02,212.14 211.77,212.38 C211.52,212.62 211.26,212.83 210.99,213.00 C210.73,213.18 210.46,213.31 210.18,213.41 C209.91,213.51 209.64,213.58 209.33,213.60 C209.02,213.63 208.65,213.60 208.32,213.55 C207.99,213.50 207.64,213.41 207.35,213.29 C207.06,213.17 206.83,213.03 206.60,212.85 C206.37,212.66 206.15,212.45 205.96,212.21 C205.76,211.96 205.58,211.68 205.41,211.37 C205.25,211.07 205.10,210.73 204.96,210.36 C204.83,209.99 204.71,209.59 204.61,209.17 C204.52,208.74 204.43,208.29 204.37,207.81 C204.30,207.33 204.25,206.82 204.22,206.29 C204.19,205.76 204.18,205.21 204.18,204.63 C204.18,204.05 204.21,203.45 204.25,202.81 C204.29,202.18 204.34,201.56 204.43,200.82 C204.52,200.08 204.64,199.26 204.77,198.39 C204.91,197.52 205.10,196.42 205.25,195.63 C205.40,194.84 205.54,194.25 205.69,193.63 C205.84,193.01 206.00,192.45 206.16,191.91 C206.33,191.37 206.50,190.86 206.69,190.39 C206.87,189.92 207.06,189.47 207.26,189.06 C207.45,188.65 207.66,188.27 207.87,187.92 C208.08,187.58 208.30,187.26 208.53,186.97 C208.76,186.69 208.99,186.43 209.24,186.21 C209.48,185.99 209.73,185.80 209.98,185.64 C210.24,185.49 210.50,185.37 210.78,185.28 C211.06,185.19 211.32,185.13 211.66,185.12 C212.00,185.11 212.43,185.15 212.81,185.21 C213.19,185.27 213.62,185.37 213.94,185.48 C214.26,185.60 214.48,185.73 214.72,185.90 C214.96,186.07 215.17,186.27 215.37,186.50 C215.57,186.73 215.74,186.98 215.91,187.27 C216.07,187.55 216.21,187.87 216.34,188.21 C216.47,188.55 216.58,188.92 216.67,189.32 C216.77,189.72 216.85,190.14 216.91,190.59 C216.97,191.04 217.01,191.52 217.04,192.03 C217.07,192.54 217.08,193.07 217.07,193.63 C217.06,194.20 217.03,194.78 216.99,195.42 C216.94,196.06 216.89,196.66 216.79,197.46 C216.69,198.26 216.53,199.36 216.39,200.23Z" fill="#c14f4f" fill-opacity="0.03" stroke="#c14f4f" stroke-width="0.45" stroke-opacity="0.95" clip-path="url(#cBR)"/><path d="M215.81,200.49 C215.68,201.28 215.55,202.04 215.42,202.70 C215.28,203.37 215.15,203.92 215.01,204.49 C214.87,205.05 214.72,205.58 214.56,206.09 C214.40,206.59 214.23,207.07 214.05,207.52 C213.88,207.97 213.69,208.40 213.50,208.80 C213.31,209.19 213.11,209.57 212.90,209.91 C212.69,210.25 212.48,210.56 212.26,210.85 C212.04,211.13 211.81,211.38 211.58,211.60 C211.35,211.82 211.12,212.01 210.87,212.17 C210.63,212.33 210.39,212.46 210.13,212.55 C209.88,212.64 209.64,212.70 209.35,212.72 C209.07,212.74 208.73,212.72 208.43,212.67 C208.13,212.63 207.81,212.54 207.55,212.43 C207.28,212.33 207.07,212.19 206.86,212.03 C206.64,211.86 206.45,211.67 206.27,211.44 C206.09,211.22 205.92,210.96 205.77,210.68 C205.62,210.40 205.48,210.09 205.36,209.75 C205.24,209.42 205.13,209.05 205.04,208.66 C204.95,208.27 204.87,207.86 204.81,207.42 C204.75,206.98 204.71,206.52 204.68,206.04 C204.65,205.55 204.64,205.05 204.64,204.52 C204.65,203.99 204.67,203.44 204.71,202.86 C204.75,202.28 204.79,201.71 204.87,201.03 C204.95,200.36 205.06,199.60 205.19,198.81 C205.31,198.02 205.48,197.01 205.62,196.29 C205.76,195.56 205.88,195.03 206.02,194.46 C206.16,193.89 206.31,193.38 206.46,192.88 C206.61,192.39 206.77,191.93 206.94,191.50 C207.10,191.06 207.28,190.66 207.46,190.28 C207.64,189.91 207.83,189.56 208.02,189.24 C208.21,188.92 208.42,188.63 208.62,188.37 C208.83,188.11 209.05,187.88 209.27,187.68 C209.49,187.47 209.71,187.30 209.95,187.16 C210.19,187.02 210.43,186.90 210.68,186.82 C210.94,186.74 211.17,186.69 211.48,186.68 C211.79,186.67 212.19,186.70 212.54,186.76 C212.89,186.81 213.28,186.90 213.57,187.01 C213.86,187.12 214.07,187.24 214.28,187.39 C214.50,187.55 214.69,187.73 214.88,187.94 C215.06,188.15 215.22,188.38 215.37,188.64 C215.51,188.90 215.65,189.19 215.76,189.50 C215.88,189.81 215.98,190.15 216.07,190.52 C216.15,190.88 216.23,191.27 216.28,191.68 C216.34,192.09 216.38,192.53 216.40,193.00 C216.43,193.46 216.44,193.94 216.43,194.46 C216.42,194.98 216.40,195.51 216.35,196.10 C216.31,196.68 216.26,197.23 216.17,197.96 C216.08,198.69 215.93,199.70 215.81,200.49Z" fill="#be4a4a" fill-opacity="0.03" stroke="#be4a4a" stroke-width="0.45" stroke-opacity="0.95" clip-path="url(#cBR)"/><path d="M215.22,200.76 C215.11,201.47 214.99,202.16 214.87,202.76 C214.75,203.36 214.63,203.87 214.50,204.38 C214.37,204.89 214.24,205.37 214.09,205.82 C213.95,206.28 213.80,206.72 213.64,207.13 C213.48,207.53 213.31,207.92 213.13,208.28 C212.96,208.64 212.78,208.98 212.59,209.29 C212.40,209.60 212.21,209.88 212.01,210.14 C211.81,210.39 211.61,210.62 211.40,210.82 C211.19,211.02 210.97,211.20 210.75,211.34 C210.54,211.48 210.31,211.60 210.08,211.68 C209.85,211.76 209.63,211.82 209.38,211.84 C209.12,211.86 208.82,211.84 208.54,211.79 C208.27,211.75 207.98,211.67 207.74,211.58 C207.50,211.48 207.31,211.36 207.11,211.21 C206.92,211.06 206.74,210.88 206.58,210.68 C206.42,210.48 206.27,210.25 206.13,209.99 C205.99,209.74 205.87,209.45 205.76,209.15 C205.65,208.84 205.55,208.51 205.47,208.16 C205.39,207.81 205.32,207.43 205.26,207.04 C205.21,206.64 205.17,206.22 205.14,205.78 C205.12,205.34 205.11,204.88 205.11,204.40 C205.11,203.92 205.13,203.42 205.17,202.90 C205.20,202.37 205.25,201.86 205.32,201.25 C205.39,200.64 205.49,199.95 205.60,199.23 C205.71,198.51 205.87,197.60 206.00,196.94 C206.12,196.29 206.23,195.80 206.36,195.29 C206.49,194.77 206.62,194.31 206.75,193.86 C206.89,193.41 207.04,193.00 207.19,192.60 C207.34,192.21 207.49,191.84 207.66,191.50 C207.82,191.16 207.99,190.85 208.17,190.56 C208.34,190.27 208.53,190.01 208.71,189.77 C208.90,189.53 209.10,189.32 209.30,189.14 C209.50,188.96 209.70,188.80 209.92,188.67 C210.13,188.54 210.35,188.44 210.58,188.37 C210.81,188.30 211.03,188.25 211.31,188.24 C211.59,188.23 211.95,188.26 212.26,188.31 C212.58,188.36 212.93,188.44 213.19,188.54 C213.46,188.63 213.65,188.75 213.84,188.89 C214.04,189.03 214.22,189.19 214.38,189.38 C214.54,189.57 214.69,189.78 214.83,190.02 C214.96,190.25 215.08,190.51 215.19,190.80 C215.29,191.08 215.38,191.39 215.46,191.72 C215.54,192.04 215.60,192.40 215.65,192.77 C215.71,193.15 215.74,193.54 215.76,193.96 C215.79,194.38 215.79,194.82 215.79,195.29 C215.78,195.76 215.76,196.24 215.72,196.77 C215.68,197.30 215.64,197.79 215.55,198.46 C215.47,199.12 215.34,200.04 215.22,200.76Z" fill="#bb4545" fill-opacity="0.03" stroke="#bb4545" stroke-width="0.45" stroke-opacity="0.95" clip-path="url(#cBR)"/><path d="M214.64,201.02 C214.54,201.66 214.43,202.27 214.32,202.82 C214.22,203.36 214.11,203.81 214.00,204.27 C213.88,204.72 213.76,205.15 213.63,205.56 C213.50,205.97 213.36,206.36 213.22,206.73 C213.07,207.10 212.92,207.44 212.77,207.77 C212.61,208.09 212.45,208.39 212.28,208.67 C212.11,208.95 211.94,209.20 211.76,209.43 C211.58,209.66 211.40,209.87 211.21,210.05 C211.02,210.23 210.83,210.38 210.64,210.51 C210.44,210.64 210.24,210.74 210.03,210.81 C209.83,210.89 209.63,210.94 209.40,210.95 C209.17,210.97 208.90,210.95 208.65,210.92 C208.41,210.88 208.14,210.81 207.93,210.72 C207.72,210.63 207.54,210.53 207.37,210.39 C207.20,210.26 207.04,210.10 206.89,209.92 C206.75,209.73 206.61,209.53 206.49,209.30 C206.37,209.07 206.25,208.82 206.16,208.54 C206.06,208.27 205.97,207.97 205.90,207.66 C205.82,207.34 205.76,207.00 205.71,206.65 C205.66,206.29 205.63,205.92 205.60,205.52 C205.58,205.13 205.57,204.72 205.57,204.29 C205.58,203.86 205.59,203.41 205.62,202.94 C205.66,202.47 205.70,202.01 205.76,201.46 C205.83,200.91 205.91,200.30 206.01,199.65 C206.12,199.01 206.26,198.19 206.37,197.60 C206.48,197.01 206.58,196.58 206.69,196.12 C206.81,195.66 206.92,195.24 207.05,194.84 C207.17,194.43 207.30,194.06 207.44,193.71 C207.57,193.36 207.71,193.03 207.86,192.72 C208.01,192.42 208.16,192.14 208.32,191.88 C208.47,191.62 208.64,191.38 208.81,191.17 C208.98,190.96 209.15,190.77 209.33,190.61 C209.51,190.44 209.69,190.30 209.88,190.18 C210.08,190.07 210.27,189.98 210.48,189.91 C210.69,189.85 210.88,189.81 211.13,189.80 C211.38,189.79 211.71,189.81 211.99,189.86 C212.27,189.90 212.59,189.98 212.82,190.06 C213.06,190.15 213.23,190.25 213.41,190.38 C213.58,190.50 213.74,190.65 213.89,190.82 C214.03,190.99 214.16,191.18 214.28,191.39 C214.41,191.60 214.51,191.84 214.61,192.09 C214.70,192.34 214.79,192.62 214.86,192.91 C214.93,193.21 214.98,193.52 215.03,193.86 C215.07,194.20 215.11,194.55 215.13,194.93 C215.15,195.30 215.15,195.70 215.15,196.12 C215.14,196.54 215.12,196.97 215.09,197.45 C215.05,197.92 215.01,198.36 214.94,198.96 C214.86,199.55 214.74,200.38 214.64,201.02Z" fill="#b84040" fill-opacity="0.03" stroke="#b84040" stroke-width="0.45" stroke-opacity="0.95" clip-path="url(#cBR)"/><path d="M214.06,201.28 C213.97,201.85 213.87,202.39 213.78,202.87 C213.68,203.35 213.59,203.75 213.49,204.15 C213.39,204.56 213.28,204.94 213.16,205.30 C213.05,205.67 212.93,206.01 212.80,206.33 C212.67,206.66 212.54,206.97 212.40,207.25 C212.26,207.54 212.12,207.80 211.97,208.05 C211.82,208.29 211.67,208.52 211.51,208.72 C211.35,208.93 211.19,209.11 211.02,209.27 C210.86,209.43 210.69,209.56 210.52,209.68 C210.34,209.79 210.17,209.88 209.98,209.95 C209.80,210.01 209.63,210.06 209.42,210.07 C209.22,210.09 208.98,210.07 208.76,210.04 C208.55,210.00 208.31,209.94 208.12,209.86 C207.93,209.79 207.78,209.69 207.63,209.57 C207.47,209.45 207.33,209.31 207.20,209.15 C207.07,208.99 206.96,208.81 206.85,208.61 C206.74,208.40 206.64,208.18 206.55,207.94 C206.47,207.70 206.39,207.43 206.32,207.15 C206.26,206.88 206.20,206.58 206.16,206.26 C206.12,205.95 206.09,205.62 206.06,205.27 C206.04,204.92 206.04,204.55 206.04,204.17 C206.04,203.79 206.06,203.40 206.08,202.98 C206.11,202.56 206.15,202.16 206.20,201.67 C206.26,201.19 206.34,200.64 206.43,200.07 C206.52,199.50 206.64,198.78 206.74,198.26 C206.84,197.74 206.93,197.35 207.03,196.95 C207.13,196.54 207.23,196.17 207.34,195.81 C207.45,195.46 207.57,195.13 207.69,194.82 C207.81,194.50 207.93,194.21 208.06,193.94 C208.19,193.67 208.32,193.42 208.46,193.20 C208.60,192.97 208.75,192.76 208.90,192.57 C209.05,192.38 209.20,192.22 209.36,192.07 C209.52,191.92 209.68,191.80 209.85,191.70 C210.02,191.60 210.19,191.52 210.38,191.46 C210.56,191.40 210.73,191.36 210.95,191.35 C211.18,191.35 211.46,191.37 211.71,191.41 C211.96,191.45 212.24,191.52 212.45,191.59 C212.66,191.67 212.81,191.76 212.97,191.87 C213.12,191.98 213.26,192.11 213.39,192.26 C213.52,192.41 213.64,192.58 213.74,192.76 C213.85,192.95 213.95,193.16 214.03,193.38 C214.11,193.61 214.19,193.85 214.25,194.11 C214.31,194.37 214.36,194.65 214.40,194.95 C214.44,195.25 214.47,195.56 214.49,195.89 C214.51,196.23 214.51,196.58 214.51,196.95 C214.50,197.32 214.48,197.70 214.45,198.12 C214.42,198.54 214.39,198.93 214.32,199.46 C214.26,199.99 214.15,200.71 214.06,201.28Z" fill="#b53b3b" fill-opacity="0.03" stroke="#b53b3b" stroke-width="0.45" stroke-opacity="0.95" clip-path="url(#cBR)"/><path d="M213.48,201.55 C213.40,202.04 213.32,202.51 213.23,202.93 C213.15,203.34 213.07,203.69 212.98,204.04 C212.89,204.39 212.80,204.72 212.70,205.04 C212.60,205.36 212.49,205.66 212.38,205.94 C212.27,206.22 212.16,206.49 212.04,206.74 C211.92,206.98 211.79,207.22 211.66,207.43 C211.53,207.64 211.40,207.84 211.26,208.02 C211.12,208.19 210.98,208.35 210.84,208.49 C210.69,208.63 210.55,208.75 210.40,208.85 C210.25,208.94 210.09,209.02 209.93,209.08 C209.78,209.14 209.62,209.17 209.45,209.19 C209.27,209.20 209.06,209.19 208.87,209.16 C208.68,209.13 208.48,209.08 208.32,209.01 C208.15,208.94 208.02,208.86 207.88,208.75 C207.75,208.65 207.63,208.53 207.52,208.39 C207.40,208.25 207.30,208.09 207.21,207.91 C207.11,207.74 207.03,207.54 206.95,207.33 C206.87,207.12 206.81,206.89 206.75,206.65 C206.69,206.41 206.65,206.15 206.61,205.88 C206.57,205.60 206.54,205.31 206.53,205.01 C206.51,204.71 206.50,204.39 206.50,204.06 C206.51,203.73 206.52,203.39 206.54,203.02 C206.57,202.66 206.60,202.31 206.65,201.88 C206.70,201.46 206.76,200.99 206.84,200.49 C206.92,200.00 207.03,199.37 207.11,198.92 C207.20,198.46 207.28,198.13 207.37,197.78 C207.45,197.42 207.54,197.10 207.64,196.79 C207.73,196.48 207.83,196.19 207.94,195.92 C208.04,195.65 208.15,195.40 208.26,195.16 C208.37,194.93 208.49,194.71 208.61,194.51 C208.73,194.31 208.86,194.13 208.99,193.97 C209.12,193.81 209.25,193.66 209.39,193.53 C209.53,193.41 209.67,193.30 209.82,193.21 C209.97,193.12 210.12,193.05 210.28,193.00 C210.44,192.95 210.58,192.92 210.78,192.91 C210.97,192.91 211.22,192.93 211.44,192.96 C211.65,192.99 211.90,193.05 212.08,193.12 C212.26,193.19 212.39,193.26 212.53,193.36 C212.66,193.46 212.78,193.57 212.90,193.70 C213.01,193.83 213.11,193.98 213.20,194.14 C213.30,194.30 213.38,194.48 213.45,194.68 C213.52,194.87 213.59,195.08 213.64,195.31 C213.70,195.54 213.74,195.78 213.78,196.04 C213.81,196.30 213.84,196.57 213.85,196.86 C213.87,197.15 213.87,197.45 213.87,197.78 C213.86,198.10 213.85,198.43 213.82,198.80 C213.79,199.16 213.76,199.50 213.71,199.96 C213.65,200.42 213.56,201.05 213.48,201.55Z" fill="#b13636" fill-opacity="0.03" stroke="#b13636" stroke-width="0.45" stroke-opacity="0.95" clip-path="url(#cBR)"/><path d="M212.90,201.81 C212.83,202.23 212.76,202.63 212.69,202.98 C212.62,203.34 212.55,203.63 212.47,203.93 C212.40,204.23 212.32,204.51 212.23,204.78 C212.15,205.05 212.06,205.30 211.97,205.54 C211.87,205.78 211.77,206.01 211.67,206.22 C211.57,206.43 211.46,206.63 211.35,206.81 C211.24,206.99 211.13,207.16 211.01,207.31 C210.90,207.46 210.78,207.59 210.65,207.71 C210.53,207.83 210.41,207.93 210.28,208.01 C210.15,208.10 210.02,208.16 209.88,208.21 C209.75,208.26 209.62,208.29 209.47,208.30 C209.32,208.32 209.14,208.31 208.98,208.28 C208.82,208.25 208.65,208.21 208.51,208.15 C208.37,208.09 208.26,208.02 208.14,207.94 C208.03,207.85 207.93,207.74 207.83,207.63 C207.73,207.51 207.65,207.37 207.57,207.22 C207.49,207.07 207.41,206.91 207.35,206.73 C207.28,206.55 207.23,206.36 207.18,206.15 C207.13,205.94 207.09,205.72 207.06,205.49 C207.03,205.26 207.00,205.01 206.99,204.75 C206.97,204.50 206.97,204.23 206.97,203.95 C206.97,203.66 206.98,203.37 207.00,203.06 C207.02,202.76 207.05,202.45 207.09,202.10 C207.13,201.74 207.19,201.34 207.26,200.92 C207.32,200.49 207.41,199.96 207.49,199.57 C207.56,199.19 207.63,198.91 207.70,198.60 C207.77,198.30 207.85,198.03 207.93,197.77 C208.01,197.50 208.10,197.26 208.18,197.03 C208.27,196.80 208.37,196.58 208.46,196.39 C208.56,196.19 208.66,196.00 208.76,195.83 C208.86,195.66 208.97,195.51 209.08,195.37 C209.19,195.23 209.31,195.11 209.42,195.00 C209.54,194.89 209.66,194.80 209.79,194.72 C209.91,194.65 210.04,194.59 210.17,194.55 C210.31,194.50 210.44,194.48 210.60,194.47 C210.76,194.46 210.98,194.48 211.16,194.51 C211.35,194.54 211.55,194.59 211.71,194.65 C211.86,194.70 211.97,194.77 212.09,194.85 C212.20,194.93 212.31,195.03 212.40,195.14 C212.50,195.25 212.58,195.37 212.66,195.51 C212.74,195.65 212.81,195.80 212.87,195.97 C212.94,196.14 212.99,196.32 213.04,196.51 C213.08,196.70 213.12,196.91 213.15,197.13 C213.18,197.35 213.20,197.58 213.21,197.83 C213.23,198.07 213.23,198.33 213.23,198.60 C213.22,198.88 213.21,199.16 213.19,199.47 C213.16,199.78 213.14,200.07 213.09,200.46 C213.04,200.85 212.96,201.39 212.90,201.81Z" fill="#ae3131" fill-opacity="0.03" stroke="#ae3131" stroke-width="0.45" stroke-opacity="0.95" clip-path="url(#cBR)"/><path d="M212.32,202.07 C212.26,202.42 212.20,202.75 212.14,203.04 C212.09,203.33 212.03,203.57 211.97,203.82 C211.90,204.07 211.84,204.30 211.77,204.52 C211.70,204.74 211.63,204.95 211.55,205.15 C211.47,205.34 211.39,205.53 211.31,205.70 C211.22,205.88 211.13,206.04 211.04,206.19 C210.95,206.34 210.86,206.48 210.76,206.60 C210.67,206.72 210.57,206.84 210.47,206.93 C210.37,207.03 210.26,207.11 210.16,207.18 C210.05,207.25 209.94,207.31 209.83,207.35 C209.72,207.39 209.62,207.41 209.49,207.42 C209.37,207.43 209.22,207.42 209.09,207.40 C208.96,207.38 208.82,207.34 208.70,207.30 C208.59,207.25 208.49,207.19 208.40,207.12 C208.31,207.05 208.22,206.96 208.14,206.86 C208.06,206.76 207.99,206.65 207.92,206.53 C207.86,206.41 207.80,206.27 207.75,206.12 C207.69,205.98 207.65,205.82 207.61,205.65 C207.57,205.48 207.53,205.29 207.51,205.10 C207.48,204.91 207.46,204.71 207.45,204.50 C207.44,204.29 207.43,204.06 207.43,203.83 C207.43,203.60 207.44,203.36 207.46,203.11 C207.48,202.85 207.50,202.60 207.53,202.31 C207.57,202.01 207.61,201.68 207.67,201.34 C207.72,200.99 207.80,200.55 207.86,200.23 C207.92,199.91 207.97,199.68 208.04,199.43 C208.10,199.18 208.16,198.96 208.23,198.74 C208.29,198.53 208.36,198.33 208.43,198.14 C208.51,197.95 208.58,197.77 208.66,197.61 C208.74,197.44 208.82,197.29 208.91,197.15 C208.99,197.01 209.08,196.88 209.17,196.77 C209.26,196.65 209.36,196.55 209.45,196.46 C209.55,196.38 209.65,196.30 209.75,196.24 C209.86,196.18 209.96,196.13 210.07,196.09 C210.18,196.06 210.29,196.03 210.42,196.03 C210.56,196.02 210.73,196.04 210.89,196.06 C211.04,196.09 211.21,196.13 211.34,196.17 C211.46,196.22 211.55,196.27 211.65,196.34 C211.74,196.41 211.83,196.49 211.91,196.58 C211.99,196.67 212.06,196.77 212.12,196.89 C212.19,197.00 212.25,197.13 212.30,197.26 C212.35,197.40 212.39,197.55 212.43,197.71 C212.47,197.87 212.50,198.04 212.52,198.22 C212.55,198.40 212.57,198.59 212.58,198.79 C212.59,198.99 212.59,199.21 212.59,199.43 C212.58,199.66 212.57,199.89 212.55,200.15 C212.54,200.40 212.51,200.64 212.47,200.96 C212.43,201.28 212.37,201.73 212.32,202.07Z" fill="#ab2c2c" fill-opacity="0.03" stroke="#ab2c2c" stroke-width="0.45" stroke-opacity="0.95" clip-path="url(#cBR)"/><path d="M211.73,202.34 C211.69,202.61 211.64,202.87 211.60,203.09 C211.55,203.32 211.51,203.51 211.46,203.71 C211.41,203.90 211.36,204.08 211.30,204.26 C211.25,204.43 211.19,204.60 211.13,204.75 C211.07,204.91 211.01,205.05 210.94,205.19 C210.87,205.33 210.80,205.45 210.73,205.57 C210.66,205.69 210.59,205.80 210.51,205.89 C210.44,205.99 210.36,206.08 210.28,206.15 C210.20,206.23 210.12,206.30 210.04,206.35 C209.95,206.40 209.87,206.45 209.78,206.48 C209.70,206.51 209.61,206.53 209.52,206.54 C209.42,206.55 209.30,206.54 209.20,206.52 C209.10,206.51 208.98,206.48 208.89,206.44 C208.80,206.40 208.73,206.36 208.66,206.30 C208.58,206.24 208.52,206.18 208.45,206.10 C208.39,206.02 208.34,205.93 208.28,205.84 C208.23,205.74 208.18,205.63 208.14,205.52 C208.10,205.40 208.06,205.28 208.03,205.14 C208.00,205.01 207.98,204.87 207.96,204.72 C207.93,204.57 207.92,204.41 207.91,204.24 C207.90,204.07 207.90,203.90 207.90,203.72 C207.90,203.54 207.90,203.35 207.92,203.15 C207.93,202.95 207.95,202.75 207.98,202.52 C208.00,202.29 208.04,202.03 208.08,201.76 C208.13,201.48 208.18,201.14 208.23,200.89 C208.28,200.64 208.32,200.46 208.37,200.26 C208.42,200.07 208.47,199.89 208.52,199.72 C208.57,199.55 208.63,199.39 208.68,199.24 C208.74,199.09 208.80,198.95 208.86,198.83 C208.93,198.70 208.99,198.58 209.06,198.47 C209.12,198.36 209.19,198.26 209.26,198.17 C209.34,198.08 209.41,198.00 209.49,197.93 C209.56,197.86 209.64,197.80 209.72,197.75 C209.80,197.70 209.88,197.66 209.97,197.64 C210.06,197.61 210.14,197.59 210.25,197.59 C210.35,197.58 210.49,197.59 210.61,197.61 C210.73,197.63 210.86,197.66 210.96,197.70 C211.06,197.74 211.13,197.78 211.21,197.83 C211.28,197.89 211.35,197.95 211.41,198.02 C211.48,198.09 211.53,198.17 211.58,198.26 C211.63,198.35 211.68,198.45 211.72,198.56 C211.76,198.66 211.79,198.78 211.82,198.91 C211.85,199.03 211.88,199.16 211.90,199.31 C211.92,199.45 211.93,199.60 211.94,199.76 C211.95,199.92 211.95,200.08 211.95,200.26 C211.94,200.44 211.94,200.62 211.92,200.82 C211.91,201.02 211.89,201.21 211.86,201.46 C211.83,201.72 211.78,202.06 211.73,202.34Z" fill="#a82727" fill-opacity="0.03" stroke="#a82727" stroke-width="0.45" stroke-opacity="0.95" clip-path="url(#cBR)"/><path d="M211.15,202.60 C211.12,202.80 211.09,202.98 211.05,203.15 C211.02,203.32 210.99,203.46 210.95,203.60 C210.92,203.74 210.88,203.87 210.84,204.00 C210.80,204.12 210.76,204.24 210.71,204.36 C210.67,204.47 210.62,204.57 210.57,204.67 C210.53,204.77 210.48,204.87 210.42,204.95 C210.37,205.04 210.32,205.12 210.26,205.19 C210.21,205.26 210.15,205.32 210.10,205.38 C210.04,205.43 209.98,205.48 209.92,205.52 C209.86,205.56 209.80,205.59 209.73,205.61 C209.67,205.63 209.61,205.65 209.54,205.65 C209.47,205.66 209.38,205.66 209.31,205.64 C209.23,205.63 209.15,205.61 209.09,205.58 C209.02,205.56 208.97,205.52 208.91,205.48 C208.86,205.44 208.81,205.39 208.77,205.34 C208.72,205.28 208.68,205.22 208.64,205.15 C208.60,205.08 208.57,205.00 208.54,204.91 C208.51,204.83 208.48,204.74 208.46,204.64 C208.44,204.54 208.42,204.44 208.40,204.33 C208.39,204.22 208.38,204.11 208.37,203.98 C208.36,203.86 208.36,203.74 208.36,203.60 C208.36,203.47 208.37,203.33 208.38,203.19 C208.39,203.04 208.40,202.90 208.42,202.73 C208.44,202.56 208.47,202.38 208.50,202.18 C208.53,201.98 208.57,201.73 208.61,201.55 C208.64,201.37 208.67,201.23 208.71,201.09 C208.74,200.95 208.78,200.82 208.81,200.70 C208.85,200.57 208.89,200.46 208.93,200.35 C208.98,200.24 209.02,200.14 209.06,200.05 C209.11,199.95 209.16,199.87 209.20,199.79 C209.25,199.71 209.30,199.63 209.36,199.57 C209.41,199.50 209.46,199.44 209.52,199.39 C209.57,199.34 209.63,199.30 209.69,199.26 C209.75,199.23 209.81,199.20 209.87,199.18 C209.93,199.16 209.99,199.15 210.07,199.15 C210.15,199.14 210.25,199.15 210.33,199.16 C210.42,199.18 210.52,199.20 210.59,199.23 C210.66,199.25 210.72,199.29 210.77,199.32 C210.83,199.36 210.87,199.41 210.92,199.46 C210.96,199.51 211.00,199.57 211.04,199.64 C211.08,199.70 211.11,199.77 211.14,199.85 C211.17,199.93 211.20,200.01 211.22,200.10 C211.24,200.19 211.26,200.29 211.27,200.40 C211.28,200.50 211.29,200.61 211.30,200.72 C211.31,200.84 211.31,200.96 211.31,201.09 C211.30,201.22 211.30,201.35 211.29,201.50 C211.28,201.64 211.27,201.78 211.24,201.96 C211.22,202.15 211.18,202.40 211.15,202.60Z" fill="#a52222" fill-opacity="0.03" stroke="#a52222" stroke-width="0.45" stroke-opacity="0.95" clip-path="url(#cBR)"/><circle cx="209.6" cy="203.4" r="1.3" fill="#fff" opacity="0.9"/><path d="M214.00,203.00 C213.83,200.50 214.83,194.00 216.00,190.00 C217.17,186.00 219.17,181.75 221.00,179.00 C222.83,176.25 225.00,174.62 227.00,173.50 C229.00,172.38 231.20,171.97 233.00,172.30 C234.80,172.63 237.22,174.05 237.80,175.50 C238.38,176.95 237.80,178.75 236.50,181.00 C235.20,183.25 232.42,186.17 230.00,189.00 C227.58,191.83 224.17,195.33 222.00,198.00 C219.83,200.67 218.33,204.17 217.00,205.00 C215.67,205.83 214.17,205.50 214.00,203.00Z" fill="#d65e5e" fill-opacity="0.01" stroke="#d65e5e" stroke-width="0.45" stroke-opacity="0.95" clip-path="url(#fBR)"/><path d="M214.32,202.79 C214.17,200.55 215.06,194.74 216.11,191.17 C217.15,187.59 218.94,183.80 220.57,181.34 C222.21,178.88 224.15,177.42 225.94,176.42 C227.72,175.42 229.69,175.05 231.30,175.35 C232.91,175.65 235.07,176.91 235.59,178.21 C236.11,179.51 235.59,181.11 234.43,183.12 C233.27,185.14 230.78,187.74 228.62,190.28 C226.46,192.81 223.41,195.94 221.47,198.32 C219.53,200.70 218.19,203.83 217.00,204.57 C215.81,205.32 214.47,205.02 214.32,202.79Z" fill="#d15858" fill-opacity="0.01" stroke="#d15858" stroke-width="0.45" stroke-opacity="0.95" clip-path="url(#fBR)"/><path d="M214.64,202.57 C214.51,200.61 215.29,195.49 216.21,192.34 C217.13,189.19 218.71,185.84 220.15,183.68 C221.59,181.51 223.30,180.22 224.88,179.34 C226.45,178.46 228.18,178.14 229.60,178.40 C231.02,178.66 232.92,179.78 233.38,180.92 C233.84,182.06 233.38,183.48 232.36,185.25 C231.33,187.02 229.14,189.32 227.24,191.55 C225.33,193.78 222.64,196.54 220.94,198.64 C219.23,200.74 218.05,203.49 217.00,204.15 C215.95,204.81 214.77,204.54 214.64,202.57Z" fill="#cd5353" fill-opacity="0.01" stroke="#cd5353" stroke-width="0.45" stroke-opacity="0.95" clip-path="url(#fBR)"/><path d="M214.96,202.36 C214.84,200.66 215.52,196.23 216.32,193.51 C217.11,190.78 218.48,187.89 219.72,186.01 C220.97,184.14 222.45,183.03 223.81,182.27 C225.18,181.50 226.67,181.22 227.90,181.45 C229.13,181.68 230.77,182.64 231.17,183.63 C231.57,184.62 231.17,185.84 230.28,187.38 C229.40,188.91 227.50,190.89 225.86,192.82 C224.21,194.76 221.88,197.14 220.41,198.96 C218.93,200.77 217.91,203.16 217.00,203.72 C216.09,204.29 215.07,204.07 214.96,202.36Z" fill="#c94d4d" fill-opacity="0.01" stroke="#c94d4d" stroke-width="0.45" stroke-opacity="0.95" clip-path="url(#fBR)"/><path d="M215.28,202.15 C215.18,200.71 215.75,196.98 216.43,194.68 C217.10,192.38 218.25,189.93 219.30,188.35 C220.35,186.77 221.60,185.83 222.75,185.19 C223.90,184.55 225.16,184.31 226.20,184.50 C227.23,184.69 228.62,185.50 228.96,186.34 C229.30,187.17 228.96,188.21 228.21,189.50 C227.47,190.79 225.86,192.47 224.47,194.10 C223.09,195.73 221.12,197.74 219.88,199.28 C218.63,200.81 217.77,202.82 217.00,203.30 C216.23,203.78 215.37,203.59 215.28,202.15Z" fill="#c44848" fill-opacity="0.01" stroke="#c44848" stroke-width="0.45" stroke-opacity="0.95" clip-path="url(#fBR)"/><path d="M215.59,201.94 C215.52,200.77 215.98,197.72 216.53,195.84 C217.08,193.97 218.02,191.98 218.88,190.69 C219.73,189.40 220.75,188.63 221.69,188.11 C222.62,187.59 223.66,187.39 224.50,187.55 C225.34,187.70 226.48,188.37 226.75,189.05 C227.02,189.73 226.75,190.57 226.14,191.62 C225.53,192.68 224.23,194.05 223.09,195.38 C221.96,196.70 220.36,198.34 219.34,199.59 C218.33,200.84 217.62,202.48 217.00,202.88 C216.38,203.27 215.67,203.11 215.59,201.94Z" fill="#c04242" fill-opacity="0.01" stroke="#c04242" stroke-width="0.45" stroke-opacity="0.95" clip-path="url(#fBR)"/><path d="M215.91,201.72 C215.85,200.82 216.21,198.46 216.64,197.01 C217.06,195.56 217.79,194.02 218.45,193.03 C219.11,192.03 219.90,191.44 220.62,191.03 C221.35,190.63 222.15,190.48 222.80,190.60 C223.45,190.72 224.33,191.23 224.54,191.76 C224.75,192.28 224.54,192.93 224.07,193.75 C223.60,194.57 222.59,195.62 221.71,196.65 C220.84,197.68 219.60,198.95 218.81,199.91 C218.03,200.88 217.48,202.15 217.00,202.45 C216.52,202.75 215.97,202.63 215.91,201.72Z" fill="#bc3d3d" fill-opacity="0.01" stroke="#bc3d3d" stroke-width="0.45" stroke-opacity="0.95" clip-path="url(#fBR)"/><path d="M216.23,201.51 C216.19,200.87 216.44,199.21 216.74,198.18 C217.04,197.16 217.56,196.07 218.03,195.36 C218.49,194.66 219.05,194.24 219.56,193.95 C220.07,193.67 220.64,193.56 221.10,193.65 C221.56,193.73 222.18,194.09 222.33,194.47 C222.48,194.84 222.33,195.30 222.00,195.88 C221.66,196.45 220.95,197.20 220.33,197.93 C219.71,198.65 218.84,199.55 218.28,200.23 C217.73,200.91 217.34,201.81 217.00,202.03 C216.66,202.24 216.27,202.15 216.23,201.51Z" fill="#b83838" fill-opacity="0.01" stroke="#b83838" stroke-width="0.45" stroke-opacity="0.95" clip-path="url(#fBR)"/><circle cx="208.00" cy="223.00" r="0.5" fill="#e08080" opacity="1"/><circle cx="207.00" cy="234.00" r="0.5" fill="#e08080" opacity="1"/><circle cx="208.00" cy="241.00" r="0.5" fill="#e08080" opacity="1"/><circle cx="207.00" cy="246.00" r="0.5" fill="#e08080" opacity="1"/><circle cx="205.00" cy="250.00" r="0.5" fill="#e08080" opacity="1"/><circle cx="209.00" cy="220.00" r="0.5" fill="#e08080" opacity="1"/><circle cx="224.00" cy="196.00" r="0.5" fill="#e08080" opacity="1"/><circle cx="227.00" cy="193.00" r="0.5" fill="#e08080" opacity="1"/><circle cx="230.00" cy="191.00" r="0.5" fill="#e08080" opacity="1"/><circle cx="233.00" cy="189.00" r="0.5" fill="#e08080" opacity="1"/><circle cx="235.00" cy="193.00" r="0.5" fill="#e08080" opacity="1"/><circle cx="229.00" cy="197.00" r="0.5" fill="#e08080" opacity="1"/><circle cx="222.00" cy="199.00" r="0.5" fill="#e08080" opacity="1"/><line x1="189.50" y1="163.00" x2="189.50" y2="270.40" stroke="#8a8a8a" stroke-width="1.0"/><line x1="217.50" y1="163.00" x2="217.50" y2="270.40" stroke="#333" stroke-width="1.0"/><line x1="189.50" y1="218.40" x2="217.50" y2="218.40" stroke="#333" stroke-width="1.2"/><path d="M217.50,164.50 H278.50 V202.50 H217.50" fill="none" stroke="#4a4a4a" stroke-width="1.0"/><path d="M185.30,270.40 V162.40 H293.30 V270.40 H185.30" fill="none" stroke="#222" stroke-width="1.4"/><rect x="189.00" y="168.80" width="15.80" height="9.00" fill="#fff" stroke="none" stroke-width="0"/><rect x="203.20" y="256.30" width="15.20" height="9.00" fill="#fff" stroke="none" stroke-width="0"/><text x="168.05" y="181.13" font-size="7.45" fill="#333" stroke="#333" stroke-width="0.15" textLength="8.03" lengthAdjust="spacingAndGlyphs" >10</text><text x="176.50" y="178.15" font-size="5.52" fill="#333" stroke="#333" stroke-width="0.15" textLength="2.82" lengthAdjust="spacingAndGlyphs" >5</text><text x="168.05" y="200.13" font-size="7.45" fill="#333" stroke="#333" stroke-width="0.15" textLength="8.03" lengthAdjust="spacingAndGlyphs" >10</text><text x="176.59" y="197.20" font-size="5.52" fill="#333" stroke="#333" stroke-width="0.15" textLength="2.65" lengthAdjust="spacingAndGlyphs" >4</text><text x="168.05" y="221.83" font-size="7.45" fill="#333" stroke="#333" stroke-width="0.15" textLength="8.03" lengthAdjust="spacingAndGlyphs" >10</text><text x="176.51" y="218.85" font-size="5.44" fill="#333" stroke="#333" stroke-width="0.15" textLength="2.82" lengthAdjust="spacingAndGlyphs" >3</text><text x="171.56" y="237.32" font-size="8.02" fill="#333" stroke="#333" stroke-width="0.15" textLength="4.77" lengthAdjust="spacingAndGlyphs" >0</text><text x="165.57" y="251.54" font-size="6.59" fill="#333" stroke="#333" stroke-width="0.15" textLength="10.72" lengthAdjust="spacingAndGlyphs" >-10</text><text x="176.52" y="248.85" font-size="4.87" fill="#333" stroke="#333" stroke-width="0.15" textLength="2.58" lengthAdjust="spacingAndGlyphs" >3</text><text x="190.30" y="281.20" font-size="7.6" fill="#2a2a2a" stroke="#2a2a2a" stroke-width="0.18" text-anchor="end" transform="rotate(-45 190.30 281.20)">0</text><text x="210.68" y="281.20" font-size="7.6" fill="#2a2a2a" stroke="#2a2a2a" stroke-width="0.18" text-anchor="end" transform="rotate(-45 210.68 281.20)">50K</text><text x="231.06" y="281.20" font-size="7.6" fill="#2a2a2a" stroke="#2a2a2a" stroke-width="0.18" text-anchor="end" transform="rotate(-45 231.06 281.20)">100K</text><text x="251.44" y="281.20" font-size="7.6" fill="#2a2a2a" stroke="#2a2a2a" stroke-width="0.18" text-anchor="end" transform="rotate(-45 251.44 281.20)">150K</text><text x="271.82" y="281.20" font-size="7.6" fill="#2a2a2a" stroke="#2a2a2a" stroke-width="0.18" text-anchor="end" transform="rotate(-45 271.82 281.20)">200K</text><text x="292.20" y="281.20" font-size="7.6" fill="#2a2a2a" stroke="#2a2a2a" stroke-width="0.18" text-anchor="end" transform="rotate(-45 292.20 281.20)">250K</text><text x="189.59" y="175.52" font-size="7.96" fill="#625aa4" stroke="#625aa4" stroke-width="0.2" textLength="14.72" lengthAdjust="spacingAndGlyphs" >80.6</text><text x="259.27" y="192.53" font-size="7.68" fill="#625aa4" stroke="#625aa4" stroke-width="0.2" textLength="14.09" lengthAdjust="spacingAndGlyphs" >17.0</text><text x="203.63" y="262.83" font-size="7.68" fill="#625aa4" stroke="#625aa4" stroke-width="0.2" textLength="14.32" lengthAdjust="spacingAndGlyphs" >0.82</text><text x="249.50" y="264.92" font-size="7.95" fill="#c95f3e" stroke="#c95f3e" stroke-width="0.2" textLength="12.46" lengthAdjust="spacingAndGlyphs" >+/+</text><text x="263.65" y="264.80" font-size="8.08" fill="#c95f3e" stroke="#c95f3e" stroke-width="0.2" textLength="21.09" lengthAdjust="spacingAndGlyphs" >INKA1</text><text x="197.20" y="195.91" font-size="8.97" fill="#625aa4" stroke="#625aa4" stroke-width="0.08" textLength="6.51" lengthAdjust="spacingAndGlyphs" >G</text><text x="202.95" y="198.00" font-size="6.69" fill="#625aa4" stroke="#625aa4" stroke-width="0.1" textLength="2.58" lengthAdjust="spacingAndGlyphs" >1</text><text x="197.17" y="250.22" font-size="7.96" fill="#625aa4" stroke="#625aa4" stroke-width="0.08" textLength="6.98" lengthAdjust="spacingAndGlyphs" >G</text><text x="202.75" y="252.94" font-size="6.02" fill="#625aa4" stroke="#625aa4" stroke-width="0.1" textLength="3.49" lengthAdjust="spacingAndGlyphs" >0</text><text x="248.00" y="177.53" font-size="7.12" fill="#625aa4" stroke="#625aa4" stroke-width="0.2" textLength="12.00" lengthAdjust="spacingAndGlyphs" >S/G</text><text x="259.21" y="180.00" font-size="6.02" fill="#625aa4" stroke="#625aa4" stroke-width="0.1" textLength="3.17" lengthAdjust="spacingAndGlyphs" >2</text><text x="262.12" y="177.53" font-size="7.12" fill="#625aa4" stroke="#625aa4" stroke-width="0.2" textLength="11.40" lengthAdjust="spacingAndGlyphs" >/M</text><text x="8.63" y="16.55" font-size="11.19" fill="#1a1a1a" stroke="#1a1a1a" stroke-width="0.15" textLength="6.49" lengthAdjust="spacingAndGlyphs" >A</text><text x="306.91" y="16.40" font-size="11.05" fill="#1a1a1a" stroke="#1a1a1a" stroke-width="0.15" textLength="6.39" lengthAdjust="spacingAndGlyphs" >B</text><text x="306.92" y="173.70" font-size="10.45" fill="#1a1a1a" stroke="#1a1a1a" stroke-width="0.15" textLength="6.84" lengthAdjust="spacingAndGlyphs" >C</text><text x="415.40" y="173.80" font-size="10.61" fill="#1a1a1a" stroke="#1a1a1a" stroke-width="0.15" textLength="7.93" lengthAdjust="spacingAndGlyphs" >D</text><line x1="21.10" y1="261.00" x2="21.10" y2="301.50" stroke="#4a4a4a" stroke-width="1.1"/><line x1="20.55" y1="301.00" x2="55.00" y2="301.00" stroke="#4a4a4a" stroke-width="1.1"/><path d="M21,254.3 L24.6,262.6 L21,260.8 L17.4,262.6 Z" fill="#111"/><path d="M62.2,301.0 L53.9,297.4 L55.7,301.0 L53.9,304.6 Z" fill="#111"/><text x="-288.70" y="15.71" font-size="9.52" fill="#222" stroke="#222" stroke-width="0.2" textLength="17.03" lengthAdjust="spacingAndGlyphs" transform="rotate(-90)" >Ki67</text><text x="23.50" y="313.91" font-size="9.11" fill="#222" stroke="#222" stroke-width="0.2" textLength="33.62" lengthAdjust="spacingAndGlyphs" >Hoechst</text><rect x="348.10" y="136.21" width="16.30" height="2.59" fill="#5a4889" stroke="#4a3a75" stroke-width="0.6"/><line x1="356.10" y1="134.34" x2="356.10" y2="136.21" stroke="#222" stroke-width="0.9"/><line x1="352.10" y1="134.34" x2="360.10" y2="134.34" stroke="#222" stroke-width="0.9"/><rect x="370.20" y="127.75" width="16.40" height="11.05" fill="#c65a3a" stroke="#b04a2e" stroke-width="0.6"/><line x1="378.40" y1="126.60" x2="378.40" y2="127.75" stroke="#222" stroke-width="0.9"/><line x1="374.40" y1="126.60" x2="382.40" y2="126.60" stroke="#222" stroke-width="0.9"/><rect x="407.40" y="47.66" width="16.30" height="91.14" fill="#5a4889" stroke="#4a3a75" stroke-width="0.6"/><line x1="415.40" y1="46.83" x2="415.40" y2="47.66" stroke="#222" stroke-width="0.9"/><line x1="411.40" y1="46.83" x2="419.40" y2="46.83" stroke="#222" stroke-width="0.9"/><rect x="429.50" y="55.14" width="16.40" height="83.66" fill="#c65a3a" stroke="#b04a2e" stroke-width="0.6"/><line x1="437.70" y1="52.96" x2="437.70" y2="55.14" stroke="#222" stroke-width="0.9"/><line x1="433.70" y1="52.96" x2="441.70" y2="52.96" stroke="#222" stroke-width="0.9"/><rect x="467.40" y="130.18" width="16.30" height="8.62" fill="#5a4889" stroke="#4a3a75" stroke-width="0.6"/><line x1="475.40" y1="129.46" x2="475.40" y2="130.18" stroke="#222" stroke-width="0.9"/><line x1="471.40" y1="129.46" x2="479.40" y2="129.46" stroke="#222" stroke-width="0.9"/><rect x="489.50" y="132.05" width="16.40" height="6.75" fill="#c65a3a" stroke="#b04a2e" stroke-width="0.6"/><line x1="497.70" y1="130.18" x2="497.70" y2="132.05" stroke="#222" stroke-width="0.9"/><line x1="493.70" y1="130.18" x2="501.70" y2="130.18" stroke="#222" stroke-width="0.9"/><line x1="340.90" y1="32.20" x2="340.90" y2="139.40" stroke="#4a4a4a" stroke-width="1.3"/><line x1="340.30" y1="138.80" x2="512.30" y2="138.80" stroke="#4a4a4a" stroke-width="1.3"/><line x1="338.20" y1="138.80" x2="340.90" y2="138.80" stroke="#444" stroke-width="1"/><line x1="338.20" y1="118.04" x2="340.90" y2="118.04" stroke="#444" stroke-width="1"/><line x1="338.20" y1="97.28" x2="340.90" y2="97.28" stroke="#444" stroke-width="1"/><line x1="338.20" y1="76.52" x2="340.90" y2="76.52" stroke="#444" stroke-width="1"/><line x1="338.20" y1="55.76" x2="340.90" y2="55.76" stroke="#444" stroke-width="1"/><line x1="338.20" y1="35.00" x2="340.90" y2="35.00" stroke="#444" stroke-width="1"/><text x="322.33" y="37.47" font-size="7.81" fill="#333" stroke="#333" stroke-width="0.15" textLength="12.57" lengthAdjust="spacingAndGlyphs" >100</text><text x="326.21" y="58.28" font-size="7.81" fill="#333" stroke="#333" stroke-width="0.15" textLength="8.70" lengthAdjust="spacingAndGlyphs" >80</text><text x="326.15" y="79.04" font-size="7.81" fill="#333" stroke="#333" stroke-width="0.15" textLength="8.76" lengthAdjust="spacingAndGlyphs" >60</text><text x="326.37" y="99.80" font-size="7.81" fill="#333" stroke="#333" stroke-width="0.15" textLength="8.53" lengthAdjust="spacingAndGlyphs" >40</text><text x="326.15" y="120.56" font-size="7.81" fill="#333" stroke="#333" stroke-width="0.15" textLength="8.75" lengthAdjust="spacingAndGlyphs" >20</text><text x="330.11" y="141.32" font-size="7.81" fill="#333" stroke="#333" stroke-width="0.15" textLength="4.77" lengthAdjust="spacingAndGlyphs" >0</text><line x1="367.00" y1="138.80" x2="367.00" y2="141.60" stroke="#333" stroke-width="0.8"/><line x1="426.30" y1="138.80" x2="426.30" y2="141.60" stroke="#333" stroke-width="0.8"/><line x1="486.30" y1="138.80" x2="486.30" y2="141.60" stroke="#333" stroke-width="0.8"/><text x="362.70" y="152.13" font-size="7.45" fill="#333" stroke="#333" stroke-width="0.15" textLength="9.22" lengthAdjust="spacingAndGlyphs" >G0</text><text x="421.58" y="152.22" font-size="7.73" fill="#333" stroke="#333" stroke-width="0.15" textLength="9.72" lengthAdjust="spacingAndGlyphs" >G1</text><text x="473.71" y="151.92" font-size="8.16" fill="#333" stroke="#333" stroke-width="0.15" textLength="25.84" lengthAdjust="spacingAndGlyphs" >S-G2-M</text><text x="373.77" y="127.47" font-size="9.11" fill="#333" stroke="#333" stroke-width="0.1" textLength="9.25" lengthAdjust="spacingAndGlyphs" >***</text><text x="434.87" y="53.67" font-size="9.11" fill="#333" stroke="#333" stroke-width="0.1" textLength="6.26" lengthAdjust="spacingAndGlyphs" >**</text><text x="-89.94" y="315.35" font-size="9.08" fill="#333" stroke="#333" stroke-width="0.15" textLength="8.59" lengthAdjust="spacingAndGlyphs" transform="rotate(-90)" >%</text><rect x="373.10" y="20.20" width="13.30" height="7.70" fill="#5a4889" stroke="#4a3a75" stroke-width="0.6"/><text x="389.52" y="26.72" font-size="8.45" fill="#333" stroke="#333" stroke-width="0.15" textLength="17.15" lengthAdjust="spacingAndGlyphs" >CTRL</text><rect x="425.20" y="20.20" width="13.40" height="7.70" fill="#c65a3a" stroke="#b04a2e" stroke-width="0.6"/><text x="441.30" y="26.80" font-size="8.43" fill="#333" stroke="#333" stroke-width="0.15" textLength="20.29" lengthAdjust="spacingAndGlyphs" >INKA1</text><rect x="345.20" y="268.67" width="21.20" height="15.83" fill="#5a4889" stroke="#4a3a75" stroke-width="0.6"/><line x1="355.70" y1="265.59" x2="355.70" y2="268.67" stroke="#222" stroke-width="0.9"/><line x1="350.40" y1="265.59" x2="361.00" y2="265.59" stroke="#222" stroke-width="0.9"/><rect x="375.00" y="220.42" width="21.20" height="64.08" fill="#c65a3a" stroke="#b04a2e" stroke-width="0.6"/><line x1="385.50" y1="206.91" x2="385.50" y2="220.42" stroke="#222" stroke-width="0.9"/><line x1="380.20" y1="206.91" x2="390.80" y2="206.91" stroke="#222" stroke-width="0.9"/><line x1="340.80" y1="184.30" x2="340.80" y2="285.10" stroke="#4a4a4a" stroke-width="1.3"/><line x1="340.20" y1="284.50" x2="399.70" y2="284.50" stroke="#4a4a4a" stroke-width="1.3"/><line x1="338.10" y1="284.50" x2="340.80" y2="284.50" stroke="#444" stroke-width="1"/><text x="330.41" y="287.07" font-size="7.81" fill="#333" stroke="#333" stroke-width="0.15" textLength="4.77" lengthAdjust="spacingAndGlyphs" >0</text><line x1="338.10" y1="265.20" x2="340.80" y2="265.20" stroke="#444" stroke-width="1"/><text x="330.40" y="267.77" font-size="7.92" fill="#333" stroke="#333" stroke-width="0.15" textLength="4.81" lengthAdjust="spacingAndGlyphs" >5</text><line x1="338.10" y1="245.90" x2="340.80" y2="245.90" stroke="#444" stroke-width="1"/><text x="325.81" y="248.47" font-size="7.81" fill="#333" stroke="#333" stroke-width="0.15" textLength="9.37" lengthAdjust="spacingAndGlyphs" >10</text><line x1="338.10" y1="226.60" x2="340.80" y2="226.60" stroke="#444" stroke-width="1"/><text x="325.81" y="229.17" font-size="7.92" fill="#333" stroke="#333" stroke-width="0.15" textLength="9.40" lengthAdjust="spacingAndGlyphs" >15</text><line x1="338.10" y1="207.30" x2="340.80" y2="207.30" stroke="#444" stroke-width="1"/><text x="326.04" y="209.87" font-size="7.81" fill="#333" stroke="#333" stroke-width="0.15" textLength="9.13" lengthAdjust="spacingAndGlyphs" >20</text><line x1="338.10" y1="188.00" x2="340.80" y2="188.00" stroke="#444" stroke-width="1"/><text x="326.04" y="190.57" font-size="7.81" fill="#333" stroke="#333" stroke-width="0.15" textLength="9.16" lengthAdjust="spacingAndGlyphs" >25</text><line x1="355.70" y1="284.50" x2="355.70" y2="287.30" stroke="#333" stroke-width="0.8"/><line x1="385.50" y1="284.50" x2="385.50" y2="287.30" stroke="#333" stroke-width="0.8"/><text x="346.81" y="298.52" font-size="8.16" fill="#333" stroke="#333" stroke-width="0.15" textLength="17.46" lengthAdjust="spacingAndGlyphs" >CTRL</text><text x="374.71" y="298.60" font-size="8.29" fill="#333" stroke="#333" stroke-width="0.15" textLength="20.08" lengthAdjust="spacingAndGlyphs" >INKA1</text><text x="356.43" y="192.63" font-size="7.59" fill="#222" stroke="#222" stroke-width="0.15" textLength="33.77" lengthAdjust="spacingAndGlyphs" >*P = .0251</text><text x="-292.90" y="320.20" font-size="9.74" fill="#333" stroke="#333" stroke-width="0.15" textLength="36.62" lengthAdjust="spacingAndGlyphs" transform="rotate(-90)" >% CD34+</text><text x="-252.10" y="320.31" font-size="9.38" fill="#333" stroke="#333" stroke-width="0.15" textLength="34.71" lengthAdjust="spacingAndGlyphs" transform="rotate(-90)" >celltrace</text><text x="-216.94" y="316.49" font-size="6.33" fill="#333" stroke="#333" stroke-width="0.25" textLength="11.95" lengthAdjust="spacingAndGlyphs" transform="rotate(-90)" >high</text><text x="-201.81" y="319.91" font-size="9.12" fill="#333" stroke="#333" stroke-width="0.15" textLength="26.43" lengthAdjust="spacingAndGlyphs" transform="rotate(-90)" >(BFP+)</text><rect x="457.20" y="221.32" width="20.80" height="63.38" fill="#5a4889" stroke="#4a3a75" stroke-width="0.6"/><line x1="467.40" y1="210.66" x2="467.40" y2="221.32" stroke="#222" stroke-width="0.9"/><line x1="462.00" y1="210.66" x2="472.80" y2="210.66" stroke="#222" stroke-width="0.9"/><rect x="484.90" y="240.78" width="21.40" height="43.92" fill="#c65a3a" stroke="#b04a2e" stroke-width="0.6"/><line x1="495.50" y1="235.00" x2="495.50" y2="240.78" stroke="#222" stroke-width="0.9"/><line x1="490.25" y1="235.00" x2="500.75" y2="235.00" stroke="#222" stroke-width="0.9"/><line x1="453.30" y1="181.50" x2="453.30" y2="285.30" stroke="#4a4a4a" stroke-width="1.3"/><line x1="452.70" y1="284.70" x2="512.60" y2="284.70" stroke="#4a4a4a" stroke-width="1.3"/><line x1="450.60" y1="284.70" x2="453.30" y2="284.70" stroke="#444" stroke-width="1"/><text x="443.43" y="287.27" font-size="7.81" fill="#333" stroke="#333" stroke-width="0.15" textLength="4.54" lengthAdjust="spacingAndGlyphs" >0</text><line x1="450.60" y1="259.60" x2="453.30" y2="259.60" stroke="#444" stroke-width="1"/><text x="439.05" y="262.17" font-size="7.81" fill="#333" stroke="#333" stroke-width="0.15" textLength="8.92" lengthAdjust="spacingAndGlyphs" >20</text><line x1="450.60" y1="234.50" x2="453.30" y2="234.50" stroke="#444" stroke-width="1"/><text x="439.27" y="237.07" font-size="7.81" fill="#333" stroke="#333" stroke-width="0.15" textLength="8.68" lengthAdjust="spacingAndGlyphs" >40</text><line x1="450.60" y1="209.40" x2="453.30" y2="209.40" stroke="#444" stroke-width="1"/><text x="439.04" y="211.97" font-size="7.81" fill="#333" stroke="#333" stroke-width="0.15" textLength="8.92" lengthAdjust="spacingAndGlyphs" >60</text><line x1="450.60" y1="184.30" x2="453.30" y2="184.30" stroke="#444" stroke-width="1"/><text x="439.10" y="186.87" font-size="7.81" fill="#333" stroke="#333" stroke-width="0.15" textLength="8.86" lengthAdjust="spacingAndGlyphs" >80</text><line x1="467.40" y1="284.70" x2="467.40" y2="287.50" stroke="#333" stroke-width="0.8"/><line x1="495.50" y1="284.70" x2="495.50" y2="287.50" stroke="#333" stroke-width="0.8"/><text x="458.92" y="298.52" font-size="8.16" fill="#333" stroke="#333" stroke-width="0.15" textLength="16.84" lengthAdjust="spacingAndGlyphs" >CTRL</text><text x="484.38" y="298.60" font-size="8.29" fill="#333" stroke="#333" stroke-width="0.15" textLength="20.92" lengthAdjust="spacingAndGlyphs" >INKA1</text><text x="466.43" y="199.72" font-size="8.02" fill="#222" stroke="#222" stroke-width="0.15" textLength="30.03" lengthAdjust="spacingAndGlyphs" >*P = .044</text><text x="-291.01" y="432.87" font-size="9.34" fill="#333" stroke="#333" stroke-width="0.15" textLength="116.96" lengthAdjust="spacingAndGlyphs" transform="rotate(-90)" >% BrdU+(CD34+CD38-BFP+)</text><rect x="0" y="0" width="520" height="1" fill="#111"/><rect x="0" y="319.7" width="520" height="1.3" fill="#111"/><rect x="0" y="0" width="1" height="321" fill="#3a3a3a"/><rect x="1" y="0" width="1" height="321" fill="#5a5a5a"/><rect x="518" y="0" width="1" height="321" fill="#3a3a3a"/><rect x="519" y="0" width="1" height="321" fill="#666"/></svg>
</body></html>
